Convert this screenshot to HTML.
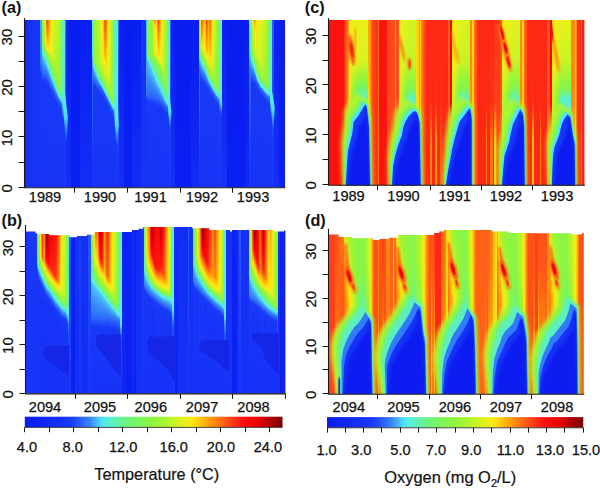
<!DOCTYPE html><html><head><meta charset="utf-8"><style>html,body{margin:0;padding:0;background:#fff;width:600px;height:489px;overflow:hidden}svg{display:block}</style></head><body>
<svg width="600" height="489" viewBox="0 0 600 489" font-family="&apos;Liberation Sans&apos;, sans-serif">
<defs><linearGradient id="cm" x1="0" y1="0" x2="1" y2="0"><stop offset="0.000" stop-color="#081cf0"/><stop offset="0.025" stop-color="#0b20f1"/><stop offset="0.050" stop-color="#0d23f3"/><stop offset="0.075" stop-color="#1027f4"/><stop offset="0.100" stop-color="#122bf5"/><stop offset="0.125" stop-color="#142ff6"/><stop offset="0.150" stop-color="#1634f7"/><stop offset="0.175" stop-color="#1839f8"/><stop offset="0.200" stop-color="#204dfa"/><stop offset="0.225" stop-color="#2b68fc"/><stop offset="0.250" stop-color="#3683fb"/><stop offset="0.275" stop-color="#47affa"/><stop offset="0.300" stop-color="#4ee5f5"/><stop offset="0.325" stop-color="#58f0d7"/><stop offset="0.350" stop-color="#5ef0b5"/><stop offset="0.375" stop-color="#66f298"/><stop offset="0.400" stop-color="#6ef37e"/><stop offset="0.425" stop-color="#76f468"/><stop offset="0.450" stop-color="#7ff558"/><stop offset="0.475" stop-color="#87f54a"/><stop offset="0.500" stop-color="#91f53e"/><stop offset="0.525" stop-color="#9df535"/><stop offset="0.550" stop-color="#aef52d"/><stop offset="0.575" stop-color="#c2f527"/><stop offset="0.600" stop-color="#d8f320"/><stop offset="0.625" stop-color="#ecef1a"/><stop offset="0.650" stop-color="#fde914"/><stop offset="0.675" stop-color="#ffcd0d"/><stop offset="0.700" stop-color="#ffb009"/><stop offset="0.725" stop-color="#ff950c"/><stop offset="0.750" stop-color="#ff7912"/><stop offset="0.775" stop-color="#ff5d17"/><stop offset="0.800" stop-color="#ff4019"/><stop offset="0.825" stop-color="#fd2514"/><stop offset="0.850" stop-color="#fa100e"/><stop offset="0.875" stop-color="#f50809"/><stop offset="0.900" stop-color="#ed0205"/><stop offset="0.925" stop-color="#d00101"/><stop offset="0.950" stop-color="#b30001"/><stop offset="0.975" stop-color="#950003"/><stop offset="1.000" stop-color="#780005"/></linearGradient></defs>
<rect width="600" height="489" fill="#fff"/>
<defs>
<filter id="b05" x="-50%" y="-50%" width="200%" height="200%"><feGaussianBlur stdDeviation="0.5"/></filter>
<filter id="b1" x="-50%" y="-50%" width="200%" height="200%"><feGaussianBlur stdDeviation="1"/></filter>
<filter id="b2" x="-50%" y="-50%" width="200%" height="200%"><feGaussianBlur stdDeviation="2"/></filter>
<filter id="b3" x="-50%" y="-50%" width="200%" height="200%"><feGaussianBlur stdDeviation="3"/></filter>
<filter id="bh" x="-50%" y="-50%" width="200%" height="200%"><feGaussianBlur stdDeviation="1 0.2"/></filter>
</defs>
<defs><clipPath id="cpa"><polygon points="25.00,20.00 285.00,20.00 285.00,187.50 25.00,187.50"/></clipPath><linearGradient id="ga1" x2="0" y2="1"><stop offset=".003" stop-color="#0d23f2"/><stop offset=".994" stop-color="#122af5"/></linearGradient><linearGradient id="ga2" x2="0" y2="1"><stop offset=".003" stop-color="#1531f6"/><stop offset=".994" stop-color="#1633f7"/></linearGradient><linearGradient id="ga3" x2="0" y2="1"><stop offset=".003" stop-color="#1736f7"/><stop offset=".994" stop-color="#1734f7"/></linearGradient><linearGradient id="ga4" x2="0" y2="1"><stop offset=".003" stop-color="#47b0fa"/><stop offset=".255" stop-color="#347dfc"/><stop offset=".331" stop-color="#1939f8"/><stop offset=".994" stop-color="#1734f7"/></linearGradient><linearGradient id="ga5" x2="0" y2="1"><stop offset=".003" stop-color="#8df542"/><stop offset=".138" stop-color="#84f54f"/><stop offset=".167" stop-color="#6ff379"/><stop offset=".202" stop-color="#59f0d1"/><stop offset=".214" stop-color="#4ce3f8"/><stop offset=".22" stop-color="#4bc5fa"/><stop offset=".279" stop-color="#3786fb"/><stop offset=".331" stop-color="#2962fc"/><stop offset=".367" stop-color="#1838f8"/><stop offset=".994" stop-color="#1734f7"/></linearGradient><linearGradient id="ga6" x2="0" y2="1"><stop offset=".003" stop-color="#a2f531"/><stop offset=".144" stop-color="#91f53f"/><stop offset=".185" stop-color="#6ff37c"/><stop offset=".214" stop-color="#5af0ca"/><stop offset=".226" stop-color="#4fe6f3"/><stop offset=".232" stop-color="#4bcafa"/><stop offset=".279" stop-color="#398bfa"/><stop offset=".337" stop-color="#265dfc"/><stop offset=".367" stop-color="#1939f8"/><stop offset=".994" stop-color="#1734f7"/></linearGradient><linearGradient id="ga7" x2="0" y2="1"><stop offset=".003" stop-color="#c1f527"/><stop offset=".144" stop-color="#adf52e"/><stop offset=".185" stop-color="#7cf55d"/><stop offset=".214" stop-color="#63f1a0"/><stop offset=".238" stop-color="#51eaee"/><stop offset=".249" stop-color="#4bc0fa"/><stop offset=".29" stop-color="#3888fb"/><stop offset=".343" stop-color="#2458fc"/><stop offset=".372" stop-color="#1838f8"/><stop offset=".994" stop-color="#1734f7"/></linearGradient><linearGradient id="ga8" x2="0" y2="1"><stop offset=".003" stop-color="#ffe212"/><stop offset=".132" stop-color="#dff21e"/><stop offset=".161" stop-color="#d3f321"/><stop offset=".173" stop-color="#a0f532"/><stop offset=".196" stop-color="#80f555"/><stop offset=".22" stop-color="#6bf387"/><stop offset=".243" stop-color="#59f0d0"/><stop offset=".255" stop-color="#4ce3f7"/><stop offset=".261" stop-color="#4bc5fa"/><stop offset=".296" stop-color="#3889fb"/><stop offset=".343" stop-color="#265bfc"/><stop offset=".372" stop-color="#1838f8"/><stop offset=".994" stop-color="#1734f7"/></linearGradient><linearGradient id="ga9" x2="0" y2="1"><stop offset=".003" stop-color="#ff6715"/><stop offset=".073" stop-color="#ff970c"/><stop offset=".167" stop-color="#fee814"/><stop offset=".179" stop-color="#f8eb16"/><stop offset=".185" stop-color="#daf31f"/><stop offset=".191" stop-color="#aaf52f"/><stop offset=".196" stop-color="#8ff540"/><stop offset=".232" stop-color="#6ef37c"/><stop offset=".267" stop-color="#51eaee"/><stop offset=".279" stop-color="#4bbefa"/><stop offset=".308" stop-color="#3787fb"/><stop offset=".372" stop-color="#1939f8"/><stop offset=".994" stop-color="#1734f7"/></linearGradient><linearGradient id="ga10" x2="0" y2="1"><stop offset=".003" stop-color="#ff4319"/><stop offset=".038" stop-color="#ff5d17"/><stop offset=".138" stop-color="#ffbe0b"/><stop offset=".185" stop-color="#fce915"/><stop offset=".191" stop-color="#f8eb16"/><stop offset=".208" stop-color="#99f538"/><stop offset=".243" stop-color="#72f473"/><stop offset=".273" stop-color="#5af0cc"/><stop offset=".284" stop-color="#4ee5f4"/><stop offset=".29" stop-color="#4bc7fa"/><stop offset=".32" stop-color="#3887fb"/><stop offset=".384" stop-color="#1839f8"/><stop offset=".994" stop-color="#1734f7"/></linearGradient><linearGradient id="ga11" x2="0" y2="1"><stop offset=".003" stop-color="#ff6a15"/><stop offset=".132" stop-color="#ffc20b"/><stop offset=".191" stop-color="#faea15"/><stop offset=".196" stop-color="#f7eb16"/><stop offset=".22" stop-color="#9ef534"/><stop offset=".249" stop-color="#7af561"/><stop offset=".279" stop-color="#61f1ac"/><stop offset=".296" stop-color="#53edea"/><stop offset=".302" stop-color="#4bdffa"/><stop offset=".308" stop-color="#4bc0fa"/><stop offset=".331" stop-color="#398afa"/><stop offset=".396" stop-color="#1939f8"/><stop offset=".994" stop-color="#1734f7"/></linearGradient><linearGradient id="ga12" x2="0" y2="1"><stop offset=".003" stop-color="#ffa808"/><stop offset=".179" stop-color="#fbea15"/><stop offset=".202" stop-color="#eeee19"/><stop offset=".238" stop-color="#97f53a"/><stop offset=".273" stop-color="#73f46f"/><stop offset=".302" stop-color="#5bf0c6"/><stop offset=".314" stop-color="#50e8f0"/><stop offset=".326" stop-color="#4bbafa"/><stop offset=".349" stop-color="#3887fb"/><stop offset=".408" stop-color="#193af8"/><stop offset=".994" stop-color="#1734f7"/></linearGradient><linearGradient id="ga13" x2="0" y2="1"><stop offset=".003" stop-color="#ffcc0d"/><stop offset=".155" stop-color="#f8eb16"/><stop offset=".202" stop-color="#f0ed18"/><stop offset=".249" stop-color="#9af537"/><stop offset=".284" stop-color="#77f467"/><stop offset=".314" stop-color="#5ef0b7"/><stop offset=".326" stop-color="#55f0e4"/><stop offset=".331" stop-color="#4ee5f5"/><stop offset=".337" stop-color="#4bc6fa"/><stop offset=".361" stop-color="#398afa"/><stop offset=".425" stop-color="#1839f8"/><stop offset=".994" stop-color="#1734f7"/></linearGradient><linearGradient id="ga14" x2="0" y2="1"><stop offset=".003" stop-color="#fbea15"/><stop offset=".208" stop-color="#eaf01a"/><stop offset=".261" stop-color="#9cf536"/><stop offset=".296" stop-color="#7bf55f"/><stop offset=".326" stop-color="#61f1aa"/><stop offset=".343" stop-color="#54eee9"/><stop offset=".349" stop-color="#4ce2f9"/><stop offset=".355" stop-color="#4bc1fa"/><stop offset=".378" stop-color="#3785fb"/><stop offset=".437" stop-color="#1839f8"/><stop offset=".994" stop-color="#1734f7"/></linearGradient><linearGradient id="ga15" x2="0" y2="1"><stop offset=".003" stop-color="#edef19"/><stop offset=".22" stop-color="#d6f321"/><stop offset=".279" stop-color="#99f538"/><stop offset=".308" stop-color="#7ff556"/><stop offset=".331" stop-color="#6af38a"/><stop offset=".361" stop-color="#52ecec"/><stop offset=".367" stop-color="#4bdbfa"/><stop offset=".378" stop-color="#44a8fa"/><stop offset=".396" stop-color="#347efc"/><stop offset=".443" stop-color="#193af8"/><stop offset=".994" stop-color="#1734f7"/></linearGradient><linearGradient id="ga16" x2="0" y2="1"><stop offset=".003" stop-color="#dff21e"/><stop offset=".226" stop-color="#c8f425"/><stop offset=".302" stop-color="#94f53c"/><stop offset=".337" stop-color="#74f46c"/><stop offset=".367" stop-color="#5bf0c4"/><stop offset=".378" stop-color="#50e9ef"/><stop offset=".39" stop-color="#49b5fa"/><stop offset=".408" stop-color="#357ffc"/><stop offset=".455" stop-color="#193af8"/><stop offset=".994" stop-color="#1734f7"/></linearGradient><linearGradient id="ga17" x2="0" y2="1"><stop offset=".003" stop-color="#d3f321"/><stop offset=".238" stop-color="#b9f52a"/><stop offset=".331" stop-color="#8af546"/><stop offset=".361" stop-color="#6ef37e"/><stop offset=".39" stop-color="#56f0e2"/><stop offset=".396" stop-color="#4ee6f3"/><stop offset=".413" stop-color="#3b91fa"/><stop offset=".437" stop-color="#2861fc"/><stop offset=".472" stop-color="#1838f8"/><stop offset=".994" stop-color="#1734f7"/></linearGradient><linearGradient id="ga18" x2="0" y2="1"><stop offset=".003" stop-color="#cdf423"/><stop offset=".249" stop-color="#b2f52c"/><stop offset=".343" stop-color="#91f53f"/><stop offset=".372" stop-color="#72f470"/><stop offset=".408" stop-color="#54efe8"/><stop offset=".413" stop-color="#4ce2f8"/><stop offset=".425" stop-color="#419ffa"/><stop offset=".437" stop-color="#3278fc"/><stop offset=".478" stop-color="#193af8"/><stop offset=".994" stop-color="#1734f7"/></linearGradient><linearGradient id="ga19" x2="0" y2="1"><stop offset=".003" stop-color="#c7f425"/><stop offset=".255" stop-color="#adf52e"/><stop offset=".361" stop-color="#91f53f"/><stop offset=".39" stop-color="#71f473"/><stop offset=".425" stop-color="#52ebed"/><stop offset=".431" stop-color="#4bd9fa"/><stop offset=".443" stop-color="#3a8efa"/><stop offset=".455" stop-color="#2c6bfc"/><stop offset=".496" stop-color="#1838f8"/><stop offset=".994" stop-color="#1734f7"/></linearGradient><linearGradient id="ga20" x2="0" y2="1"><stop offset=".003" stop-color="#c0f527"/><stop offset=".267" stop-color="#a7f530"/><stop offset=".378" stop-color="#91f53f"/><stop offset=".408" stop-color="#70f476"/><stop offset=".437" stop-color="#56f0df"/><stop offset=".443" stop-color="#4fe7f2"/><stop offset=".449" stop-color="#4bcdfa"/><stop offset=".455" stop-color="#41a0fa"/><stop offset=".466" stop-color="#2d6cfc"/><stop offset=".501" stop-color="#193af8"/><stop offset=".994" stop-color="#1734f7"/></linearGradient><linearGradient id="ga21" x2="0" y2="1"><stop offset=".003" stop-color="#b8f52a"/><stop offset=".279" stop-color="#a0f532"/><stop offset=".396" stop-color="#8cf544"/><stop offset=".419" stop-color="#72f471"/><stop offset=".455" stop-color="#51eaee"/><stop offset=".46" stop-color="#4bd6fa"/><stop offset=".466" stop-color="#42a3fa"/><stop offset=".472" stop-color="#347efc"/><stop offset=".478" stop-color="#2c69fc"/><stop offset=".519" stop-color="#1838f8"/><stop offset=".994" stop-color="#1734f7"/></linearGradient><linearGradient id="ga22" x2="0" y2="1"><stop offset=".003" stop-color="#aef52d"/><stop offset=".384" stop-color="#92f53d"/><stop offset=".408" stop-color="#8af547"/><stop offset=".431" stop-color="#70f476"/><stop offset=".46" stop-color="#56f0e1"/><stop offset=".466" stop-color="#4fe6f3"/><stop offset=".472" stop-color="#4bcafa"/><stop offset=".478" stop-color="#398bfa"/><stop offset=".484" stop-color="#2c6bfc"/><stop offset=".519" stop-color="#193af8"/><stop offset=".994" stop-color="#1734f7"/></linearGradient><linearGradient id="ga23" x2="0" y2="1"><stop offset=".003" stop-color="#a3f531"/><stop offset=".413" stop-color="#8ff540"/><stop offset=".443" stop-color="#6ff37b"/><stop offset=".472" stop-color="#54efe7"/><stop offset=".478" stop-color="#4ce3f8"/><stop offset=".484" stop-color="#48b2fa"/><stop offset=".49" stop-color="#3175fc"/><stop offset=".513" stop-color="#204dfa"/><stop offset=".537" stop-color="#1837f8"/><stop offset=".994" stop-color="#1734f7"/></linearGradient><linearGradient id="ga24" x2="0" y2="1"><stop offset=".003" stop-color="#9cf536"/><stop offset=".425" stop-color="#8df543"/><stop offset=".449" stop-color="#73f46e"/><stop offset=".484" stop-color="#52ecec"/><stop offset=".49" stop-color="#4bdbfa"/><stop offset=".496" stop-color="#398afa"/><stop offset=".501" stop-color="#2b67fc"/><stop offset=".537" stop-color="#1939f8"/><stop offset=".994" stop-color="#1734f7"/></linearGradient><linearGradient id="ga25" x2="0" y2="1"><stop offset=".003" stop-color="#5cf0be"/><stop offset=".455" stop-color="#59f0d0"/><stop offset=".49" stop-color="#4ce2f8"/><stop offset=".519" stop-color="#42a3fa"/><stop offset=".572" stop-color="#2252fb"/><stop offset=".595" stop-color="#1839f8"/><stop offset=".994" stop-color="#1736f7"/></linearGradient><linearGradient id="ga26" x2="0" y2="1"><stop offset=".003" stop-color="#3580fc"/><stop offset=".63" stop-color="#214ffb"/><stop offset=".771" stop-color="#1838f8"/><stop offset=".994" stop-color="#1736f7"/></linearGradient><linearGradient id="ga27" x2="0" y2="1"><stop offset=".003" stop-color="#0a1ff1"/><stop offset=".994" stop-color="#142ff6"/></linearGradient><linearGradient id="ga28" x2="0" y2="1"><stop offset=".003" stop-color="#081df0"/><stop offset=".994" stop-color="#0a1ff1"/></linearGradient><linearGradient id="ga29" x2="0" y2="1"><stop offset=".003" stop-color="#091ef1"/><stop offset=".994" stop-color="#132df6"/></linearGradient><linearGradient id="ga30" x2="0" y2="1"><stop offset=".003" stop-color="#5af0cc"/><stop offset=".191" stop-color="#51eaed"/><stop offset=".226" stop-color="#4bd7fa"/><stop offset=".302" stop-color="#388afb"/><stop offset=".384" stop-color="#2c69fc"/><stop offset=".859" stop-color="#1839f8"/><stop offset=".994" stop-color="#1736f7"/></linearGradient><linearGradient id="ga31" x2="0" y2="1"><stop offset=".003" stop-color="#81f554"/><stop offset=".249" stop-color="#7bf55f"/><stop offset=".255" stop-color="#75f46a"/><stop offset=".273" stop-color="#59f0cf"/><stop offset=".284" stop-color="#4de4f6"/><stop offset=".29" stop-color="#4bc5fa"/><stop offset=".326" stop-color="#388afb"/><stop offset=".378" stop-color="#2253fb"/><stop offset=".402" stop-color="#1839f8"/><stop offset=".994" stop-color="#1734f7"/></linearGradient><linearGradient id="ga32" x2="0" y2="1"><stop offset=".003" stop-color="#97f539"/><stop offset=".249" stop-color="#8ff540"/><stop offset=".267" stop-color="#77f466"/><stop offset=".296" stop-color="#53edeb"/><stop offset=".302" stop-color="#4bdffa"/><stop offset=".308" stop-color="#4bc1fa"/><stop offset=".337" stop-color="#3889fb"/><stop offset=".408" stop-color="#1839f8"/><stop offset=".994" stop-color="#1734f7"/></linearGradient><linearGradient id="ga33" x2="0" y2="1"><stop offset=".003" stop-color="#9df535"/><stop offset=".267" stop-color="#8ff540"/><stop offset=".284" stop-color="#74f46c"/><stop offset=".308" stop-color="#57f0db"/><stop offset=".314" stop-color="#51e9ef"/><stop offset=".326" stop-color="#4bbcfa"/><stop offset=".349" stop-color="#3888fb"/><stop offset=".408" stop-color="#193af8"/><stop offset=".994" stop-color="#1734f7"/></linearGradient><linearGradient id="ga34" x2="0" y2="1"><stop offset=".003" stop-color="#a5f530"/><stop offset=".267" stop-color="#94f53c"/><stop offset=".284" stop-color="#8bf546"/><stop offset=".302" stop-color="#71f474"/><stop offset=".326" stop-color="#56f0e1"/><stop offset=".331" stop-color="#4fe6f3"/><stop offset=".349" stop-color="#42a2fa"/><stop offset=".367" stop-color="#347dfc"/><stop offset=".413" stop-color="#193af8"/><stop offset=".994" stop-color="#1734f7"/></linearGradient><linearGradient id="ga35" x2="0" y2="1"><stop offset=".003" stop-color="#aef52d"/><stop offset=".267" stop-color="#9af537"/><stop offset=".296" stop-color="#90f53f"/><stop offset=".32" stop-color="#6ef37d"/><stop offset=".343" stop-color="#55f0e7"/><stop offset=".349" stop-color="#4de3f7"/><stop offset=".367" stop-color="#3b90fa"/><stop offset=".396" stop-color="#265bfc"/><stop offset=".425" stop-color="#1839f8"/><stop offset=".994" stop-color="#1734f7"/></linearGradient><linearGradient id="ga36" x2="0" y2="1"><stop offset=".003" stop-color="#b9f52a"/><stop offset=".255" stop-color="#a5f530"/><stop offset=".314" stop-color="#8bf546"/><stop offset=".331" stop-color="#72f471"/><stop offset=".361" stop-color="#51eaee"/><stop offset=".367" stop-color="#4bd6fa"/><stop offset=".378" stop-color="#3a8dfa"/><stop offset=".396" stop-color="#2963fc"/><stop offset=".431" stop-color="#1839f8"/><stop offset=".994" stop-color="#1734f7"/></linearGradient><linearGradient id="ga37" x2="0" y2="1"><stop offset=".003" stop-color="#cbf424"/><stop offset=".255" stop-color="#b3f52c"/><stop offset=".32" stop-color="#91f53f"/><stop offset=".343" stop-color="#70f477"/><stop offset=".367" stop-color="#56f0e0"/><stop offset=".372" stop-color="#4fe7f2"/><stop offset=".378" stop-color="#4bccfa"/><stop offset=".384" stop-color="#41a1fa"/><stop offset=".396" stop-color="#2e6ffc"/><stop offset=".437" stop-color="#1839f8"/><stop offset=".994" stop-color="#1734f7"/></linearGradient><linearGradient id="ga38" x2="0" y2="1"><stop offset=".003" stop-color="#def21e"/><stop offset=".249" stop-color="#c7f425"/><stop offset=".331" stop-color="#8ff540"/><stop offset=".355" stop-color="#6ef37d"/><stop offset=".378" stop-color="#55f0e6"/><stop offset=".384" stop-color="#4de4f6"/><stop offset=".39" stop-color="#4bbffa"/><stop offset=".396" stop-color="#398dfa"/><stop offset=".402" stop-color="#3073fc"/><stop offset=".443" stop-color="#1939f8"/><stop offset=".994" stop-color="#1734f7"/></linearGradient><linearGradient id="ga39" x2="0" y2="1"><stop offset=".003" stop-color="#f1ed18"/><stop offset=".249" stop-color="#daf31f"/><stop offset=".326" stop-color="#99f538"/><stop offset=".343" stop-color="#8ef541"/><stop offset=".361" stop-color="#75f46a"/><stop offset=".39" stop-color="#54eee9"/><stop offset=".396" stop-color="#4be2f9"/><stop offset=".402" stop-color="#48b1fa"/><stop offset=".408" stop-color="#357ffc"/><stop offset=".413" stop-color="#2b68fc"/><stop offset=".449" stop-color="#1939f8"/><stop offset=".994" stop-color="#1734f7"/></linearGradient><linearGradient id="ga40" x2="0" y2="1"><stop offset=".003" stop-color="#ffdd11"/><stop offset=".232" stop-color="#edef19"/><stop offset=".261" stop-color="#e1f21d"/><stop offset=".337" stop-color="#9af537"/><stop offset=".355" stop-color="#8ef541"/><stop offset=".372" stop-color="#75f46b"/><stop offset=".402" stop-color="#53edea"/><stop offset=".408" stop-color="#4bdffa"/><stop offset=".419" stop-color="#2d6cfc"/><stop offset=".455" stop-color="#193af8"/><stop offset=".994" stop-color="#1734f7"/></linearGradient><linearGradient id="ga41" x2="0" y2="1"><stop offset=".003" stop-color="#ffb409"/><stop offset=".249" stop-color="#f8ea16"/><stop offset=".355" stop-color="#97f539"/><stop offset=".367" stop-color="#8ff540"/><stop offset=".384" stop-color="#75f46b"/><stop offset=".413" stop-color="#52ecec"/><stop offset=".419" stop-color="#4bdbfa"/><stop offset=".425" stop-color="#398afa"/><stop offset=".431" stop-color="#2b67fc"/><stop offset=".466" stop-color="#1939f8"/><stop offset=".994" stop-color="#1734f7"/></linearGradient><linearGradient id="ga42" x2="0" y2="1"><stop offset=".003" stop-color="#ff5c17"/><stop offset=".191" stop-color="#ffb209"/><stop offset=".261" stop-color="#fce915"/><stop offset=".32" stop-color="#c3f526"/><stop offset=".378" stop-color="#91f53e"/><stop offset=".396" stop-color="#76f469"/><stop offset=".425" stop-color="#52ecec"/><stop offset=".431" stop-color="#4bdbfa"/><stop offset=".437" stop-color="#398afa"/><stop offset=".443" stop-color="#2b67fc"/><stop offset=".478" stop-color="#1939f8"/><stop offset=".994" stop-color="#1734f7"/></linearGradient><linearGradient id="ga43" x2="0" y2="1"><stop offset=".003" stop-color="#ff3517"/><stop offset=".202" stop-color="#ff9f0a"/><stop offset=".279" stop-color="#fbe915"/><stop offset=".384" stop-color="#96f53b"/><stop offset=".402" stop-color="#80f555"/><stop offset=".419" stop-color="#65f29a"/><stop offset=".431" stop-color="#58f0d7"/><stop offset=".437" stop-color="#52ecec"/><stop offset=".443" stop-color="#4bdbfa"/><stop offset=".449" stop-color="#398afa"/><stop offset=".455" stop-color="#2b67fc"/><stop offset=".49" stop-color="#1939f8"/><stop offset=".994" stop-color="#1734f7"/></linearGradient><linearGradient id="ga44" x2="0" y2="1"><stop offset=".003" stop-color="#ff860f"/><stop offset=".226" stop-color="#ffcc0d"/><stop offset=".296" stop-color="#f8eb16"/><stop offset=".396" stop-color="#96f53a"/><stop offset=".413" stop-color="#82f552"/><stop offset=".431" stop-color="#66f298"/><stop offset=".443" stop-color="#58f0d7"/><stop offset=".449" stop-color="#52ecec"/><stop offset=".455" stop-color="#4bdbfa"/><stop offset=".46" stop-color="#398afa"/><stop offset=".466" stop-color="#2b67fc"/><stop offset=".501" stop-color="#1939f8"/><stop offset=".994" stop-color="#1734f7"/></linearGradient><linearGradient id="ga45" x2="0" y2="1"><stop offset=".003" stop-color="#ffc00b"/><stop offset=".273" stop-color="#f8eb16"/><stop offset=".32" stop-color="#e9f01b"/><stop offset=".408" stop-color="#97f53a"/><stop offset=".419" stop-color="#8ff540"/><stop offset=".437" stop-color="#70f477"/><stop offset=".455" stop-color="#58f0d7"/><stop offset=".46" stop-color="#52ecec"/><stop offset=".466" stop-color="#4bdbfa"/><stop offset=".472" stop-color="#398afa"/><stop offset=".478" stop-color="#2b67fc"/><stop offset=".513" stop-color="#1939f8"/><stop offset=".994" stop-color="#1734f7"/></linearGradient><linearGradient id="ga46" x2="0" y2="1"><stop offset=".003" stop-color="#ffe814"/><stop offset=".32" stop-color="#e6f11b"/><stop offset=".413" stop-color="#99f537"/><stop offset=".431" stop-color="#91f53f"/><stop offset=".449" stop-color="#71f474"/><stop offset=".466" stop-color="#58f0d7"/><stop offset=".472" stop-color="#52ecec"/><stop offset=".478" stop-color="#4bdbfa"/><stop offset=".484" stop-color="#398afa"/><stop offset=".49" stop-color="#2b67fc"/><stop offset=".525" stop-color="#1939f8"/><stop offset=".994" stop-color="#1734f7"/></linearGradient><linearGradient id="ga47" x2="0" y2="1"><stop offset=".003" stop-color="#e7f11b"/><stop offset=".331" stop-color="#d6f320"/><stop offset=".431" stop-color="#96f53a"/><stop offset=".449" stop-color="#89f549"/><stop offset=".46" stop-color="#72f470"/><stop offset=".478" stop-color="#58f0d7"/><stop offset=".484" stop-color="#52ecec"/><stop offset=".49" stop-color="#4bdbfa"/><stop offset=".496" stop-color="#398afa"/><stop offset=".501" stop-color="#2b67fc"/><stop offset=".537" stop-color="#1939f8"/><stop offset=".994" stop-color="#1734f7"/></linearGradient><linearGradient id="ga48" x2="0" y2="1"><stop offset=".003" stop-color="#cbf424"/><stop offset=".343" stop-color="#b6f52b"/><stop offset=".455" stop-color="#91f53e"/><stop offset=".466" stop-color="#7ef55a"/><stop offset=".472" stop-color="#73f46f"/><stop offset=".49" stop-color="#58f0d7"/><stop offset=".496" stop-color="#52ecec"/><stop offset=".501" stop-color="#4bdbfa"/><stop offset=".507" stop-color="#398afa"/><stop offset=".513" stop-color="#2b67fc"/><stop offset=".548" stop-color="#1939f8"/><stop offset=".994" stop-color="#1734f7"/></linearGradient><linearGradient id="ga49" x2="0" y2="1"><stop offset=".003" stop-color="#b0f52d"/><stop offset=".408" stop-color="#98f539"/><stop offset=".466" stop-color="#91f53f"/><stop offset=".478" stop-color="#7ef559"/><stop offset=".484" stop-color="#73f46e"/><stop offset=".501" stop-color="#58f0d7"/><stop offset=".507" stop-color="#52ecec"/><stop offset=".513" stop-color="#4bdbfa"/><stop offset=".519" stop-color="#398afa"/><stop offset=".525" stop-color="#2b67fc"/><stop offset=".56" stop-color="#1939f8"/><stop offset=".994" stop-color="#1734f7"/></linearGradient><linearGradient id="ga50" x2="0" y2="1"><stop offset=".003" stop-color="#9ef534"/><stop offset=".478" stop-color="#8ff541"/><stop offset=".49" stop-color="#7df55b"/><stop offset=".496" stop-color="#72f470"/><stop offset=".513" stop-color="#58f0d7"/><stop offset=".519" stop-color="#52ecec"/><stop offset=".525" stop-color="#4bdbfa"/><stop offset=".531" stop-color="#398afa"/><stop offset=".537" stop-color="#2b67fc"/><stop offset=".572" stop-color="#1939f8"/><stop offset=".994" stop-color="#1734f7"/></linearGradient><linearGradient id="ga51" x2="0" y2="1"><stop offset=".003" stop-color="#95f53b"/><stop offset=".49" stop-color="#8bf545"/><stop offset=".501" stop-color="#7bf55f"/><stop offset=".513" stop-color="#66f295"/><stop offset=".525" stop-color="#58f0d7"/><stop offset=".531" stop-color="#52ecec"/><stop offset=".537" stop-color="#4bdbfa"/><stop offset=".543" stop-color="#398afa"/><stop offset=".548" stop-color="#2b67fc"/><stop offset=".584" stop-color="#1939f8"/><stop offset=".994" stop-color="#1734f7"/></linearGradient><linearGradient id="ga52" x2="0" y2="1"><stop offset=".003" stop-color="#5cf0be"/><stop offset=".484" stop-color="#59f0d0"/><stop offset=".513" stop-color="#4de5f5"/><stop offset=".548" stop-color="#3e97fa"/><stop offset=".619" stop-color="#193af8"/><stop offset=".994" stop-color="#1736f7"/></linearGradient><linearGradient id="ga53" x2="0" y2="1"><stop offset=".003" stop-color="#2d6bfc"/><stop offset=".718" stop-color="#1b40f9"/><stop offset=".994" stop-color="#1736f7"/></linearGradient><linearGradient id="ga54" x2="0" y2="1"><stop offset=".003" stop-color="#0a1ff1"/><stop offset=".994" stop-color="#142ff6"/></linearGradient><linearGradient id="ga55" x2="0" y2="1"><stop offset=".003" stop-color="#081df0"/><stop offset=".994" stop-color="#0a1ff1"/></linearGradient><linearGradient id="ga56" x2="0" y2="1"><stop offset=".003" stop-color="#091ef1"/><stop offset=".994" stop-color="#132df6"/></linearGradient><linearGradient id="ga57" x2="0" y2="1"><stop offset=".003" stop-color="#1531f6"/><stop offset=".994" stop-color="#1634f7"/></linearGradient><linearGradient id="ga58" x2="0" y2="1"><stop offset=".003" stop-color="#4bc7fa"/><stop offset=".273" stop-color="#44a8fa"/><stop offset=".419" stop-color="#3784fb"/><stop offset=".449" stop-color="#3580fc"/><stop offset=".466" stop-color="#2252fb"/><stop offset=".478" stop-color="#1838f8"/><stop offset=".994" stop-color="#1734f7"/></linearGradient><linearGradient id="ga59" x2="0" y2="1"><stop offset=".003" stop-color="#79f462"/><stop offset=".22" stop-color="#73f46d"/><stop offset=".226" stop-color="#6cf384"/><stop offset=".238" stop-color="#58f0d7"/><stop offset=".243" stop-color="#52ecec"/><stop offset=".249" stop-color="#4bdbfa"/><stop offset=".255" stop-color="#4bc5fa"/><stop offset=".361" stop-color="#3887fb"/><stop offset=".455" stop-color="#2b68fc"/><stop offset=".49" stop-color="#1939f8"/><stop offset=".994" stop-color="#1734f7"/></linearGradient><linearGradient id="ga60" x2="0" y2="1"><stop offset=".003" stop-color="#89f549"/><stop offset=".22" stop-color="#82f551"/><stop offset=".226" stop-color="#7af561"/><stop offset=".238" stop-color="#5df0ba"/><stop offset=".243" stop-color="#57f0dc"/><stop offset=".249" stop-color="#50e9f0"/><stop offset=".261" stop-color="#4bc4fa"/><stop offset=".361" stop-color="#3888fb"/><stop offset=".455" stop-color="#2c6afc"/><stop offset=".496" stop-color="#1838f8"/><stop offset=".994" stop-color="#1734f7"/></linearGradient><linearGradient id="ga61" x2="0" y2="1"><stop offset=".003" stop-color="#8cf544"/><stop offset=".22" stop-color="#86f54d"/><stop offset=".232" stop-color="#78f465"/><stop offset=".249" stop-color="#60f1b0"/><stop offset=".261" stop-color="#55f0e6"/><stop offset=".267" stop-color="#4de4f6"/><stop offset=".273" stop-color="#4bc6fa"/><stop offset=".372" stop-color="#3887fb"/><stop offset=".46" stop-color="#2a64fc"/><stop offset=".496" stop-color="#1839f8"/><stop offset=".994" stop-color="#1734f7"/></linearGradient><linearGradient id="ga62" x2="0" y2="1"><stop offset=".003" stop-color="#90f53f"/><stop offset=".22" stop-color="#89f548"/><stop offset=".243" stop-color="#72f471"/><stop offset=".279" stop-color="#52ebed"/><stop offset=".284" stop-color="#4bd9fa"/><stop offset=".29" stop-color="#4bc4fa"/><stop offset=".378" stop-color="#3888fb"/><stop offset=".46" stop-color="#2a66fc"/><stop offset=".496" stop-color="#1939f8"/><stop offset=".994" stop-color="#1734f7"/></linearGradient><linearGradient id="ga63" x2="0" y2="1"><stop offset=".003" stop-color="#95f53b"/><stop offset=".22" stop-color="#8df543"/><stop offset=".255" stop-color="#70f378"/><stop offset=".284" stop-color="#5af0cb"/><stop offset=".296" stop-color="#4ee6f4"/><stop offset=".302" stop-color="#4bc8fa"/><stop offset=".384" stop-color="#3888fb"/><stop offset=".46" stop-color="#2b68fc"/><stop offset=".496" stop-color="#1939f8"/><stop offset=".994" stop-color="#1734f7"/></linearGradient><linearGradient id="ga64" x2="0" y2="1"><stop offset=".003" stop-color="#99f538"/><stop offset=".22" stop-color="#91f53f"/><stop offset=".261" stop-color="#73f46f"/><stop offset=".296" stop-color="#5cf0c0"/><stop offset=".308" stop-color="#53edea"/><stop offset=".314" stop-color="#4be0fa"/><stop offset=".32" stop-color="#4bc5fa"/><stop offset=".39" stop-color="#3889fb"/><stop offset=".466" stop-color="#2962fc"/><stop offset=".501" stop-color="#1838f8"/><stop offset=".994" stop-color="#1734f7"/></linearGradient><linearGradient id="ga65" x2="0" y2="1"><stop offset=".003" stop-color="#f7eb16"/><stop offset=".056" stop-color="#d4f321"/><stop offset=".097" stop-color="#b3f52c"/><stop offset=".214" stop-color="#aff52d"/><stop offset=".226" stop-color="#8ef541"/><stop offset=".273" stop-color="#71f474"/><stop offset=".314" stop-color="#5af0c7"/><stop offset=".326" stop-color="#50e9ef"/><stop offset=".337" stop-color="#4bc2fa"/><stop offset=".402" stop-color="#3888fb"/><stop offset=".466" stop-color="#2a64fc"/><stop offset=".501" stop-color="#1839f8"/><stop offset=".994" stop-color="#1734f7"/></linearGradient><linearGradient id="ga66" x2="0" y2="1"><stop offset=".003" stop-color="#ff5517"/><stop offset=".015" stop-color="#ff6116"/><stop offset=".038" stop-color="#ffc30b"/><stop offset=".05" stop-color="#f6eb17"/><stop offset=".056" stop-color="#e7f11b"/><stop offset=".214" stop-color="#e3f21c"/><stop offset=".22" stop-color="#c6f425"/><stop offset=".226" stop-color="#98f539"/><stop offset=".249" stop-color="#83f550"/><stop offset=".29" stop-color="#6df380"/><stop offset=".331" stop-color="#59f0cc"/><stop offset=".343" stop-color="#4ee5f5"/><stop offset=".349" stop-color="#4bc7fa"/><stop offset=".408" stop-color="#3889fb"/><stop offset=".466" stop-color="#2b67fc"/><stop offset=".501" stop-color="#1939f8"/><stop offset=".994" stop-color="#1734f7"/></linearGradient><linearGradient id="ga67" x2="0" y2="1"><stop offset=".003" stop-color="#ffb309"/><stop offset=".038" stop-color="#ffcd0d"/><stop offset=".073" stop-color="#faea16"/><stop offset=".12" stop-color="#e6f11b"/><stop offset=".214" stop-color="#e3f21c"/><stop offset=".22" stop-color="#d5f321"/><stop offset=".232" stop-color="#a2f531"/><stop offset=".243" stop-color="#8df542"/><stop offset=".302" stop-color="#6ef37e"/><stop offset=".343" stop-color="#5af0c7"/><stop offset=".355" stop-color="#51e9ef"/><stop offset=".367" stop-color="#4bc1fa"/><stop offset=".419" stop-color="#3787fb"/><stop offset=".472" stop-color="#2962fc"/><stop offset=".507" stop-color="#1838f8"/><stop offset=".994" stop-color="#1734f7"/></linearGradient><linearGradient id="ga68" x2="0" y2="1"><stop offset=".003" stop-color="#ffc00b"/><stop offset=".109" stop-color="#f9ea16"/><stop offset=".22" stop-color="#e8f11b"/><stop offset=".243" stop-color="#9cf536"/><stop offset=".261" stop-color="#89f548"/><stop offset=".314" stop-color="#6ef37e"/><stop offset=".355" stop-color="#5bf0c5"/><stop offset=".367" stop-color="#52ecec"/><stop offset=".372" stop-color="#4bdbfa"/><stop offset=".378" stop-color="#4bc2fa"/><stop offset=".425" stop-color="#3888fb"/><stop offset=".478" stop-color="#275efc"/><stop offset=".507" stop-color="#1939f8"/><stop offset=".994" stop-color="#1734f7"/></linearGradient><linearGradient id="ga69" x2="0" y2="1"><stop offset=".003" stop-color="#ff7d11"/><stop offset=".12" stop-color="#ffc90c"/><stop offset=".179" stop-color="#fde915"/><stop offset=".232" stop-color="#f0ee19"/><stop offset=".255" stop-color="#98f539"/><stop offset=".32" stop-color="#70f477"/><stop offset=".367" stop-color="#5bf0c5"/><stop offset=".378" stop-color="#52ecec"/><stop offset=".384" stop-color="#4bdbfa"/><stop offset=".39" stop-color="#4bc2fa"/><stop offset=".431" stop-color="#3889fb"/><stop offset=".484" stop-color="#265bfc"/><stop offset=".513" stop-color="#1839f8"/><stop offset=".994" stop-color="#1734f7"/></linearGradient><linearGradient id="ga70" x2="0" y2="1"><stop offset=".003" stop-color="#ff3818"/><stop offset=".044" stop-color="#ff5417"/><stop offset=".173" stop-color="#ffc30b"/><stop offset=".238" stop-color="#f9ea16"/><stop offset=".243" stop-color="#f4ec17"/><stop offset=".261" stop-color="#a3f531"/><stop offset=".273" stop-color="#8df542"/><stop offset=".331" stop-color="#70f378"/><stop offset=".378" stop-color="#5bf0c5"/><stop offset=".39" stop-color="#52ecec"/><stop offset=".396" stop-color="#4bdbfa"/><stop offset=".402" stop-color="#4bc1fa"/><stop offset=".437" stop-color="#398afa"/><stop offset=".49" stop-color="#2458fc"/><stop offset=".519" stop-color="#1838f8"/><stop offset=".994" stop-color="#1734f7"/></linearGradient><linearGradient id="ga71" x2="0" y2="1"><stop offset=".003" stop-color="#ff7213"/><stop offset=".144" stop-color="#ffc30b"/><stop offset=".226" stop-color="#faea15"/><stop offset=".249" stop-color="#f4ec17"/><stop offset=".261" stop-color="#d0f422"/><stop offset=".279" stop-color="#94f53c"/><stop offset=".343" stop-color="#70f477"/><stop offset=".39" stop-color="#5bf0c3"/><stop offset=".402" stop-color="#54eee9"/><stop offset=".408" stop-color="#4ce2f9"/><stop offset=".413" stop-color="#4bc3fa"/><stop offset=".449" stop-color="#3888fb"/><stop offset=".507" stop-color="#1d46f9"/><stop offset=".531" stop-color="#1736f7"/><stop offset=".994" stop-color="#1734f7"/></linearGradient><linearGradient id="ga72" x2="0" y2="1"><stop offset=".003" stop-color="#ffa908"/><stop offset=".185" stop-color="#fbea15"/><stop offset=".261" stop-color="#eeee19"/><stop offset=".284" stop-color="#a1f532"/><stop offset=".308" stop-color="#88f549"/><stop offset=".361" stop-color="#6ef37e"/><stop offset=".408" stop-color="#59f0ce"/><stop offset=".419" stop-color="#4de4f6"/><stop offset=".425" stop-color="#4bc6fa"/><stop offset=".455" stop-color="#398afa"/><stop offset=".513" stop-color="#1d44f9"/><stop offset=".548" stop-color="#1734f7"/><stop offset=".994" stop-color="#1734f7"/></linearGradient><linearGradient id="ga73" x2="0" y2="1"><stop offset=".003" stop-color="#ffe413"/><stop offset=".267" stop-color="#eaf01a"/><stop offset=".279" stop-color="#d1f322"/><stop offset=".302" stop-color="#97f539"/><stop offset=".372" stop-color="#6ef37c"/><stop offset=".419" stop-color="#5af0ca"/><stop offset=".431" stop-color="#4fe7f2"/><stop offset=".443" stop-color="#4bb8fa"/><stop offset=".466" stop-color="#3787fb"/><stop offset=".525" stop-color="#193af8"/><stop offset=".994" stop-color="#1734f7"/></linearGradient><linearGradient id="ga74" x2="0" y2="1"><stop offset=".003" stop-color="#eeee19"/><stop offset=".273" stop-color="#d7f320"/><stop offset=".32" stop-color="#93f53d"/><stop offset=".384" stop-color="#70f477"/><stop offset=".431" stop-color="#5bf0c5"/><stop offset=".443" stop-color="#52ecec"/><stop offset=".449" stop-color="#4bdbfa"/><stop offset=".455" stop-color="#4bbdfa"/><stop offset=".472" stop-color="#398cfa"/><stop offset=".531" stop-color="#193af8"/><stop offset=".994" stop-color="#1734f7"/></linearGradient><linearGradient id="ga75" x2="0" y2="1"><stop offset=".003" stop-color="#d9f31f"/><stop offset=".279" stop-color="#c0f527"/><stop offset=".343" stop-color="#8ef541"/><stop offset=".402" stop-color="#6ff37b"/><stop offset=".449" stop-color="#59f0ce"/><stop offset=".46" stop-color="#4de4f6"/><stop offset=".472" stop-color="#47aefa"/><stop offset=".49" stop-color="#357ffc"/><stop offset=".537" stop-color="#193af8"/><stop offset=".994" stop-color="#1734f7"/></linearGradient><linearGradient id="ga76" x2="0" y2="1"><stop offset=".003" stop-color="#c1f527"/><stop offset=".29" stop-color="#aaf52f"/><stop offset=".367" stop-color="#8af547"/><stop offset=".419" stop-color="#6ef37f"/><stop offset=".46" stop-color="#5af0c8"/><stop offset=".472" stop-color="#50e9ef"/><stop offset=".484" stop-color="#48b2fa"/><stop offset=".496" stop-color="#3785fb"/><stop offset=".525" stop-color="#2253fb"/><stop offset=".548" stop-color="#1839f8"/><stop offset=".994" stop-color="#1734f7"/></linearGradient><linearGradient id="ga77" x2="0" y2="1"><stop offset=".003" stop-color="#acf52e"/><stop offset=".331" stop-color="#97f53a"/><stop offset=".384" stop-color="#8bf546"/><stop offset=".431" stop-color="#6ff379"/><stop offset=".472" stop-color="#5af0c7"/><stop offset=".484" stop-color="#50e9ef"/><stop offset=".49" stop-color="#4bd3fa"/><stop offset=".501" stop-color="#3a8dfa"/><stop offset=".519" stop-color="#2964fc"/><stop offset=".554" stop-color="#1839f8"/><stop offset=".994" stop-color="#1734f7"/></linearGradient><linearGradient id="ga78" x2="0" y2="1"><stop offset=".003" stop-color="#9cf535"/><stop offset=".408" stop-color="#8bf546"/><stop offset=".449" stop-color="#6ef37c"/><stop offset=".484" stop-color="#59f0ce"/><stop offset=".496" stop-color="#4de4f6"/><stop offset=".507" stop-color="#409cfa"/><stop offset=".519" stop-color="#2f71fc"/><stop offset=".56" stop-color="#1939f8"/><stop offset=".994" stop-color="#1734f7"/></linearGradient><linearGradient id="ga79" x2="0" y2="1"><stop offset=".003" stop-color="#91f53f"/><stop offset=".437" stop-color="#87f54c"/><stop offset=".466" stop-color="#6df37f"/><stop offset=".496" stop-color="#58f0d7"/><stop offset=".501" stop-color="#52ecec"/><stop offset=".507" stop-color="#4bdbfa"/><stop offset=".519" stop-color="#398afa"/><stop offset=".531" stop-color="#2b67fc"/><stop offset=".566" stop-color="#1939f8"/><stop offset=".994" stop-color="#1734f7"/></linearGradient><linearGradient id="ga80" x2="0" y2="1"><stop offset=".003" stop-color="#5cf0be"/><stop offset=".472" stop-color="#59f0d1"/><stop offset=".496" stop-color="#4ee5f5"/><stop offset=".513" stop-color="#4bb8fa"/><stop offset=".537" stop-color="#3580fc"/><stop offset=".584" stop-color="#1839f8"/><stop offset=".994" stop-color="#1736f7"/></linearGradient><linearGradient id="ga81" x2="0" y2="1"><stop offset=".003" stop-color="#2861fc"/><stop offset=".695" stop-color="#1c43f9"/><stop offset=".994" stop-color="#1736f7"/></linearGradient><linearGradient id="ga82" x2="0" y2="1"><stop offset=".003" stop-color="#0b20f1"/><stop offset=".994" stop-color="#142ff6"/></linearGradient><linearGradient id="ga83" x2="0" y2="1"><stop offset=".003" stop-color="#091df0"/><stop offset=".994" stop-color="#0a1ff1"/></linearGradient><linearGradient id="ga84" x2="0" y2="1"><stop offset=".003" stop-color="#091ef1"/><stop offset=".994" stop-color="#132bf5"/></linearGradient><linearGradient id="ga85" x2="0" y2="1"><stop offset=".003" stop-color="#6ff37a"/><stop offset=".185" stop-color="#5af0ca"/><stop offset=".226" stop-color="#4ee6f3"/><stop offset=".249" stop-color="#4bc1fa"/><stop offset=".284" stop-color="#3887fb"/><stop offset=".32" stop-color="#3074fc"/><stop offset=".865" stop-color="#1839f8"/><stop offset=".994" stop-color="#1736f7"/></linearGradient><linearGradient id="ga86" x2="0" y2="1"><stop offset=".003" stop-color="#f0ee19"/><stop offset=".167" stop-color="#a7f530"/><stop offset=".196" stop-color="#8ef541"/><stop offset=".22" stop-color="#70f476"/><stop offset=".249" stop-color="#52ecec"/><stop offset=".255" stop-color="#4bdbfa"/><stop offset=".261" stop-color="#4bc0fa"/><stop offset=".29" stop-color="#3787fb"/><stop offset=".355" stop-color="#1939f8"/><stop offset=".994" stop-color="#1734f7"/></linearGradient><linearGradient id="ga87" x2="0" y2="1"><stop offset=".003" stop-color="#ff5317"/><stop offset=".044" stop-color="#ff6f14"/><stop offset=".114" stop-color="#ffaf09"/><stop offset=".155" stop-color="#faea15"/><stop offset=".202" stop-color="#9af537"/><stop offset=".232" stop-color="#75f46b"/><stop offset=".261" stop-color="#56f0df"/><stop offset=".267" stop-color="#4fe7f1"/><stop offset=".284" stop-color="#45aafa"/><stop offset=".302" stop-color="#3786fb"/><stop offset=".367" stop-color="#1838f8"/><stop offset=".994" stop-color="#1734f7"/></linearGradient><linearGradient id="ga88" x2="0" y2="1"><stop offset=".003" stop-color="#ff6e14"/><stop offset=".073" stop-color="#ff9e0a"/><stop offset=".161" stop-color="#fce915"/><stop offset=".179" stop-color="#e6f11b"/><stop offset=".214" stop-color="#9df535"/><stop offset=".238" stop-color="#7ef559"/><stop offset=".255" stop-color="#67f293"/><stop offset=".273" stop-color="#56f0e1"/><stop offset=".279" stop-color="#4fe6f3"/><stop offset=".29" stop-color="#4ab7fa"/><stop offset=".314" stop-color="#3683fb"/><stop offset=".372" stop-color="#1839f8"/><stop offset=".994" stop-color="#1734f7"/></linearGradient><linearGradient id="ga89" x2="0" y2="1"><stop offset=".003" stop-color="#ff890f"/><stop offset=".103" stop-color="#ffcd0d"/><stop offset=".167" stop-color="#fbea15"/><stop offset=".185" stop-color="#f0ee18"/><stop offset=".232" stop-color="#99f538"/><stop offset=".255" stop-color="#78f464"/><stop offset=".273" stop-color="#60f1ac"/><stop offset=".284" stop-color="#56f0e3"/><stop offset=".29" stop-color="#4ee5f4"/><stop offset=".302" stop-color="#49b4fa"/><stop offset=".32" stop-color="#3888fb"/><stop offset=".378" stop-color="#1939f8"/><stop offset=".994" stop-color="#1734f7"/></linearGradient><linearGradient id="ga90" x2="0" y2="1"><stop offset=".003" stop-color="#ffcb0d"/><stop offset=".144" stop-color="#fbe915"/><stop offset=".196" stop-color="#f5ec17"/><stop offset=".249" stop-color="#97f539"/><stop offset=".261" stop-color="#86f54d"/><stop offset=".273" stop-color="#72f472"/><stop offset=".29" stop-color="#58f0d3"/><stop offset=".302" stop-color="#4be1fa"/><stop offset=".308" stop-color="#4bc0fa"/><stop offset=".326" stop-color="#398cfa"/><stop offset=".384" stop-color="#193af8"/><stop offset=".994" stop-color="#1734f7"/></linearGradient><linearGradient id="ga91" x2="0" y2="1"><stop offset=".003" stop-color="#ff940c"/><stop offset=".167" stop-color="#ffdc11"/><stop offset=".208" stop-color="#f6eb17"/><stop offset=".267" stop-color="#97f53a"/><stop offset=".279" stop-color="#85f54e"/><stop offset=".29" stop-color="#6ff37a"/><stop offset=".308" stop-color="#57f0dd"/><stop offset=".314" stop-color="#50e8f0"/><stop offset=".326" stop-color="#4ab6fa"/><stop offset=".337" stop-color="#3a8dfa"/><stop offset=".396" stop-color="#1939f8"/><stop offset=".994" stop-color="#1734f7"/></linearGradient><linearGradient id="ga92" x2="0" y2="1"><stop offset=".003" stop-color="#ff3e19"/><stop offset=".173" stop-color="#ffac08"/><stop offset=".214" stop-color="#fde915"/><stop offset=".284" stop-color="#96f53a"/><stop offset=".296" stop-color="#84f54f"/><stop offset=".308" stop-color="#6ef37e"/><stop offset=".32" stop-color="#5af0ca"/><stop offset=".331" stop-color="#4ee6f3"/><stop offset=".349" stop-color="#3c94fa"/><stop offset=".372" stop-color="#2964fc"/><stop offset=".408" stop-color="#1839f8"/><stop offset=".994" stop-color="#1734f7"/></linearGradient><linearGradient id="ga93" x2="0" y2="1"><stop offset=".003" stop-color="#ff6216"/><stop offset=".185" stop-color="#ffba0a"/><stop offset=".226" stop-color="#f9ea16"/><stop offset=".296" stop-color="#99f538"/><stop offset=".308" stop-color="#8df543"/><stop offset=".32" stop-color="#76f469"/><stop offset=".337" stop-color="#59f0d1"/><stop offset=".349" stop-color="#4ce3f8"/><stop offset=".361" stop-color="#419ffa"/><stop offset=".372" stop-color="#3277fc"/><stop offset=".413" stop-color="#193af8"/><stop offset=".994" stop-color="#1734f7"/></linearGradient><linearGradient id="ga94" x2="0" y2="1"><stop offset=".003" stop-color="#ffa209"/><stop offset=".196" stop-color="#ffd50f"/><stop offset=".238" stop-color="#f5ec17"/><stop offset=".314" stop-color="#97f53a"/><stop offset=".326" stop-color="#89f549"/><stop offset=".337" stop-color="#72f470"/><stop offset=".355" stop-color="#58f0d7"/><stop offset=".361" stop-color="#52ecec"/><stop offset=".367" stop-color="#4bdbfa"/><stop offset=".378" stop-color="#398afa"/><stop offset=".39" stop-color="#2b67fc"/><stop offset=".425" stop-color="#1939f8"/><stop offset=".994" stop-color="#1734f7"/></linearGradient><linearGradient id="ga95" x2="0" y2="1"><stop offset=".003" stop-color="#ff6a15"/><stop offset=".202" stop-color="#ffc30b"/><stop offset=".238" stop-color="#fbe915"/><stop offset=".326" stop-color="#95f53b"/><stop offset=".337" stop-color="#86f54c"/><stop offset=".349" stop-color="#71f474"/><stop offset=".367" stop-color="#58f0d7"/><stop offset=".372" stop-color="#52ecec"/><stop offset=".378" stop-color="#4bdbfa"/><stop offset=".39" stop-color="#3787fb"/><stop offset=".402" stop-color="#2a65fc"/><stop offset=".437" stop-color="#1939f8"/><stop offset=".994" stop-color="#1734f7"/></linearGradient><linearGradient id="ga96" x2="0" y2="1"><stop offset=".003" stop-color="#ff6e14"/><stop offset=".202" stop-color="#ffc30b"/><stop offset=".243" stop-color="#faea16"/><stop offset=".331" stop-color="#98f538"/><stop offset=".343" stop-color="#8ff540"/><stop offset=".361" stop-color="#70f378"/><stop offset=".378" stop-color="#57f0d8"/><stop offset=".39" stop-color="#4bdafa"/><stop offset=".402" stop-color="#3682fb"/><stop offset=".408" stop-color="#2c6bfc"/><stop offset=".449" stop-color="#1838f8"/><stop offset=".994" stop-color="#1734f7"/></linearGradient><linearGradient id="ga97" x2="0" y2="1"><stop offset=".003" stop-color="#ffac09"/><stop offset=".238" stop-color="#f9ea16"/><stop offset=".273" stop-color="#e0f21d"/><stop offset=".337" stop-color="#9af537"/><stop offset=".355" stop-color="#8cf544"/><stop offset=".372" stop-color="#6ef37d"/><stop offset=".39" stop-color="#57f0da"/><stop offset=".396" stop-color="#51eaee"/><stop offset=".402" stop-color="#4bd7fa"/><stop offset=".408" stop-color="#42a3fa"/><stop offset=".413" stop-color="#347cfc"/><stop offset=".425" stop-color="#2860fc"/><stop offset=".455" stop-color="#1939f8"/><stop offset=".994" stop-color="#1734f7"/></linearGradient><linearGradient id="ga98" x2="0" y2="1"><stop offset=".003" stop-color="#fbea15"/><stop offset=".267" stop-color="#e9f01a"/><stop offset=".349" stop-color="#99f538"/><stop offset=".367" stop-color="#89f548"/><stop offset=".384" stop-color="#6df381"/><stop offset=".402" stop-color="#57f0db"/><stop offset=".408" stop-color="#51eaef"/><stop offset=".413" stop-color="#4bd5fa"/><stop offset=".419" stop-color="#3f9bfa"/><stop offset=".425" stop-color="#3175fc"/><stop offset=".46" stop-color="#1a3df8"/><stop offset=".548" stop-color="#1734f7"/><stop offset=".994" stop-color="#1734f7"/></linearGradient><linearGradient id="ga99" x2="0" y2="1"><stop offset=".003" stop-color="#e7f11b"/><stop offset=".267" stop-color="#d4f321"/><stop offset=".355" stop-color="#98f539"/><stop offset=".372" stop-color="#91f53f"/><stop offset=".39" stop-color="#73f46e"/><stop offset=".408" stop-color="#5af0cc"/><stop offset=".419" stop-color="#4ee5f4"/><stop offset=".425" stop-color="#4bc7fa"/><stop offset=".431" stop-color="#398afa"/><stop offset=".437" stop-color="#2d6bfc"/><stop offset=".472" stop-color="#193af8"/><stop offset=".994" stop-color="#1734f7"/></linearGradient><linearGradient id="ga100" x2="0" y2="1"><stop offset=".003" stop-color="#cef423"/><stop offset=".273" stop-color="#baf529"/><stop offset=".384" stop-color="#8df543"/><stop offset=".402" stop-color="#70f477"/><stop offset=".419" stop-color="#58f0d3"/><stop offset=".431" stop-color="#4be1fa"/><stop offset=".437" stop-color="#47b0fa"/><stop offset=".443" stop-color="#3580fc"/><stop offset=".449" stop-color="#2b69fc"/><stop offset=".484" stop-color="#193af8"/><stop offset=".994" stop-color="#1734f7"/></linearGradient><linearGradient id="ga101" x2="0" y2="1"><stop offset=".003" stop-color="#b6f52b"/><stop offset=".284" stop-color="#a3f531"/><stop offset=".39" stop-color="#91f53f"/><stop offset=".408" stop-color="#76f468"/><stop offset=".431" stop-color="#57f0db"/><stop offset=".437" stop-color="#51eaef"/><stop offset=".443" stop-color="#4bd5fa"/><stop offset=".449" stop-color="#3f9bfa"/><stop offset=".455" stop-color="#3175fc"/><stop offset=".49" stop-color="#1a3df8"/><stop offset=".578" stop-color="#1734f7"/><stop offset=".994" stop-color="#1734f7"/></linearGradient><linearGradient id="ga102" x2="0" y2="1"><stop offset=".003" stop-color="#a0f532"/><stop offset=".361" stop-color="#90f53f"/><stop offset=".402" stop-color="#8bf545"/><stop offset=".419" stop-color="#70f476"/><stop offset=".443" stop-color="#55f0e6"/><stop offset=".449" stop-color="#4de4f6"/><stop offset=".455" stop-color="#4bbdfa"/><stop offset=".46" stop-color="#3786fb"/><stop offset=".466" stop-color="#2c6afc"/><stop offset=".507" stop-color="#1838f8"/><stop offset=".994" stop-color="#1734f7"/></linearGradient><linearGradient id="ga103" x2="0" y2="1"><stop offset=".003" stop-color="#92f53e"/><stop offset=".408" stop-color="#86f54c"/><stop offset=".425" stop-color="#71f476"/><stop offset=".455" stop-color="#50e8f0"/><stop offset=".46" stop-color="#4bd1fa"/><stop offset=".466" stop-color="#3d96fa"/><stop offset=".472" stop-color="#3073fc"/><stop offset=".513" stop-color="#1939f8"/><stop offset=".994" stop-color="#1734f7"/></linearGradient><linearGradient id="ga104" x2="0" y2="1"><stop offset=".003" stop-color="#87f54a"/><stop offset=".413" stop-color="#81f554"/><stop offset=".431" stop-color="#6ff379"/><stop offset=".46" stop-color="#52ecec"/><stop offset=".466" stop-color="#4bdbfa"/><stop offset=".478" stop-color="#337afc"/><stop offset=".49" stop-color="#275ffc"/><stop offset=".519" stop-color="#1939f8"/><stop offset=".994" stop-color="#1734f7"/></linearGradient><linearGradient id="ga105" x2="0" y2="1"><stop offset=".003" stop-color="#5cf0be"/><stop offset=".437" stop-color="#59f0d0"/><stop offset=".466" stop-color="#4ce2f8"/><stop offset=".496" stop-color="#3e98fa"/><stop offset=".548" stop-color="#1839f8"/><stop offset=".994" stop-color="#1736f7"/></linearGradient><linearGradient id="ga106" x2="0" y2="1"><stop offset=".003" stop-color="#0a1ff1"/><stop offset=".994" stop-color="#1531f6"/></linearGradient><linearGradient id="ga107" x2="0" y2="1"><stop offset=".003" stop-color="#091df0"/><stop offset=".994" stop-color="#0a1ff1"/></linearGradient><linearGradient id="ga108" x2="0" y2="1"><stop offset=".003" stop-color="#091ef1"/><stop offset=".994" stop-color="#1027f4"/></linearGradient><linearGradient id="ga109" x2="0" y2="1"><stop offset=".003" stop-color="#5af0cc"/><stop offset=".191" stop-color="#51eaee"/><stop offset=".22" stop-color="#4bd6fa"/><stop offset=".273" stop-color="#3c92fa"/><stop offset=".343" stop-color="#2c6afc"/><stop offset=".859" stop-color="#1839f8"/><stop offset=".994" stop-color="#1736f7"/></linearGradient><linearGradient id="ga110" x2="0" y2="1"><stop offset=".003" stop-color="#b8f52a"/><stop offset=".067" stop-color="#93f53d"/><stop offset=".179" stop-color="#8bf545"/><stop offset=".202" stop-color="#7bf55f"/><stop offset=".226" stop-color="#64f29d"/><stop offset=".249" stop-color="#50e8f0"/><stop offset=".261" stop-color="#4bbefa"/><stop offset=".296" stop-color="#3887fb"/><stop offset=".349" stop-color="#2251fb"/><stop offset=".372" stop-color="#1838f8"/><stop offset=".994" stop-color="#1734f7"/></linearGradient><linearGradient id="ga111" x2="0" y2="1"><stop offset=".003" stop-color="#ffe413"/><stop offset=".015" stop-color="#fbea15"/><stop offset=".044" stop-color="#b2f52c"/><stop offset=".097" stop-color="#a9f52f"/><stop offset=".167" stop-color="#a1f532"/><stop offset=".208" stop-color="#8df542"/><stop offset=".232" stop-color="#71f475"/><stop offset=".261" stop-color="#54efe8"/><stop offset=".267" stop-color="#4ce2f8"/><stop offset=".273" stop-color="#4bc4fa"/><stop offset=".302" stop-color="#398bfa"/><stop offset=".361" stop-color="#1e47fa"/><stop offset=".384" stop-color="#1737f7"/><stop offset=".994" stop-color="#1734f7"/></linearGradient><linearGradient id="ga112" x2="0" y2="1"><stop offset=".003" stop-color="#ffc30b"/><stop offset=".015" stop-color="#ffc90c"/><stop offset=".032" stop-color="#fbea15"/><stop offset=".073" stop-color="#c6f425"/><stop offset=".161" stop-color="#bff528"/><stop offset=".226" stop-color="#91f53f"/><stop offset=".249" stop-color="#72f471"/><stop offset=".279" stop-color="#54efe8"/><stop offset=".284" stop-color="#4ce2f8"/><stop offset=".29" stop-color="#4bc3fa"/><stop offset=".314" stop-color="#398bfa"/><stop offset=".378" stop-color="#1939f8"/><stop offset=".994" stop-color="#1734f7"/></linearGradient><linearGradient id="ga113" x2="0" y2="1"><stop offset=".003" stop-color="#ffa209"/><stop offset=".021" stop-color="#ffae09"/><stop offset=".062" stop-color="#fde915"/><stop offset=".097" stop-color="#e4f21c"/><stop offset=".161" stop-color="#ddf31e"/><stop offset=".232" stop-color="#99f538"/><stop offset=".249" stop-color="#8bf545"/><stop offset=".267" stop-color="#74f46d"/><stop offset=".296" stop-color="#54efe8"/><stop offset=".302" stop-color="#4ce2f8"/><stop offset=".308" stop-color="#4bc1fa"/><stop offset=".326" stop-color="#398afa"/><stop offset=".384" stop-color="#1939f8"/><stop offset=".994" stop-color="#1734f7"/></linearGradient><linearGradient id="ga114" x2="0" y2="1"><stop offset=".003" stop-color="#ffaa08"/><stop offset=".05" stop-color="#ffce0e"/><stop offset=".085" stop-color="#faea15"/><stop offset=".132" stop-color="#eaf01a"/><stop offset=".173" stop-color="#e4f21c"/><stop offset=".249" stop-color="#9af537"/><stop offset=".273" stop-color="#86f54c"/><stop offset=".29" stop-color="#6ff37b"/><stop offset=".314" stop-color="#56f0e0"/><stop offset=".32" stop-color="#4fe7f2"/><stop offset=".337" stop-color="#3b91fa"/><stop offset=".361" stop-color="#2861fc"/><stop offset=".39" stop-color="#1939f8"/><stop offset=".994" stop-color="#1734f7"/></linearGradient><linearGradient id="ga115" x2="0" y2="1"><stop offset=".003" stop-color="#ffde11"/><stop offset=".097" stop-color="#ecef1a"/><stop offset=".191" stop-color="#d9f320"/><stop offset=".273" stop-color="#97f53a"/><stop offset=".29" stop-color="#89f548"/><stop offset=".308" stop-color="#73f46e"/><stop offset=".337" stop-color="#55f0e6"/><stop offset=".343" stop-color="#4de4f6"/><stop offset=".349" stop-color="#4bc0fa"/><stop offset=".355" stop-color="#3b92fa"/><stop offset=".367" stop-color="#2b68fc"/><stop offset=".402" stop-color="#1939f8"/><stop offset=".994" stop-color="#1734f7"/></linearGradient><linearGradient id="ga116" x2="0" y2="1"><stop offset=".003" stop-color="#e7f11b"/><stop offset=".214" stop-color="#c9f425"/><stop offset=".296" stop-color="#94f53c"/><stop offset=".314" stop-color="#85f54e"/><stop offset=".331" stop-color="#70f477"/><stop offset=".361" stop-color="#53edea"/><stop offset=".367" stop-color="#4be0fa"/><stop offset=".372" stop-color="#3d96fa"/><stop offset=".378" stop-color="#2b68fc"/><stop offset=".413" stop-color="#1939f8"/><stop offset=".994" stop-color="#1734f7"/></linearGradient><linearGradient id="ga117" x2="0" y2="1"><stop offset=".003" stop-color="#e9f01b"/><stop offset=".226" stop-color="#cdf423"/><stop offset=".308" stop-color="#96f53b"/><stop offset=".326" stop-color="#88f54a"/><stop offset=".343" stop-color="#71f474"/><stop offset=".372" stop-color="#52ecec"/><stop offset=".378" stop-color="#4bdbfa"/><stop offset=".384" stop-color="#398afa"/><stop offset=".39" stop-color="#2b67fc"/><stop offset=".425" stop-color="#1939f8"/><stop offset=".994" stop-color="#1734f7"/></linearGradient><linearGradient id="ga118" x2="0" y2="1"><stop offset=".003" stop-color="#ebef1a"/><stop offset=".238" stop-color="#d1f422"/><stop offset=".326" stop-color="#95f53c"/><stop offset=".343" stop-color="#83f551"/><stop offset=".355" stop-color="#73f46f"/><stop offset=".384" stop-color="#51eaee"/><stop offset=".39" stop-color="#4bd6fa"/><stop offset=".396" stop-color="#3682fb"/><stop offset=".402" stop-color="#2a66fc"/><stop offset=".437" stop-color="#1939f8"/><stop offset=".994" stop-color="#1734f7"/></linearGradient><linearGradient id="ga119" x2="0" y2="1"><stop offset=".003" stop-color="#edef19"/><stop offset=".249" stop-color="#d5f321"/><stop offset=".337" stop-color="#96f53a"/><stop offset=".349" stop-color="#91f53f"/><stop offset=".367" stop-color="#74f46c"/><stop offset=".39" stop-color="#57f0dd"/><stop offset=".396" stop-color="#50e8f0"/><stop offset=".402" stop-color="#4bd1fa"/><stop offset=".408" stop-color="#337afc"/><stop offset=".413" stop-color="#2a65fc"/><stop offset=".449" stop-color="#1939f8"/><stop offset=".994" stop-color="#1734f7"/></linearGradient><linearGradient id="ga120" x2="0" y2="1"><stop offset=".003" stop-color="#e5f21c"/><stop offset=".255" stop-color="#c9f425"/><stop offset=".343" stop-color="#95f53b"/><stop offset=".361" stop-color="#88f54a"/><stop offset=".372" stop-color="#75f469"/><stop offset=".396" stop-color="#57f0d9"/><stop offset=".402" stop-color="#51ebed"/><stop offset=".408" stop-color="#4bd8fa"/><stop offset=".413" stop-color="#3785fb"/><stop offset=".419" stop-color="#2b67fc"/><stop offset=".455" stop-color="#1939f8"/><stop offset=".994" stop-color="#1734f7"/></linearGradient><linearGradient id="ga121" x2="0" y2="1"><stop offset=".003" stop-color="#d9f31f"/><stop offset=".255" stop-color="#c1f527"/><stop offset=".361" stop-color="#91f53e"/><stop offset=".378" stop-color="#77f467"/><stop offset=".408" stop-color="#53edeb"/><stop offset=".413" stop-color="#4bdffa"/><stop offset=".419" stop-color="#3b90fa"/><stop offset=".425" stop-color="#2b68fc"/><stop offset=".46" stop-color="#1939f8"/><stop offset=".994" stop-color="#1734f7"/></linearGradient><linearGradient id="ga122" x2="0" y2="1"><stop offset=".003" stop-color="#cef423"/><stop offset=".267" stop-color="#b4f52b"/><stop offset=".367" stop-color="#91f53e"/><stop offset=".384" stop-color="#78f465"/><stop offset=".413" stop-color="#54efe8"/><stop offset=".419" stop-color="#4ce2f8"/><stop offset=".425" stop-color="#43a5fa"/><stop offset=".431" stop-color="#2c69fc"/><stop offset=".472" stop-color="#1838f8"/><stop offset=".994" stop-color="#1734f7"/></linearGradient><linearGradient id="ga123" x2="0" y2="1"><stop offset=".003" stop-color="#c3f526"/><stop offset=".267" stop-color="#acf52e"/><stop offset=".378" stop-color="#8bf545"/><stop offset=".396" stop-color="#70f476"/><stop offset=".419" stop-color="#55f0e5"/><stop offset=".425" stop-color="#4de4f5"/><stop offset=".431" stop-color="#4bbbfa"/><stop offset=".437" stop-color="#2c6bfc"/><stop offset=".478" stop-color="#1838f8"/><stop offset=".994" stop-color="#1734f7"/></linearGradient><linearGradient id="ga124" x2="0" y2="1"><stop offset=".003" stop-color="#b7f52a"/><stop offset=".273" stop-color="#a2f531"/><stop offset=".384" stop-color="#8bf546"/><stop offset=".402" stop-color="#71f475"/><stop offset=".425" stop-color="#56f0e3"/><stop offset=".431" stop-color="#4ee5f4"/><stop offset=".437" stop-color="#4bc7fa"/><stop offset=".443" stop-color="#337afc"/><stop offset=".455" stop-color="#275efc"/><stop offset=".484" stop-color="#1939f8"/><stop offset=".994" stop-color="#1734f7"/></linearGradient><linearGradient id="ga125" x2="0" y2="1"><stop offset=".003" stop-color="#a9f52f"/><stop offset=".355" stop-color="#94f53c"/><stop offset=".384" stop-color="#91f53f"/><stop offset=".402" stop-color="#78f464"/><stop offset=".419" stop-color="#60f1ac"/><stop offset=".431" stop-color="#56f0e3"/><stop offset=".437" stop-color="#4ee5f4"/><stop offset=".443" stop-color="#4bc7fa"/><stop offset=".449" stop-color="#398afa"/><stop offset=".455" stop-color="#2d6bfc"/><stop offset=".49" stop-color="#193af8"/><stop offset=".994" stop-color="#1734f7"/></linearGradient><linearGradient id="ga126" x2="0" y2="1"><stop offset=".003" stop-color="#9df534"/><stop offset=".39" stop-color="#91f53f"/><stop offset=".413" stop-color="#6ff379"/><stop offset=".437" stop-color="#56f0e3"/><stop offset=".443" stop-color="#4ee5f4"/><stop offset=".449" stop-color="#4bc7fa"/><stop offset=".455" stop-color="#3d96fa"/><stop offset=".466" stop-color="#2b69fc"/><stop offset=".501" stop-color="#193af8"/><stop offset=".994" stop-color="#1734f7"/></linearGradient><linearGradient id="ga127" x2="0" y2="1"><stop offset=".003" stop-color="#8df542"/><stop offset=".39" stop-color="#85f54d"/><stop offset=".408" stop-color="#74f46d"/><stop offset=".443" stop-color="#51eaef"/><stop offset=".449" stop-color="#4bd5fa"/><stop offset=".46" stop-color="#3785fb"/><stop offset=".472" stop-color="#2a65fc"/><stop offset=".507" stop-color="#1939f8"/><stop offset=".994" stop-color="#1734f7"/></linearGradient><linearGradient id="ga128" x2="0" y2="1"><stop offset=".003" stop-color="#7ff557"/><stop offset=".396" stop-color="#76f468"/><stop offset=".431" stop-color="#5bf0c1"/><stop offset=".443" stop-color="#52ecec"/><stop offset=".449" stop-color="#4bdbfa"/><stop offset=".46" stop-color="#398afa"/><stop offset=".472" stop-color="#2b67fc"/><stop offset=".507" stop-color="#1939f8"/><stop offset=".994" stop-color="#1734f7"/></linearGradient><linearGradient id="ga129" x2="0" y2="1"><stop offset=".003" stop-color="#5cf0be"/><stop offset=".455" stop-color="#59f0d1"/><stop offset=".478" stop-color="#4ee5f5"/><stop offset=".496" stop-color="#4bb8fa"/><stop offset=".519" stop-color="#3580fc"/><stop offset=".566" stop-color="#1839f8"/><stop offset=".994" stop-color="#1736f7"/></linearGradient><linearGradient id="ga130" x2="0" y2="1"><stop offset=".003" stop-color="#2861fc"/><stop offset=".865" stop-color="#1838f8"/><stop offset=".994" stop-color="#1736f7"/></linearGradient><linearGradient id="ga131" x2="0" y2="1"><stop offset=".003" stop-color="#0b20f1"/><stop offset=".994" stop-color="#142ff6"/></linearGradient><linearGradient id="ga132" x2="0" y2="1"><stop offset=".003" stop-color="#091df0"/><stop offset=".994" stop-color="#0a1ff1"/></linearGradient><linearGradient id="ga133" gradientUnits="userSpaceOnUse" x1="0" y1="92.0" x2="0" y2="142.0"><stop offset="0.000" stop-color="#5af0cc"/><stop offset="0.460" stop-color="#4bdffa"/><stop offset="1.000" stop-color="#193af8"/></linearGradient><linearGradient id="ga134" gradientUnits="userSpaceOnUse" x1="0" y1="100.0" x2="0" y2="146.0"><stop offset="0.000" stop-color="#5af0cc"/><stop offset="0.543" stop-color="#4bdffa"/><stop offset="1.000" stop-color="#193af8"/></linearGradient><linearGradient id="ga135" gradientUnits="userSpaceOnUse" x1="0" y1="98.0" x2="0" y2="130.0"><stop offset="0.000" stop-color="#5af0cc"/><stop offset="0.438" stop-color="#4bdffa"/><stop offset="1.000" stop-color="#193af8"/></linearGradient><linearGradient id="ga136" gradientUnits="userSpaceOnUse" x1="0" y1="92.0" x2="0" y2="116.0"><stop offset="0.000" stop-color="#5af0cc"/><stop offset="0.542" stop-color="#4bc7fa"/><stop offset="1.000" stop-color="#193af8"/></linearGradient><linearGradient id="ga137" gradientUnits="userSpaceOnUse" x1="0" y1="92.0" x2="0" y2="132.0"><stop offset="0.000" stop-color="#5af0cc"/><stop offset="0.450" stop-color="#4bdffa"/><stop offset="1.000" stop-color="#193af8"/></linearGradient></defs><g clip-path="url(#cpa)"><rect x="25" y="18" width="2.3" height="170.5" fill="url(#ga1)"/><rect x="27" y="18" width="6.3" height="170.5" fill="url(#ga2)"/><rect x="33" y="18" width="7.3" height="170.5" fill="url(#ga3)"/><rect x="40" y="18" width="2.3" height="170.5" fill="url(#ga4)"/><rect x="42" y="18" width="1.3" height="170.5" fill="url(#ga5)"/><rect x="43" y="18" width="1.3" height="170.5" fill="url(#ga6)"/><rect x="44" y="18" width="1.3" height="170.5" fill="url(#ga7)"/><rect x="45" y="18" width="1.3" height="170.5" fill="url(#ga8)"/><rect x="46" y="18" width="1.3" height="170.5" fill="url(#ga9)"/><rect x="47" y="18" width="1.3" height="170.5" fill="url(#ga10)"/><rect x="48" y="18" width="1.3" height="170.5" fill="url(#ga11)"/><rect x="49" y="18" width="1.3" height="170.5" fill="url(#ga12)"/><rect x="50" y="18" width="1.3" height="170.5" fill="url(#ga13)"/><rect x="51" y="18" width="1.3" height="170.5" fill="url(#ga14)"/><rect x="52" y="18" width="1.3" height="170.5" fill="url(#ga15)"/><rect x="53" y="18" width="1.3" height="170.5" fill="url(#ga16)"/><rect x="54" y="18" width="1.3" height="170.5" fill="url(#ga17)"/><rect x="55" y="18" width="1.3" height="170.5" fill="url(#ga18)"/><rect x="56" y="18" width="1.3" height="170.5" fill="url(#ga19)"/><rect x="57" y="18" width="1.3" height="170.5" fill="url(#ga20)"/><rect x="58" y="18" width="1.3" height="170.5" fill="url(#ga21)"/><rect x="59" y="18" width="1.3" height="170.5" fill="url(#ga22)"/><rect x="60" y="18" width="1.3" height="170.5" fill="url(#ga23)"/><rect x="61" y="18" width="1.3" height="170.5" fill="url(#ga24)"/><rect x="62" y="18" width="3.3" height="170.5" fill="url(#ga25)"/><rect x="65" y="18" width="1.3" height="170.5" fill="url(#ga26)"/><rect x="66" y="18" width="5.3" height="170.5" fill="url(#ga27)"/><rect x="71" y="18" width="9.3" height="170.5" fill="url(#ga28)"/><rect x="80" y="18" width="12.3" height="170.5" fill="url(#ga29)"/><rect x="92" y="18" width="1.3" height="170.5" fill="url(#ga30)"/><rect x="93" y="18" width="1.3" height="170.5" fill="url(#ga31)"/><rect x="94" y="18" width="1.3" height="170.5" fill="url(#ga32)"/><rect x="95" y="18" width="1.3" height="170.5" fill="url(#ga33)"/><rect x="96" y="18" width="1.3" height="170.5" fill="url(#ga34)"/><rect x="97" y="18" width="1.3" height="170.5" fill="url(#ga35)"/><rect x="98" y="18" width="1.3" height="170.5" fill="url(#ga36)"/><rect x="99" y="18" width="1.3" height="170.5" fill="url(#ga37)"/><rect x="100" y="18" width="1.3" height="170.5" fill="url(#ga38)"/><rect x="101" y="18" width="1.3" height="170.5" fill="url(#ga39)"/><rect x="102" y="18" width="1.3" height="170.5" fill="url(#ga40)"/><rect x="103" y="18" width="1.3" height="170.5" fill="url(#ga41)"/><rect x="104" y="18" width="1.3" height="170.5" fill="url(#ga42)"/><rect x="105" y="18" width="1.3" height="170.5" fill="url(#ga43)"/><rect x="106" y="18" width="1.3" height="170.5" fill="url(#ga44)"/><rect x="107" y="18" width="1.3" height="170.5" fill="url(#ga45)"/><rect x="108" y="18" width="1.3" height="170.5" fill="url(#ga46)"/><rect x="109" y="18" width="1.3" height="170.5" fill="url(#ga47)"/><rect x="110" y="18" width="1.3" height="170.5" fill="url(#ga48)"/><rect x="111" y="18" width="1.3" height="170.5" fill="url(#ga49)"/><rect x="112" y="18" width="1.3" height="170.5" fill="url(#ga50)"/><rect x="113" y="18" width="1.3" height="170.5" fill="url(#ga51)"/><rect x="114" y="18" width="4.3" height="170.5" fill="url(#ga52)"/><rect x="118" y="18" width="1.3" height="170.5" fill="url(#ga53)"/><rect x="119" y="18" width="5.3" height="170.5" fill="url(#ga54)"/><rect x="124" y="18" width="8.3" height="170.5" fill="url(#ga55)"/><rect x="132" y="18" width="9.3" height="170.5" fill="url(#ga56)"/><rect x="141" y="18" width="5.3" height="170.5" fill="url(#ga57)"/><rect x="146" y="18" width="1.3" height="170.5" fill="url(#ga58)"/><rect x="147" y="18" width="1.3" height="170.5" fill="url(#ga59)"/><rect x="148" y="18" width="1.3" height="170.5" fill="url(#ga60)"/><rect x="149" y="18" width="1.3" height="170.5" fill="url(#ga61)"/><rect x="150" y="18" width="1.3" height="170.5" fill="url(#ga62)"/><rect x="151" y="18" width="1.3" height="170.5" fill="url(#ga63)"/><rect x="152" y="18" width="1.3" height="170.5" fill="url(#ga64)"/><rect x="153" y="18" width="1.3" height="170.5" fill="url(#ga65)"/><rect x="154" y="18" width="1.3" height="170.5" fill="url(#ga66)"/><rect x="155" y="18" width="1.3" height="170.5" fill="url(#ga67)"/><rect x="156" y="18" width="1.3" height="170.5" fill="url(#ga68)"/><rect x="157" y="18" width="1.3" height="170.5" fill="url(#ga69)"/><rect x="158" y="18" width="1.3" height="170.5" fill="url(#ga70)"/><rect x="159" y="18" width="1.3" height="170.5" fill="url(#ga71)"/><rect x="160" y="18" width="1.3" height="170.5" fill="url(#ga72)"/><rect x="161" y="18" width="1.3" height="170.5" fill="url(#ga73)"/><rect x="162" y="18" width="1.3" height="170.5" fill="url(#ga74)"/><rect x="163" y="18" width="1.3" height="170.5" fill="url(#ga75)"/><rect x="164" y="18" width="1.3" height="170.5" fill="url(#ga76)"/><rect x="165" y="18" width="1.3" height="170.5" fill="url(#ga77)"/><rect x="166" y="18" width="1.3" height="170.5" fill="url(#ga78)"/><rect x="167" y="18" width="1.3" height="170.5" fill="url(#ga79)"/><rect x="168" y="18" width="2.3" height="170.5" fill="url(#ga80)"/><rect x="170" y="18" width="1.3" height="170.5" fill="url(#ga81)"/><rect x="171" y="18" width="4.3" height="170.5" fill="url(#ga82)"/><rect x="175" y="18" width="16.3" height="170.5" fill="url(#ga83)"/><rect x="191" y="18" width="8.3" height="170.5" fill="url(#ga84)"/><rect x="199" y="18" width="1.3" height="170.5" fill="url(#ga85)"/><rect x="200" y="18" width="1.3" height="170.5" fill="url(#ga86)"/><rect x="201" y="18" width="1.3" height="170.5" fill="url(#ga87)"/><rect x="202" y="18" width="1.3" height="170.5" fill="url(#ga88)"/><rect x="203" y="18" width="1.3" height="170.5" fill="url(#ga89)"/><rect x="204" y="18" width="1.3" height="170.5" fill="url(#ga90)"/><rect x="205" y="18" width="1.3" height="170.5" fill="url(#ga91)"/><rect x="206" y="18" width="1.3" height="170.5" fill="url(#ga92)"/><rect x="207" y="18" width="1.3" height="170.5" fill="url(#ga93)"/><rect x="208" y="18" width="1.3" height="170.5" fill="url(#ga94)"/><rect x="209" y="18" width="1.3" height="170.5" fill="url(#ga95)"/><rect x="210" y="18" width="1.3" height="170.5" fill="url(#ga96)"/><rect x="211" y="18" width="1.3" height="170.5" fill="url(#ga97)"/><rect x="212" y="18" width="1.3" height="170.5" fill="url(#ga98)"/><rect x="213" y="18" width="1.3" height="170.5" fill="url(#ga99)"/><rect x="214" y="18" width="1.3" height="170.5" fill="url(#ga100)"/><rect x="215" y="18" width="1.3" height="170.5" fill="url(#ga101)"/><rect x="216" y="18" width="1.3" height="170.5" fill="url(#ga102)"/><rect x="217" y="18" width="1.3" height="170.5" fill="url(#ga103)"/><rect x="218" y="18" width="1.3" height="170.5" fill="url(#ga104)"/><rect x="219" y="18" width="3.3" height="170.5" fill="url(#ga105)"/><rect x="222" y="18" width="5.3" height="170.5" fill="url(#ga106)"/><rect x="227" y="18" width="18.3" height="170.5" fill="url(#ga107)"/><rect x="245" y="18" width="4.3" height="170.5" fill="url(#ga108)"/><rect x="249" y="18" width="2.3" height="170.5" fill="url(#ga109)"/><rect x="251" y="18" width="1.3" height="170.5" fill="url(#ga110)"/><rect x="252" y="18" width="1.3" height="170.5" fill="url(#ga111)"/><rect x="253" y="18" width="1.3" height="170.5" fill="url(#ga112)"/><rect x="254" y="18" width="1.3" height="170.5" fill="url(#ga113)"/><rect x="255" y="18" width="1.3" height="170.5" fill="url(#ga114)"/><rect x="256" y="18" width="1.3" height="170.5" fill="url(#ga115)"/><rect x="257" y="18" width="1.3" height="170.5" fill="url(#ga116)"/><rect x="258" y="18" width="1.3" height="170.5" fill="url(#ga117)"/><rect x="259" y="18" width="1.3" height="170.5" fill="url(#ga118)"/><rect x="260" y="18" width="1.3" height="170.5" fill="url(#ga119)"/><rect x="261" y="18" width="1.3" height="170.5" fill="url(#ga120)"/><rect x="262" y="18" width="1.3" height="170.5" fill="url(#ga121)"/><rect x="263" y="18" width="1.3" height="170.5" fill="url(#ga122)"/><rect x="264" y="18" width="1.3" height="170.5" fill="url(#ga123)"/><rect x="265" y="18" width="1.3" height="170.5" fill="url(#ga124)"/><rect x="266" y="18" width="1.3" height="170.5" fill="url(#ga125)"/><rect x="267" y="18" width="1.3" height="170.5" fill="url(#ga126)"/><rect x="268" y="18" width="1.3" height="170.5" fill="url(#ga127)"/><rect x="269" y="18" width="1.3" height="170.5" fill="url(#ga128)"/><rect x="270" y="18" width="2.3" height="170.5" fill="url(#ga129)"/><rect x="272" y="18" width="2.3" height="170.5" fill="url(#ga130)"/><rect x="274" y="18" width="5.3" height="170.5" fill="url(#ga131)"/><rect x="279" y="18" width="6.3" height="170.5" fill="url(#ga132)"/><polygon points="61.8,92.0 64.9,92.0 67.9,118.0 67.2,135.0 66.2,142.0 64.2,122.0" fill="url(#ga133)" filter="url(#b05)"/><polygon points="114.3,100.0 117.7,100.0 118.8,125.0 117.8,146.0 116.8,146.0 114.8,125.0" fill="url(#ga134)" filter="url(#b05)"/><polygon points="167.7,98.0 169.8,98.0 171.5,112.0 170.5,130.0 169.8,130.0 168.2,112.0" fill="url(#ga135)" filter="url(#b05)"/><polygon points="219.5,92.0 221.7,92.0 222.3,105.0 221.5,116.0 221.0,116.0 220.2,105.0" fill="url(#ga136)" filter="url(#b05)"/><polygon points="269.8,92.0 272.3,92.0 274.7,108.0 273.5,132.0 272.8,132.0 271.2,110.0" fill="url(#ga137)" filter="url(#b05)"/></g>
<defs><clipPath id="cpb"><polygon points="25.00,231.60 35.50,231.60 35.50,233.30 37.30,233.30 37.30,234.00 49.30,234.00 49.30,235.30 69.30,235.30 69.30,237.30 77.00,237.30 77.00,236.00 87.00,236.00 87.00,234.70 94.70,234.70 94.70,232.00 122.00,232.00 122.00,232.00 132.00,232.00 132.00,230.00 138.70,230.00 138.70,228.70 143.30,228.70 143.30,227.00 192.00,227.00 192.00,228.30 209.30,228.30 209.30,230.00 230.00,230.00 230.00,231.50 232.00,231.50 232.00,230.00 274.30,230.00 274.30,231.50 284.00,231.50 284.00,230.50 285.50,230.50 285.50,393.60 25.00,393.60"/></clipPath><linearGradient id="gb1" x2="0" y2="1"><stop offset=".003" stop-color="#1735f7"/><stop offset=".994" stop-color="#1734f7"/></linearGradient><linearGradient id="gb2" x2="0" y2="1"><stop offset=".003" stop-color="#1838f8"/><stop offset=".994" stop-color="#1735f7"/></linearGradient><linearGradient id="gb3" x2="0" y2="1"><stop offset=".003" stop-color="#64f29d"/><stop offset=".091" stop-color="#61f1ab"/><stop offset=".215" stop-color="#5af0cb"/><stop offset=".227" stop-color="#52ecec"/><stop offset=".233" stop-color="#4bdbfa"/><stop offset=".245" stop-color="#3f9bfa"/><stop offset=".28" stop-color="#1b40f9"/><stop offset=".315" stop-color="#1633f7"/><stop offset=".994" stop-color="#1633f7"/></linearGradient><linearGradient id="gb4" x2="0" y2="1"><stop offset=".003" stop-color="#84f54f"/><stop offset=".162" stop-color="#7cf55c"/><stop offset=".209" stop-color="#67f294"/><stop offset=".239" stop-color="#5bf0c5"/><stop offset=".251" stop-color="#52ecec"/><stop offset=".256" stop-color="#4bdbfa"/><stop offset=".268" stop-color="#3f9bfa"/><stop offset=".304" stop-color="#1b40f9"/><stop offset=".339" stop-color="#1633f7"/><stop offset=".994" stop-color="#1633f7"/></linearGradient><linearGradient id="gb5" x2="0" y2="1"><stop offset=".003" stop-color="#b2f52c"/><stop offset=".162" stop-color="#a4f531"/><stop offset=".209" stop-color="#89f548"/><stop offset=".233" stop-color="#72f472"/><stop offset=".262" stop-color="#58f0d3"/><stop offset=".274" stop-color="#4be1f9"/><stop offset=".286" stop-color="#41a0fa"/><stop offset=".304" stop-color="#2d6dfc"/><stop offset=".327" stop-color="#1939f8"/><stop offset=".994" stop-color="#1633f7"/></linearGradient><linearGradient id="gb6" x2="0" y2="1"><stop offset=".003" stop-color="#f6ec17"/><stop offset=".18" stop-color="#eaf01a"/><stop offset=".221" stop-color="#96f53a"/><stop offset=".251" stop-color="#72f470"/><stop offset=".28" stop-color="#56f0e2"/><stop offset=".286" stop-color="#4ee6f4"/><stop offset=".304" stop-color="#3a8efa"/><stop offset=".339" stop-color="#193af8"/><stop offset=".463" stop-color="#1633f7"/><stop offset=".994" stop-color="#1633f7"/></linearGradient><linearGradient id="gb7" x2="0" y2="1"><stop offset=".003" stop-color="#ff8110"/><stop offset=".18" stop-color="#ff9f0a"/><stop offset=".186" stop-color="#ffad09"/><stop offset=".198" stop-color="#ffe714"/><stop offset=".227" stop-color="#b6f52b"/><stop offset=".251" stop-color="#8cf544"/><stop offset=".268" stop-color="#73f46e"/><stop offset=".298" stop-color="#52ecec"/><stop offset=".304" stop-color="#4bdbfa"/><stop offset=".315" stop-color="#3f9bfa"/><stop offset=".351" stop-color="#1b40f9"/><stop offset=".386" stop-color="#1633f7"/><stop offset=".994" stop-color="#1633f7"/></linearGradient><linearGradient id="gb8" x2="0" y2="1"><stop offset=".003" stop-color="#fe2c15"/><stop offset=".097" stop-color="#ff3e19"/><stop offset=".198" stop-color="#ff6116"/><stop offset=".209" stop-color="#ffaa08"/><stop offset=".215" stop-color="#ffd10e"/><stop offset=".221" stop-color="#f6eb17"/><stop offset=".262" stop-color="#98f538"/><stop offset=".286" stop-color="#72f470"/><stop offset=".31" stop-color="#55f0e5"/><stop offset=".315" stop-color="#4de4f5"/><stop offset=".333" stop-color="#398cfa"/><stop offset=".369" stop-color="#193af8"/><stop offset=".492" stop-color="#1633f7"/><stop offset=".994" stop-color="#1633f7"/></linearGradient><linearGradient id="gb9" x2="0" y2="1"><stop offset=".003" stop-color="#ff7213"/><stop offset=".209" stop-color="#ff930d"/><stop offset=".221" stop-color="#ffc20b"/><stop offset=".233" stop-color="#f8eb16"/><stop offset=".274" stop-color="#99f538"/><stop offset=".292" stop-color="#7df55c"/><stop offset=".304" stop-color="#6af38a"/><stop offset=".321" stop-color="#56f0e2"/><stop offset=".327" stop-color="#4ee6f4"/><stop offset=".345" stop-color="#3a8efa"/><stop offset=".38" stop-color="#193af8"/><stop offset=".504" stop-color="#1633f7"/><stop offset=".994" stop-color="#1633f7"/></linearGradient><linearGradient id="gb10" x2="0" y2="1"><stop offset=".003" stop-color="#ff7d11"/><stop offset=".215" stop-color="#ff990b"/><stop offset=".245" stop-color="#faea15"/><stop offset=".286" stop-color="#9bf536"/><stop offset=".304" stop-color="#7ff558"/><stop offset=".315" stop-color="#6cf385"/><stop offset=".333" stop-color="#56f0df"/><stop offset=".339" stop-color="#4fe7f2"/><stop offset=".357" stop-color="#3b91fa"/><stop offset=".392" stop-color="#193bf8"/><stop offset=".463" stop-color="#1633f7"/><stop offset=".994" stop-color="#1633f7"/></linearGradient><linearGradient id="gb11" x2="0" y2="1"><stop offset=".003" stop-color="#f80d0c"/><stop offset=".127" stop-color="#fd1b11"/><stop offset=".203" stop-color="#fe3317"/><stop offset=".245" stop-color="#ffb90a"/><stop offset=".256" stop-color="#ffe313"/><stop offset=".286" stop-color="#bcf529"/><stop offset=".31" stop-color="#8ff540"/><stop offset=".327" stop-color="#6ff37a"/><stop offset=".345" stop-color="#57f0db"/><stop offset=".351" stop-color="#51e9ef"/><stop offset=".357" stop-color="#4bd4fa"/><stop offset=".369" stop-color="#3d96fa"/><stop offset=".404" stop-color="#1a3ef8"/><stop offset=".439" stop-color="#1633f7"/><stop offset=".994" stop-color="#1633f7"/></linearGradient><linearGradient id="gb12" x2="0" y2="1"><stop offset=".003" stop-color="#970003"/><stop offset=".056" stop-color="#a10002"/><stop offset=".198" stop-color="#f10306"/><stop offset=".215" stop-color="#fc1810"/><stop offset=".233" stop-color="#ff5617"/><stop offset=".262" stop-color="#ffbe0b"/><stop offset=".274" stop-color="#fee814"/><stop offset=".31" stop-color="#a9f52f"/><stop offset=".327" stop-color="#8af547"/><stop offset=".339" stop-color="#73f46e"/><stop offset=".357" stop-color="#58f0d7"/><stop offset=".363" stop-color="#52ecec"/><stop offset=".369" stop-color="#4bdbfa"/><stop offset=".38" stop-color="#3f9bfa"/><stop offset=".416" stop-color="#1b40f9"/><stop offset=".451" stop-color="#1633f7"/><stop offset=".994" stop-color="#1633f7"/></linearGradient><linearGradient id="gb13" x2="0" y2="1"><stop offset=".003" stop-color="#af0001"/><stop offset=".056" stop-color="#b80001"/><stop offset=".192" stop-color="#f10406"/><stop offset=".221" stop-color="#fb100e"/><stop offset=".245" stop-color="#ff5f16"/><stop offset=".274" stop-color="#ffc80c"/><stop offset=".286" stop-color="#f8eb16"/><stop offset=".327" stop-color="#9bf536"/><stop offset=".339" stop-color="#87f54c"/><stop offset=".351" stop-color="#6df37f"/><stop offset=".363" stop-color="#59f0d1"/><stop offset=".374" stop-color="#4ce3f8"/><stop offset=".392" stop-color="#398afa"/><stop offset=".427" stop-color="#1939f8"/><stop offset=".994" stop-color="#1633f7"/></linearGradient><linearGradient id="gb14" x2="0" y2="1"><stop offset=".003" stop-color="#c70000"/><stop offset=".062" stop-color="#d20102"/><stop offset=".156" stop-color="#f20406"/><stop offset=".227" stop-color="#f80d0c"/><stop offset=".239" stop-color="#fe2914"/><stop offset=".262" stop-color="#ff7e11"/><stop offset=".28" stop-color="#ffbc0b"/><stop offset=".292" stop-color="#ffe814"/><stop offset=".333" stop-color="#a1f532"/><stop offset=".345" stop-color="#91f53e"/><stop offset=".357" stop-color="#74f46c"/><stop offset=".369" stop-color="#5af0c8"/><stop offset=".38" stop-color="#4ee6f3"/><stop offset=".398" stop-color="#3a8ffa"/><stop offset=".433" stop-color="#193af8"/><stop offset=".557" stop-color="#1633f7"/><stop offset=".994" stop-color="#1633f7"/></linearGradient><linearGradient id="gb15" x2="0" y2="1"><stop offset=".003" stop-color="#df0103"/><stop offset=".074" stop-color="#ed0205"/><stop offset=".239" stop-color="#fb100e"/><stop offset=".262" stop-color="#ff5c17"/><stop offset=".292" stop-color="#ffc60c"/><stop offset=".304" stop-color="#f9ea16"/><stop offset=".351" stop-color="#97f539"/><stop offset=".357" stop-color="#8ef541"/><stop offset=".369" stop-color="#6df381"/><stop offset=".374" stop-color="#5ef0b6"/><stop offset=".38" stop-color="#57f0db"/><stop offset=".386" stop-color="#51eaee"/><stop offset=".392" stop-color="#4bd5fa"/><stop offset=".404" stop-color="#3d97fa"/><stop offset=".439" stop-color="#1b3ef8"/><stop offset=".475" stop-color="#1633f7"/><stop offset=".994" stop-color="#1633f7"/></linearGradient><linearGradient id="gb16" x2="0" y2="1"><stop offset=".003" stop-color="#f10306"/><stop offset=".239" stop-color="#fd1a11"/><stop offset=".256" stop-color="#fd2514"/><stop offset=".28" stop-color="#ff7b11"/><stop offset=".298" stop-color="#ffba0a"/><stop offset=".31" stop-color="#ffe714"/><stop offset=".351" stop-color="#a6f530"/><stop offset=".369" stop-color="#88f549"/><stop offset=".374" stop-color="#75f469"/><stop offset=".386" stop-color="#58f0d3"/><stop offset=".398" stop-color="#4be1fa"/><stop offset=".41" stop-color="#419ffa"/><stop offset=".433" stop-color="#275ffc"/><stop offset=".451" stop-color="#1939f8"/><stop offset=".994" stop-color="#1633f7"/></linearGradient><linearGradient id="gb17" x2="0" y2="1"><stop offset=".003" stop-color="#f30507"/><stop offset=".233" stop-color="#fd1a11"/><stop offset=".262" stop-color="#fd2313"/><stop offset=".274" stop-color="#ff4518"/><stop offset=".31" stop-color="#ffca0c"/><stop offset=".315" stop-color="#ffe112"/><stop offset=".339" stop-color="#d0f422"/><stop offset=".374" stop-color="#8bf546"/><stop offset=".38" stop-color="#7af560"/><stop offset=".392" stop-color="#5df0ba"/><stop offset=".398" stop-color="#57f0dd"/><stop offset=".404" stop-color="#50e9f0"/><stop offset=".416" stop-color="#48b0fa"/><stop offset=".427" stop-color="#3683fb"/><stop offset=".457" stop-color="#1a3df8"/><stop offset=".498" stop-color="#1633f7"/><stop offset=".994" stop-color="#1633f7"/></linearGradient><linearGradient id="gb18" x2="0" y2="1"><stop offset=".003" stop-color="#f40708"/><stop offset=".221" stop-color="#fd1a11"/><stop offset=".274" stop-color="#fe2814"/><stop offset=".298" stop-color="#ff7e11"/><stop offset=".315" stop-color="#ffc20b"/><stop offset=".327" stop-color="#f9ea16"/><stop offset=".374" stop-color="#96f53a"/><stop offset=".38" stop-color="#8cf543"/><stop offset=".392" stop-color="#71f476"/><stop offset=".404" stop-color="#59f0ce"/><stop offset=".416" stop-color="#4de4f6"/><stop offset=".433" stop-color="#398cfa"/><stop offset=".469" stop-color="#193af8"/><stop offset=".593" stop-color="#1633f7"/><stop offset=".994" stop-color="#1633f7"/></linearGradient><linearGradient id="gb19" x2="0" y2="1"><stop offset=".003" stop-color="#f6090a"/><stop offset=".209" stop-color="#fd1b11"/><stop offset=".286" stop-color="#fe2c15"/><stop offset=".31" stop-color="#ff8b0e"/><stop offset=".327" stop-color="#ffd30f"/><stop offset=".333" stop-color="#fde915"/><stop offset=".38" stop-color="#97f539"/><stop offset=".392" stop-color="#81f554"/><stop offset=".398" stop-color="#75f46a"/><stop offset=".416" stop-color="#58f0d8"/><stop offset=".427" stop-color="#4bdbfa"/><stop offset=".439" stop-color="#3f9afa"/><stop offset=".475" stop-color="#1b40f9"/><stop offset=".51" stop-color="#1633f7"/><stop offset=".994" stop-color="#1633f7"/></linearGradient><linearGradient id="gb20" x2="0" y2="1"><stop offset=".003" stop-color="#f70b0b"/><stop offset=".198" stop-color="#fd1c11"/><stop offset=".298" stop-color="#ff3517"/><stop offset=".333" stop-color="#ffcb0d"/><stop offset=".339" stop-color="#ffe513"/><stop offset=".369" stop-color="#baf529"/><stop offset=".392" stop-color="#8ff540"/><stop offset=".41" stop-color="#6ef37f"/><stop offset=".422" stop-color="#5af0c7"/><stop offset=".433" stop-color="#4fe7f3"/><stop offset=".451" stop-color="#3b8ffa"/><stop offset=".486" stop-color="#193af8"/><stop offset=".61" stop-color="#1633f7"/><stop offset=".994" stop-color="#1633f7"/></linearGradient><linearGradient id="gb21" x2="0" y2="1"><stop offset=".003" stop-color="#f90d0c"/><stop offset=".186" stop-color="#fd1e12"/><stop offset=".304" stop-color="#fe3517"/><stop offset=".31" stop-color="#ff4019"/><stop offset=".339" stop-color="#ffc20b"/><stop offset=".345" stop-color="#ffdd11"/><stop offset=".357" stop-color="#eaf01a"/><stop offset=".392" stop-color="#98f538"/><stop offset=".41" stop-color="#7bf55e"/><stop offset=".422" stop-color="#68f291"/><stop offset=".433" stop-color="#58f0d3"/><stop offset=".445" stop-color="#4be2f9"/><stop offset=".457" stop-color="#41a0fa"/><stop offset=".475" stop-color="#2d6dfc"/><stop offset=".498" stop-color="#1939f8"/><stop offset=".994" stop-color="#1633f7"/></linearGradient><linearGradient id="gb22" x2="0" y2="1"><stop offset=".003" stop-color="#fc130f"/><stop offset=".315" stop-color="#ff4718"/><stop offset=".345" stop-color="#ffc30b"/><stop offset=".357" stop-color="#f6eb17"/><stop offset=".398" stop-color="#99f538"/><stop offset=".416" stop-color="#7df55b"/><stop offset=".427" stop-color="#6af389"/><stop offset=".445" stop-color="#56f0e2"/><stop offset=".451" stop-color="#4ee6f3"/><stop offset=".469" stop-color="#3a8efa"/><stop offset=".504" stop-color="#193af8"/><stop offset=".628" stop-color="#1633f7"/><stop offset=".994" stop-color="#1633f7"/></linearGradient><linearGradient id="gb23" x2="0" y2="1"><stop offset=".003" stop-color="#fe2f16"/><stop offset=".321" stop-color="#ff6516"/><stop offset=".345" stop-color="#ffb70a"/><stop offset=".357" stop-color="#ffe413"/><stop offset=".386" stop-color="#bdf528"/><stop offset=".416" stop-color="#88f54a"/><stop offset=".427" stop-color="#75f46b"/><stop offset=".451" stop-color="#56f0df"/><stop offset=".457" stop-color="#4fe7f1"/><stop offset=".475" stop-color="#3b92fa"/><stop offset=".51" stop-color="#1a3bf8"/><stop offset=".581" stop-color="#1633f7"/><stop offset=".994" stop-color="#1633f7"/></linearGradient><linearGradient id="gb24" x2="0" y2="1"><stop offset=".003" stop-color="#ff4d18"/><stop offset=".327" stop-color="#ff8210"/><stop offset=".351" stop-color="#ffc50c"/><stop offset=".363" stop-color="#fee814"/><stop offset=".404" stop-color="#a3f531"/><stop offset=".422" stop-color="#89f548"/><stop offset=".439" stop-color="#6cf382"/><stop offset=".457" stop-color="#57f0dc"/><stop offset=".463" stop-color="#50e9f0"/><stop offset=".475" stop-color="#48b1fa"/><stop offset=".486" stop-color="#3683fb"/><stop offset=".516" stop-color="#1a3df8"/><stop offset=".557" stop-color="#1633f7"/><stop offset=".994" stop-color="#1633f7"/></linearGradient><linearGradient id="gb25" x2="0" y2="1"><stop offset=".003" stop-color="#ff6b15"/><stop offset=".333" stop-color="#ff9f0a"/><stop offset=".369" stop-color="#fbea15"/><stop offset=".416" stop-color="#9bf536"/><stop offset=".433" stop-color="#80f555"/><stop offset=".451" stop-color="#64f29c"/><stop offset=".463" stop-color="#57f0da"/><stop offset=".469" stop-color="#51eaee"/><stop offset=".475" stop-color="#4bd7fa"/><stop offset=".486" stop-color="#3e98fa"/><stop offset=".522" stop-color="#1b3ff9"/><stop offset=".557" stop-color="#1633f7"/><stop offset=".994" stop-color="#1633f7"/></linearGradient><linearGradient id="gb26" x2="0" y2="1"><stop offset=".003" stop-color="#ffb80a"/><stop offset=".351" stop-color="#ffde11"/><stop offset=".38" stop-color="#e9f01b"/><stop offset=".427" stop-color="#97f53a"/><stop offset=".439" stop-color="#86f54c"/><stop offset=".451" stop-color="#73f46e"/><stop offset=".469" stop-color="#5af0cc"/><stop offset=".481" stop-color="#4ee5f4"/><stop offset=".498" stop-color="#3a8dfa"/><stop offset=".534" stop-color="#193af8"/><stop offset=".657" stop-color="#1633f7"/><stop offset=".994" stop-color="#1633f7"/></linearGradient><linearGradient id="gb27" x2="0" y2="1"><stop offset=".003" stop-color="#ecef19"/><stop offset=".38" stop-color="#e3f21c"/><stop offset=".433" stop-color="#99f538"/><stop offset=".451" stop-color="#82f553"/><stop offset=".463" stop-color="#6ff37a"/><stop offset=".481" stop-color="#58f0d6"/><stop offset=".492" stop-color="#4bdefa"/><stop offset=".504" stop-color="#409dfa"/><stop offset=".522" stop-color="#2d6cfc"/><stop offset=".545" stop-color="#1839f8"/><stop offset=".994" stop-color="#1633f7"/></linearGradient><linearGradient id="gb28" x2="0" y2="1"><stop offset=".003" stop-color="#e3f21c"/><stop offset=".386" stop-color="#d6f320"/><stop offset=".439" stop-color="#96f53a"/><stop offset=".457" stop-color="#7ff557"/><stop offset=".469" stop-color="#6cf383"/><stop offset=".486" stop-color="#57f0dd"/><stop offset=".492" stop-color="#50e9f0"/><stop offset=".504" stop-color="#48b0fa"/><stop offset=".516" stop-color="#3683fb"/><stop offset=".545" stop-color="#1a3df8"/><stop offset=".587" stop-color="#1633f7"/><stop offset=".994" stop-color="#1633f7"/></linearGradient><linearGradient id="gb29" x2="0" y2="1"><stop offset=".003" stop-color="#d7f320"/><stop offset=".386" stop-color="#cbf424"/><stop offset=".451" stop-color="#90f53f"/><stop offset=".469" stop-color="#73f46f"/><stop offset=".492" stop-color="#55f0e4"/><stop offset=".498" stop-color="#4ee5f5"/><stop offset=".516" stop-color="#3a8dfa"/><stop offset=".551" stop-color="#193af8"/><stop offset=".675" stop-color="#1633f7"/><stop offset=".994" stop-color="#1633f7"/></linearGradient><linearGradient id="gb30" x2="0" y2="1"><stop offset=".003" stop-color="#cbf424"/><stop offset=".392" stop-color="#bef528"/><stop offset=".457" stop-color="#8df543"/><stop offset=".475" stop-color="#70f477"/><stop offset=".492" stop-color="#58f0d3"/><stop offset=".504" stop-color="#4be1fa"/><stop offset=".516" stop-color="#419ffa"/><stop offset=".54" stop-color="#275ffc"/><stop offset=".557" stop-color="#1939f8"/><stop offset=".994" stop-color="#1633f7"/></linearGradient><linearGradient id="gb31" x2="0" y2="1"><stop offset=".003" stop-color="#c0f527"/><stop offset=".398" stop-color="#b2f52c"/><stop offset=".457" stop-color="#92f53e"/><stop offset=".475" stop-color="#76f467"/><stop offset=".498" stop-color="#57f0da"/><stop offset=".504" stop-color="#51eaee"/><stop offset=".51" stop-color="#4bd6fa"/><stop offset=".522" stop-color="#3e97fa"/><stop offset=".557" stop-color="#1b3ef9"/><stop offset=".593" stop-color="#1633f7"/><stop offset=".994" stop-color="#1633f7"/></linearGradient><linearGradient id="gb32" x2="0" y2="1"><stop offset=".003" stop-color="#9af537"/><stop offset=".416" stop-color="#91f53f"/><stop offset=".451" stop-color="#83f551"/><stop offset=".475" stop-color="#6ff37b"/><stop offset=".504" stop-color="#59f0d1"/><stop offset=".516" stop-color="#4ce3f8"/><stop offset=".528" stop-color="#45aafa"/><stop offset=".545" stop-color="#337afc"/><stop offset=".575" stop-color="#1939f8"/><stop offset=".994" stop-color="#1633f7"/></linearGradient><linearGradient id="gb33" x2="0" y2="1"><stop offset=".003" stop-color="#81f553"/><stop offset=".427" stop-color="#7bf55f"/><stop offset=".469" stop-color="#6af38a"/><stop offset=".51" stop-color="#5af0c8"/><stop offset=".522" stop-color="#51eaef"/><stop offset=".534" stop-color="#4bbafa"/><stop offset=".551" stop-color="#398afa"/><stop offset=".587" stop-color="#1a3cf8"/><stop offset=".64" stop-color="#1633f7"/><stop offset=".994" stop-color="#1633f7"/></linearGradient><linearGradient id="gb34" x2="0" y2="1"><stop offset=".003" stop-color="#60f1ad"/><stop offset=".457" stop-color="#59f0d1"/><stop offset=".534" stop-color="#50e9ef"/><stop offset=".545" stop-color="#4bddfa"/><stop offset=".581" stop-color="#398afa"/><stop offset=".634" stop-color="#2251fb"/><stop offset=".846" stop-color="#1838f8"/><stop offset=".994" stop-color="#1734f7"/></linearGradient><linearGradient id="gb35" x2="0" y2="1"><stop offset=".003" stop-color="#2861fc"/><stop offset=".905" stop-color="#1839f8"/><stop offset=".994" stop-color="#1838f8"/></linearGradient><linearGradient id="gb36" x2="0" y2="1"><stop offset=".003" stop-color="#0b20f1"/><stop offset=".994" stop-color="#0d23f2"/></linearGradient><linearGradient id="gb37" x2="0" y2="1"><stop offset=".003" stop-color="#1531f6"/><stop offset=".994" stop-color="#142ff6"/></linearGradient><linearGradient id="gb38" x2="0" y2="1"><stop offset=".003" stop-color="#1c42f9"/><stop offset=".994" stop-color="#1736f7"/></linearGradient><linearGradient id="gb39" x2="0" y2="1"><stop offset=".003" stop-color="#1531f6"/><stop offset=".994" stop-color="#142ff6"/></linearGradient><linearGradient id="gb40" x2="0" y2="1"><stop offset=".003" stop-color="#265cfc"/><stop offset=".811" stop-color="#1839f8"/><stop offset=".994" stop-color="#1837f7"/></linearGradient><linearGradient id="gb41" x2="0" y2="1"><stop offset=".003" stop-color="#69f28c"/><stop offset=".156" stop-color="#64f29f"/><stop offset=".18" stop-color="#5ff1b2"/><stop offset=".321" stop-color="#59f0ce"/><stop offset=".333" stop-color="#4de4f6"/><stop offset=".339" stop-color="#4bc7fa"/><stop offset=".463" stop-color="#3889fb"/><stop offset=".545" stop-color="#2d6cfc"/><stop offset=".598" stop-color="#1839f8"/><stop offset=".994" stop-color="#1633f7"/></linearGradient><linearGradient id="gb42" x2="0" y2="1"><stop offset=".003" stop-color="#8bf545"/><stop offset=".168" stop-color="#80f555"/><stop offset=".28" stop-color="#62f1a7"/><stop offset=".327" stop-color="#5af0ca"/><stop offset=".339" stop-color="#50e8f0"/><stop offset=".351" stop-color="#4bc4fa"/><stop offset=".469" stop-color="#3888fb"/><stop offset=".545" stop-color="#2d6cfc"/><stop offset=".598" stop-color="#1839f8"/><stop offset=".994" stop-color="#1633f7"/></linearGradient><linearGradient id="gb43" x2="0" y2="1"><stop offset=".003" stop-color="#cbf424"/><stop offset=".097" stop-color="#b9f52a"/><stop offset=".174" stop-color="#abf52e"/><stop offset=".262" stop-color="#78f463"/><stop offset=".327" stop-color="#5df0ba"/><stop offset=".345" stop-color="#53eceb"/><stop offset=".351" stop-color="#4bdefa"/><stop offset=".357" stop-color="#4bc5fa"/><stop offset=".475" stop-color="#3787fb"/><stop offset=".545" stop-color="#2d6cfc"/><stop offset=".598" stop-color="#1839f8"/><stop offset=".994" stop-color="#1633f7"/></linearGradient><linearGradient id="gb44" x2="0" y2="1"><stop offset=".003" stop-color="#ffc80c"/><stop offset=".05" stop-color="#ffd10e"/><stop offset=".097" stop-color="#fbea15"/><stop offset=".186" stop-color="#e4f21c"/><stop offset=".256" stop-color="#99f538"/><stop offset=".292" stop-color="#7ef558"/><stop offset=".321" stop-color="#68f28f"/><stop offset=".345" stop-color="#59f0ce"/><stop offset=".357" stop-color="#4de4f6"/><stop offset=".363" stop-color="#4bc6fa"/><stop offset=".469" stop-color="#3889fb"/><stop offset=".545" stop-color="#2d6cfc"/><stop offset=".598" stop-color="#1839f8"/><stop offset=".994" stop-color="#1633f7"/></linearGradient><linearGradient id="gb45" x2="0" y2="1"><stop offset=".003" stop-color="#ff6e14"/><stop offset=".044" stop-color="#ff7612"/><stop offset=".133" stop-color="#ffc20b"/><stop offset=".186" stop-color="#fbe915"/><stop offset=".215" stop-color="#e3f21c"/><stop offset=".274" stop-color="#98f538"/><stop offset=".31" stop-color="#7af560"/><stop offset=".339" stop-color="#62f1a5"/><stop offset=".357" stop-color="#56f0e0"/><stop offset=".363" stop-color="#4fe7f2"/><stop offset=".369" stop-color="#4bccfa"/><stop offset=".469" stop-color="#398afa"/><stop offset=".545" stop-color="#2d6cfc"/><stop offset=".598" stop-color="#1839f8"/><stop offset=".994" stop-color="#1633f7"/></linearGradient><linearGradient id="gb46" x2="0" y2="1"><stop offset=".003" stop-color="#ff6915"/><stop offset=".044" stop-color="#ff7014"/><stop offset=".156" stop-color="#ffc30b"/><stop offset=".215" stop-color="#f8eb16"/><stop offset=".286" stop-color="#99f538"/><stop offset=".315" stop-color="#7ef559"/><stop offset=".339" stop-color="#69f28e"/><stop offset=".369" stop-color="#51e9ef"/><stop offset=".38" stop-color="#4bc4fa"/><stop offset=".481" stop-color="#3887fb"/><stop offset=".545" stop-color="#2d6cfc"/><stop offset=".598" stop-color="#1839f8"/><stop offset=".994" stop-color="#1633f7"/></linearGradient><linearGradient id="gb47" x2="0" y2="1"><stop offset=".003" stop-color="#ff890f"/><stop offset=".056" stop-color="#ff920d"/><stop offset=".18" stop-color="#ffd30f"/><stop offset=".227" stop-color="#f8ea16"/><stop offset=".298" stop-color="#98f538"/><stop offset=".327" stop-color="#7bf55e"/><stop offset=".351" stop-color="#65f299"/><stop offset=".374" stop-color="#52ecec"/><stop offset=".38" stop-color="#4bdbfa"/><stop offset=".386" stop-color="#4bc5fa"/><stop offset=".481" stop-color="#3888fb"/><stop offset=".545" stop-color="#2d6cfc"/><stop offset=".598" stop-color="#1839f8"/><stop offset=".994" stop-color="#1633f7"/></linearGradient><linearGradient id="gb48" x2="0" y2="1"><stop offset=".003" stop-color="#fd2213"/><stop offset=".05" stop-color="#fe2b15"/><stop offset=".174" stop-color="#ff7f11"/><stop offset=".221" stop-color="#ffc80c"/><stop offset=".245" stop-color="#fbe915"/><stop offset=".315" stop-color="#95f53b"/><stop offset=".345" stop-color="#75f46a"/><stop offset=".38" stop-color="#54eee9"/><stop offset=".386" stop-color="#4ce2f9"/><stop offset=".392" stop-color="#4bc6fa"/><stop offset=".486" stop-color="#3888fb"/><stop offset=".545" stop-color="#2e6efc"/><stop offset=".598" stop-color="#1939f8"/><stop offset=".994" stop-color="#1633f7"/></linearGradient><linearGradient id="gb49" x2="0" y2="1"><stop offset=".003" stop-color="#d70102"/><stop offset=".044" stop-color="#de0103"/><stop offset=".085" stop-color="#f20507"/><stop offset=".162" stop-color="#fc1811"/><stop offset=".186" stop-color="#fe2a15"/><stop offset=".227" stop-color="#ff8f0d"/><stop offset=".251" stop-color="#ffc90c"/><stop offset=".262" stop-color="#ffe714"/><stop offset=".31" stop-color="#b0f52d"/><stop offset=".339" stop-color="#8bf546"/><stop offset=".357" stop-color="#74f46c"/><stop offset=".386" stop-color="#55f0e5"/><stop offset=".392" stop-color="#4de4f6"/><stop offset=".398" stop-color="#4bc6fa"/><stop offset=".492" stop-color="#3787fb"/><stop offset=".551" stop-color="#2c6bfc"/><stop offset=".604" stop-color="#1838f8"/><stop offset=".994" stop-color="#1633f7"/></linearGradient><linearGradient id="gb50" x2="0" y2="1"><stop offset=".003" stop-color="#b70001"/><stop offset=".044" stop-color="#bd0000"/><stop offset=".127" stop-color="#f10406"/><stop offset=".203" stop-color="#fc130f"/><stop offset=".233" stop-color="#ff6715"/><stop offset=".262" stop-color="#ffbc0b"/><stop offset=".28" stop-color="#f9ea16"/><stop offset=".339" stop-color="#97f53a"/><stop offset=".363" stop-color="#78f465"/><stop offset=".392" stop-color="#56f0df"/><stop offset=".398" stop-color="#4fe7f1"/><stop offset=".404" stop-color="#4bcefa"/><stop offset=".451" stop-color="#42a2fa"/><stop offset=".528" stop-color="#337bfc"/><stop offset=".569" stop-color="#2559fc"/><stop offset=".604" stop-color="#1839f8"/><stop offset=".994" stop-color="#1633f7"/></linearGradient><linearGradient id="gb51" x2="0" y2="1"><stop offset=".003" stop-color="#e10103"/><stop offset=".05" stop-color="#e90204"/><stop offset=".203" stop-color="#fc1911"/><stop offset=".215" stop-color="#fd1e12"/><stop offset=".239" stop-color="#ff6216"/><stop offset=".268" stop-color="#ffb60a"/><stop offset=".286" stop-color="#fde915"/><stop offset=".345" stop-color="#97f53a"/><stop offset=".369" stop-color="#79f463"/><stop offset=".392" stop-color="#5df0bc"/><stop offset=".404" stop-color="#52ecec"/><stop offset=".41" stop-color="#4bdbfa"/><stop offset=".416" stop-color="#4bc4fa"/><stop offset=".492" stop-color="#3889fb"/><stop offset=".551" stop-color="#2d6cfc"/><stop offset=".604" stop-color="#1839f8"/><stop offset=".994" stop-color="#1633f7"/></linearGradient><linearGradient id="gb52" x2="0" y2="1"><stop offset=".003" stop-color="#f50909"/><stop offset=".162" stop-color="#fd1a11"/><stop offset=".227" stop-color="#fe2f16"/><stop offset=".262" stop-color="#ff900d"/><stop offset=".286" stop-color="#ffd40f"/><stop offset=".292" stop-color="#ffe614"/><stop offset=".333" stop-color="#b2f52c"/><stop offset=".363" stop-color="#88f549"/><stop offset=".38" stop-color="#72f470"/><stop offset=".41" stop-color="#55f0e7"/><stop offset=".416" stop-color="#4de3f7"/><stop offset=".422" stop-color="#4bc6fa"/><stop offset=".498" stop-color="#3888fb"/><stop offset=".551" stop-color="#2d6cfc"/><stop offset=".604" stop-color="#1839f8"/><stop offset=".994" stop-color="#1633f7"/></linearGradient><linearGradient id="gb53" x2="0" y2="1"><stop offset=".003" stop-color="#ff4119"/><stop offset=".239" stop-color="#ff6915"/><stop offset=".256" stop-color="#ff860f"/><stop offset=".286" stop-color="#ffc40b"/><stop offset=".304" stop-color="#fde915"/><stop offset=".357" stop-color="#9af537"/><stop offset=".386" stop-color="#75f469"/><stop offset=".422" stop-color="#51eaef"/><stop offset=".433" stop-color="#4bc3fa"/><stop offset=".504" stop-color="#3787fb"/><stop offset=".557" stop-color="#2a66fc"/><stop offset=".604" stop-color="#1839f8"/><stop offset=".994" stop-color="#1633f7"/></linearGradient><linearGradient id="gb54" x2="0" y2="1"><stop offset=".003" stop-color="#ff8d0e"/><stop offset=".262" stop-color="#ffaa08"/><stop offset=".315" stop-color="#fce915"/><stop offset=".339" stop-color="#d2f322"/><stop offset=".369" stop-color="#97f539"/><stop offset=".398" stop-color="#72f471"/><stop offset=".427" stop-color="#55f0e6"/><stop offset=".433" stop-color="#4de4f6"/><stop offset=".439" stop-color="#4bc6fa"/><stop offset=".504" stop-color="#3888fb"/><stop offset=".557" stop-color="#2a66fc"/><stop offset=".604" stop-color="#1839f8"/><stop offset=".994" stop-color="#1633f7"/></linearGradient><linearGradient id="gb55" x2="0" y2="1"><stop offset=".003" stop-color="#ff6815"/><stop offset=".274" stop-color="#ff8e0e"/><stop offset=".31" stop-color="#ffcb0d"/><stop offset=".333" stop-color="#f6eb17"/><stop offset=".374" stop-color="#99f538"/><stop offset=".404" stop-color="#74f46d"/><stop offset=".433" stop-color="#56f0e1"/><stop offset=".439" stop-color="#4fe6f3"/><stop offset=".445" stop-color="#4bcafa"/><stop offset=".504" stop-color="#398afa"/><stop offset=".557" stop-color="#2a66fc"/><stop offset=".604" stop-color="#1839f8"/><stop offset=".994" stop-color="#1633f7"/></linearGradient><linearGradient id="gb56" x2="0" y2="1"><stop offset=".003" stop-color="#ff4219"/><stop offset=".286" stop-color="#ff6f14"/><stop offset=".321" stop-color="#ffc00b"/><stop offset=".339" stop-color="#fde915"/><stop offset=".38" stop-color="#9cf536"/><stop offset=".41" stop-color="#75f46a"/><stop offset=".445" stop-color="#50e9ef"/><stop offset=".457" stop-color="#4bc1fa"/><stop offset=".51" stop-color="#3888fb"/><stop offset=".563" stop-color="#275ffc"/><stop offset=".604" stop-color="#1839f8"/><stop offset=".994" stop-color="#1633f7"/></linearGradient><linearGradient id="gb57" x2="0" y2="1"><stop offset=".003" stop-color="#fd1e12"/><stop offset=".298" stop-color="#ff5217"/><stop offset=".327" stop-color="#ffa209"/><stop offset=".351" stop-color="#fde915"/><stop offset=".392" stop-color="#95f53b"/><stop offset=".416" stop-color="#77f467"/><stop offset=".451" stop-color="#52ecec"/><stop offset=".457" stop-color="#4bdbfa"/><stop offset=".463" stop-color="#4bc3fa"/><stop offset=".51" stop-color="#388afb"/><stop offset=".569" stop-color="#2559fc"/><stop offset=".604" stop-color="#1839f8"/><stop offset=".994" stop-color="#1633f7"/></linearGradient><linearGradient id="gb58" x2="0" y2="1"><stop offset=".003" stop-color="#ff4a18"/><stop offset=".31" stop-color="#ff7912"/><stop offset=".339" stop-color="#ffc00b"/><stop offset=".357" stop-color="#fce915"/><stop offset=".398" stop-color="#98f539"/><stop offset=".427" stop-color="#72f471"/><stop offset=".457" stop-color="#55f0e7"/><stop offset=".463" stop-color="#4de3f7"/><stop offset=".469" stop-color="#4bc5fa"/><stop offset=".516" stop-color="#3889fb"/><stop offset=".581" stop-color="#214efa"/><stop offset=".61" stop-color="#1838f8"/><stop offset=".994" stop-color="#1633f7"/></linearGradient><linearGradient id="gb59" x2="0" y2="1"><stop offset=".003" stop-color="#ff7712"/><stop offset=".315" stop-color="#ff990b"/><stop offset=".363" stop-color="#fbea15"/><stop offset=".404" stop-color="#9bf536"/><stop offset=".433" stop-color="#74f46c"/><stop offset=".463" stop-color="#56f0df"/><stop offset=".469" stop-color="#4fe7f1"/><stop offset=".481" stop-color="#4bbefa"/><stop offset=".522" stop-color="#3887fb"/><stop offset=".61" stop-color="#1838f8"/><stop offset=".994" stop-color="#1633f7"/></linearGradient><linearGradient id="gb60" x2="0" y2="1"><stop offset=".003" stop-color="#ffa209"/><stop offset=".327" stop-color="#ffc10b"/><stop offset=".369" stop-color="#f9ea16"/><stop offset=".392" stop-color="#c5f426"/><stop offset=".422" stop-color="#8cf543"/><stop offset=".445" stop-color="#70f379"/><stop offset=".475" stop-color="#52ecec"/><stop offset=".481" stop-color="#4bdbfa"/><stop offset=".486" stop-color="#4bc1fa"/><stop offset=".522" stop-color="#398afa"/><stop offset=".61" stop-color="#1839f8"/><stop offset=".994" stop-color="#1633f7"/></linearGradient><linearGradient id="gb61" x2="0" y2="1"><stop offset=".003" stop-color="#ffc30b"/><stop offset=".339" stop-color="#ffdb11"/><stop offset=".374" stop-color="#eeee19"/><stop offset=".422" stop-color="#98f539"/><stop offset=".445" stop-color="#7af561"/><stop offset=".463" stop-color="#64f29e"/><stop offset=".481" stop-color="#54eee9"/><stop offset=".486" stop-color="#4ce2f9"/><stop offset=".492" stop-color="#4bc3fa"/><stop offset=".528" stop-color="#3888fb"/><stop offset=".61" stop-color="#1839f8"/><stop offset=".994" stop-color="#1633f7"/></linearGradient><linearGradient id="gb62" x2="0" y2="1"><stop offset=".003" stop-color="#ffe413"/><stop offset=".363" stop-color="#f3ed18"/><stop offset=".386" stop-color="#d8f320"/><stop offset=".433" stop-color="#94f53c"/><stop offset=".457" stop-color="#75f469"/><stop offset=".486" stop-color="#55f0e5"/><stop offset=".492" stop-color="#4de4f6"/><stop offset=".498" stop-color="#4bc6fa"/><stop offset=".528" stop-color="#398afa"/><stop offset=".61" stop-color="#1839f8"/><stop offset=".994" stop-color="#1633f7"/></linearGradient><linearGradient id="gb63" x2="0" y2="1"><stop offset=".003" stop-color="#eeee19"/><stop offset=".374" stop-color="#e3f21c"/><stop offset=".433" stop-color="#9af537"/><stop offset=".451" stop-color="#88f549"/><stop offset=".469" stop-color="#70f378"/><stop offset=".492" stop-color="#56f0e1"/><stop offset=".498" stop-color="#4fe6f3"/><stop offset=".51" stop-color="#4bb8fa"/><stop offset=".534" stop-color="#3887fb"/><stop offset=".61" stop-color="#1839f8"/><stop offset=".994" stop-color="#1633f7"/></linearGradient><linearGradient id="gb64" x2="0" y2="1"><stop offset=".003" stop-color="#d8f320"/><stop offset=".38" stop-color="#caf424"/><stop offset=".451" stop-color="#91f53e"/><stop offset=".475" stop-color="#71f475"/><stop offset=".504" stop-color="#50e8f1"/><stop offset=".522" stop-color="#45a9fa"/><stop offset=".54" stop-color="#3784fb"/><stop offset=".61" stop-color="#1939f8"/><stop offset=".994" stop-color="#1633f7"/></linearGradient><linearGradient id="gb65" x2="0" y2="1"><stop offset=".003" stop-color="#c0f527"/><stop offset=".386" stop-color="#b4f52b"/><stop offset=".463" stop-color="#8bf546"/><stop offset=".481" stop-color="#72f471"/><stop offset=".51" stop-color="#51eaee"/><stop offset=".522" stop-color="#4bbafa"/><stop offset=".54" stop-color="#3889fb"/><stop offset=".61" stop-color="#1939f8"/><stop offset=".994" stop-color="#1633f7"/></linearGradient><linearGradient id="gb66" x2="0" y2="1"><stop offset=".003" stop-color="#abf52e"/><stop offset=".398" stop-color="#9ef533"/><stop offset=".469" stop-color="#8cf544"/><stop offset=".486" stop-color="#73f46e"/><stop offset=".516" stop-color="#52ecec"/><stop offset=".522" stop-color="#4bdbfa"/><stop offset=".534" stop-color="#43a5fa"/><stop offset=".545" stop-color="#3785fb"/><stop offset=".61" stop-color="#193af8"/><stop offset=".858" stop-color="#1633f7"/><stop offset=".994" stop-color="#1633f7"/></linearGradient><linearGradient id="gb67" x2="0" y2="1"><stop offset=".003" stop-color="#92f53d"/><stop offset=".416" stop-color="#8af547"/><stop offset=".457" stop-color="#81f554"/><stop offset=".486" stop-color="#6bf386"/><stop offset=".516" stop-color="#58f0d5"/><stop offset=".528" stop-color="#4be0fa"/><stop offset=".54" stop-color="#43a5fa"/><stop offset=".551" stop-color="#3683fb"/><stop offset=".616" stop-color="#1939f8"/><stop offset=".994" stop-color="#1633f7"/></linearGradient><linearGradient id="gb68" x2="0" y2="1"><stop offset=".003" stop-color="#81f553"/><stop offset=".422" stop-color="#7cf55e"/><stop offset=".457" stop-color="#71f473"/><stop offset=".516" stop-color="#5bf0c4"/><stop offset=".528" stop-color="#54eee8"/><stop offset=".534" stop-color="#4ce2f9"/><stop offset=".545" stop-color="#43a5fa"/><stop offset=".557" stop-color="#3581fc"/><stop offset=".622" stop-color="#1939f8"/><stop offset=".994" stop-color="#1633f7"/></linearGradient><linearGradient id="gb69" x2="0" y2="1"><stop offset=".003" stop-color="#77f466"/><stop offset=".422" stop-color="#73f46e"/><stop offset=".522" stop-color="#5af0c8"/><stop offset=".534" stop-color="#52ecec"/><stop offset=".54" stop-color="#4bdbfa"/><stop offset=".551" stop-color="#409efa"/><stop offset=".563" stop-color="#337cfc"/><stop offset=".622" stop-color="#193af8"/><stop offset=".87" stop-color="#1633f7"/><stop offset=".994" stop-color="#1633f7"/></linearGradient><linearGradient id="gb70" x2="0" y2="1"><stop offset=".003" stop-color="#5af0cc"/><stop offset=".51" stop-color="#56f0de"/><stop offset=".587" stop-color="#4be1fa"/><stop offset=".61" stop-color="#46abfa"/><stop offset=".634" stop-color="#3682fb"/><stop offset=".681" stop-color="#2251fb"/><stop offset=".87" stop-color="#1838f8"/><stop offset=".994" stop-color="#1734f7"/></linearGradient><linearGradient id="gb71" x2="0" y2="1"><stop offset=".003" stop-color="#0d23f2"/><stop offset=".994" stop-color="#1027f4"/></linearGradient><linearGradient id="gb72" x2="0" y2="1"><stop offset=".003" stop-color="#142ef6"/><stop offset=".994" stop-color="#122af5"/></linearGradient><linearGradient id="gb73" x2="0" y2="1"><stop offset=".003" stop-color="#132cf5"/><stop offset=".994" stop-color="#1531f6"/></linearGradient><linearGradient id="gb74" x2="0" y2="1"><stop offset=".003" stop-color="#1838f8"/><stop offset=".994" stop-color="#1734f7"/></linearGradient><linearGradient id="gb75" x2="0" y2="1"><stop offset=".003" stop-color="#76f469"/><stop offset=".133" stop-color="#6df381"/><stop offset=".256" stop-color="#59f0cd"/><stop offset=".268" stop-color="#56f0e0"/><stop offset=".28" stop-color="#4bd6fa"/><stop offset=".292" stop-color="#4bbafa"/><stop offset=".339" stop-color="#3888fb"/><stop offset=".357" stop-color="#3175fc"/><stop offset=".38" stop-color="#1a3df8"/><stop offset=".422" stop-color="#1633f7"/><stop offset=".994" stop-color="#1633f7"/></linearGradient><linearGradient id="gb76" x2="0" y2="1"><stop offset=".003" stop-color="#b8f52a"/><stop offset=".221" stop-color="#91f53e"/><stop offset=".256" stop-color="#72f472"/><stop offset=".286" stop-color="#5af0ca"/><stop offset=".298" stop-color="#4fe7f3"/><stop offset=".304" stop-color="#4bcbfa"/><stop offset=".351" stop-color="#3887fb"/><stop offset=".369" stop-color="#2e70fc"/><stop offset=".392" stop-color="#1939f8"/><stop offset=".994" stop-color="#1633f7"/></linearGradient><linearGradient id="gb77" x2="0" y2="1"><stop offset=".003" stop-color="#fbe915"/><stop offset=".186" stop-color="#def21e"/><stop offset=".251" stop-color="#91f53e"/><stop offset=".28" stop-color="#70f476"/><stop offset=".31" stop-color="#56f0e2"/><stop offset=".315" stop-color="#4ee6f4"/><stop offset=".321" stop-color="#4bc8fa"/><stop offset=".363" stop-color="#3887fb"/><stop offset=".38" stop-color="#2d6cfc"/><stop offset=".404" stop-color="#1939f8"/><stop offset=".994" stop-color="#1633f7"/></linearGradient><linearGradient id="gb78" x2="0" y2="1"><stop offset=".003" stop-color="#ffad09"/><stop offset=".162" stop-color="#ffcf0e"/><stop offset=".215" stop-color="#fbea15"/><stop offset=".233" stop-color="#e7f11b"/><stop offset=".268" stop-color="#99f538"/><stop offset=".292" stop-color="#78f464"/><stop offset=".315" stop-color="#5bf0c2"/><stop offset=".327" stop-color="#50e9f0"/><stop offset=".339" stop-color="#4bbefa"/><stop offset=".374" stop-color="#3785fb"/><stop offset=".392" stop-color="#2a65fc"/><stop offset=".41" stop-color="#193af8"/><stop offset=".534" stop-color="#1633f7"/><stop offset=".994" stop-color="#1633f7"/></linearGradient><linearGradient id="gb79" x2="0" y2="1"><stop offset=".003" stop-color="#ff8f0d"/><stop offset=".168" stop-color="#ffac09"/><stop offset=".233" stop-color="#fbea15"/><stop offset=".256" stop-color="#d3f321"/><stop offset=".286" stop-color="#99f538"/><stop offset=".304" stop-color="#7cf55c"/><stop offset=".315" stop-color="#69f28d"/><stop offset=".327" stop-color="#59f0d0"/><stop offset=".339" stop-color="#4ce3f7"/><stop offset=".345" stop-color="#4bc4fa"/><stop offset=".38" stop-color="#3786fb"/><stop offset=".398" stop-color="#2b67fc"/><stop offset=".416" stop-color="#1a3cf8"/><stop offset=".469" stop-color="#1633f7"/><stop offset=".994" stop-color="#1633f7"/></linearGradient><linearGradient id="gb80" x2="0" y2="1"><stop offset=".003" stop-color="#ff7113"/><stop offset=".18" stop-color="#ff910d"/><stop offset=".233" stop-color="#ffda10"/><stop offset=".251" stop-color="#f9ea16"/><stop offset=".304" stop-color="#99f538"/><stop offset=".315" stop-color="#84f54f"/><stop offset=".321" stop-color="#77f467"/><stop offset=".339" stop-color="#57f0db"/><stop offset=".345" stop-color="#51eaee"/><stop offset=".357" stop-color="#4bbefa"/><stop offset=".386" stop-color="#3888fb"/><stop offset=".41" stop-color="#265bfc"/><stop offset=".427" stop-color="#1838f8"/><stop offset=".994" stop-color="#1633f7"/></linearGradient><linearGradient id="gb81" x2="0" y2="1"><stop offset=".003" stop-color="#f60b0a"/><stop offset=".091" stop-color="#fd1b11"/><stop offset=".168" stop-color="#ff4518"/><stop offset=".239" stop-color="#ffc40c"/><stop offset=".262" stop-color="#faea16"/><stop offset=".315" stop-color="#9af537"/><stop offset=".327" stop-color="#87f54b"/><stop offset=".333" stop-color="#79f463"/><stop offset=".351" stop-color="#57f0da"/><stop offset=".357" stop-color="#51eaee"/><stop offset=".369" stop-color="#4bbdfa"/><stop offset=".392" stop-color="#388afb"/><stop offset=".422" stop-color="#214efa"/><stop offset=".439" stop-color="#1736f7"/><stop offset=".994" stop-color="#1633f7"/></linearGradient><linearGradient id="gb82" x2="0" y2="1"><stop offset=".003" stop-color="#860004"/><stop offset=".05" stop-color="#aa0002"/><stop offset=".133" stop-color="#f10406"/><stop offset=".168" stop-color="#fc140f"/><stop offset=".203" stop-color="#ff5c17"/><stop offset=".251" stop-color="#ffbc0a"/><stop offset=".274" stop-color="#fbe915"/><stop offset=".327" stop-color="#9bf537"/><stop offset=".339" stop-color="#89f549"/><stop offset=".351" stop-color="#6cf383"/><stop offset=".363" stop-color="#58f0d7"/><stop offset=".369" stop-color="#52ecec"/><stop offset=".374" stop-color="#4bdbfa"/><stop offset=".38" stop-color="#4bbdfa"/><stop offset=".398" stop-color="#398cfa"/><stop offset=".427" stop-color="#214ffa"/><stop offset=".439" stop-color="#1839f8"/><stop offset=".994" stop-color="#1633f7"/></linearGradient><linearGradient id="gb83" x2="0" y2="1"><stop offset=".003" stop-color="#aa0002"/><stop offset=".139" stop-color="#f20406"/><stop offset=".186" stop-color="#fb110e"/><stop offset=".221" stop-color="#ff5a17"/><stop offset=".268" stop-color="#ffc20b"/><stop offset=".286" stop-color="#fee914"/><stop offset=".339" stop-color="#97f539"/><stop offset=".345" stop-color="#8ff540"/><stop offset=".357" stop-color="#6df380"/><stop offset=".363" stop-color="#5ef0b5"/><stop offset=".369" stop-color="#57f0db"/><stop offset=".374" stop-color="#51eaee"/><stop offset=".386" stop-color="#4bbafa"/><stop offset=".41" stop-color="#3683fb"/><stop offset=".439" stop-color="#1b3ef8"/><stop offset=".475" stop-color="#1633f7"/><stop offset=".994" stop-color="#1633f7"/></linearGradient><linearGradient id="gb84" x2="0" y2="1"><stop offset=".003" stop-color="#cf0101"/><stop offset=".127" stop-color="#f20507"/><stop offset=".203" stop-color="#fa0f0d"/><stop offset=".221" stop-color="#fe2e16"/><stop offset=".286" stop-color="#ffc80c"/><stop offset=".304" stop-color="#f8eb16"/><stop offset=".345" stop-color="#9bf536"/><stop offset=".351" stop-color="#93f53c"/><stop offset=".357" stop-color="#83f551"/><stop offset=".363" stop-color="#6ff37b"/><stop offset=".369" stop-color="#5df0ba"/><stop offset=".374" stop-color="#56f0de"/><stop offset=".38" stop-color="#50e8f1"/><stop offset=".398" stop-color="#44a7fa"/><stop offset=".445" stop-color="#1a3cf8"/><stop offset=".498" stop-color="#1633f7"/><stop offset=".994" stop-color="#1633f7"/></linearGradient><linearGradient id="gb85" x2="0" y2="1"><stop offset=".003" stop-color="#f10305"/><stop offset=".227" stop-color="#fa100e"/><stop offset=".262" stop-color="#ff6516"/><stop offset=".298" stop-color="#ffbf0b"/><stop offset=".315" stop-color="#fbea15"/><stop offset=".357" stop-color="#98f539"/><stop offset=".363" stop-color="#8af546"/><stop offset=".369" stop-color="#71f473"/><stop offset=".374" stop-color="#5bf0c4"/><stop offset=".386" stop-color="#4fe6f3"/><stop offset=".398" stop-color="#4ab5fa"/><stop offset=".416" stop-color="#3889fb"/><stop offset=".451" stop-color="#193af8"/><stop offset=".575" stop-color="#1633f7"/><stop offset=".994" stop-color="#1633f7"/></linearGradient><linearGradient id="gb86" x2="0" y2="1"><stop offset=".003" stop-color="#f40809"/><stop offset=".245" stop-color="#fc1410"/><stop offset=".274" stop-color="#ff6416"/><stop offset=".31" stop-color="#ffc40b"/><stop offset=".321" stop-color="#ffe513"/><stop offset=".345" stop-color="#c5f426"/><stop offset=".369" stop-color="#8ef541"/><stop offset=".374" stop-color="#71f474"/><stop offset=".38" stop-color="#59f0cd"/><stop offset=".392" stop-color="#4de5f5"/><stop offset=".404" stop-color="#49b3fa"/><stop offset=".422" stop-color="#3887fb"/><stop offset=".457" stop-color="#193af8"/><stop offset=".581" stop-color="#1633f7"/><stop offset=".994" stop-color="#1633f7"/></linearGradient><linearGradient id="gb87" x2="0" y2="1"><stop offset=".003" stop-color="#f50909"/><stop offset=".251" stop-color="#fc1510"/><stop offset=".28" stop-color="#ff6516"/><stop offset=".31" stop-color="#ffb50a"/><stop offset=".327" stop-color="#ffe814"/><stop offset=".369" stop-color="#98f539"/><stop offset=".374" stop-color="#8af547"/><stop offset=".38" stop-color="#6df380"/><stop offset=".386" stop-color="#59f0d1"/><stop offset=".398" stop-color="#4ce3f8"/><stop offset=".404" stop-color="#4bc3fa"/><stop offset=".422" stop-color="#3a8ffa"/><stop offset=".451" stop-color="#2253fb"/><stop offset=".463" stop-color="#1939f8"/><stop offset=".994" stop-color="#1633f7"/></linearGradient><linearGradient id="gb88" x2="0" y2="1"><stop offset=".003" stop-color="#f6090a"/><stop offset=".256" stop-color="#fc1710"/><stop offset=".286" stop-color="#ff6715"/><stop offset=".315" stop-color="#ffb70a"/><stop offset=".333" stop-color="#fee814"/><stop offset=".369" stop-color="#a0f532"/><stop offset=".38" stop-color="#85f54d"/><stop offset=".392" stop-color="#58f0d4"/><stop offset=".404" stop-color="#4be1fa"/><stop offset=".41" stop-color="#4bc0fa"/><stop offset=".427" stop-color="#3a8dfa"/><stop offset=".457" stop-color="#2251fb"/><stop offset=".469" stop-color="#1939f8"/><stop offset=".994" stop-color="#1633f7"/></linearGradient><linearGradient id="gb89" x2="0" y2="1"><stop offset=".003" stop-color="#f60a0a"/><stop offset=".251" stop-color="#fd1c11"/><stop offset=".268" stop-color="#fd2614"/><stop offset=".304" stop-color="#ff890f"/><stop offset=".327" stop-color="#ffca0d"/><stop offset=".339" stop-color="#fce915"/><stop offset=".38" stop-color="#95f53b"/><stop offset=".386" stop-color="#81f554"/><stop offset=".392" stop-color="#65f299"/><stop offset=".398" stop-color="#58f0d7"/><stop offset=".404" stop-color="#52ecec"/><stop offset=".41" stop-color="#4bdbfa"/><stop offset=".416" stop-color="#4bbdfa"/><stop offset=".433" stop-color="#398cfa"/><stop offset=".463" stop-color="#214ffa"/><stop offset=".475" stop-color="#1839f8"/><stop offset=".994" stop-color="#1633f7"/></linearGradient><linearGradient id="gb90" x2="0" y2="1"><stop offset=".003" stop-color="#eb0204"/><stop offset=".245" stop-color="#fd1911"/><stop offset=".262" stop-color="#fd2313"/><stop offset=".292" stop-color="#ff6b15"/><stop offset=".327" stop-color="#ffc30b"/><stop offset=".345" stop-color="#faea15"/><stop offset=".386" stop-color="#93f53c"/><stop offset=".392" stop-color="#7bf55e"/><stop offset=".398" stop-color="#61f1ac"/><stop offset=".404" stop-color="#57f0dc"/><stop offset=".41" stop-color="#50e9ef"/><stop offset=".422" stop-color="#4bb9fa"/><stop offset=".445" stop-color="#3682fb"/><stop offset=".475" stop-color="#1a3df8"/><stop offset=".516" stop-color="#1633f7"/><stop offset=".994" stop-color="#1633f7"/></linearGradient><linearGradient id="gb91" x2="0" y2="1"><stop offset=".003" stop-color="#c50000"/><stop offset=".121" stop-color="#f20507"/><stop offset=".251" stop-color="#fd1c11"/><stop offset=".268" stop-color="#ff3918"/><stop offset=".327" stop-color="#ffbc0b"/><stop offset=".345" stop-color="#ffe613"/><stop offset=".363" stop-color="#daf31f"/><stop offset=".386" stop-color="#9bf536"/><stop offset=".392" stop-color="#92f53e"/><stop offset=".398" stop-color="#76f469"/><stop offset=".404" stop-color="#5cf0bf"/><stop offset=".41" stop-color="#56f0e1"/><stop offset=".416" stop-color="#4fe7f2"/><stop offset=".433" stop-color="#43a5fa"/><stop offset=".481" stop-color="#193bf8"/><stop offset=".551" stop-color="#1633f7"/><stop offset=".994" stop-color="#1633f7"/></linearGradient><linearGradient id="gb92" x2="0" y2="1"><stop offset=".003" stop-color="#c90001"/><stop offset=".109" stop-color="#f20507"/><stop offset=".233" stop-color="#fd1a11"/><stop offset=".262" stop-color="#fe2b15"/><stop offset=".315" stop-color="#ff9c0b"/><stop offset=".351" stop-color="#fee814"/><stop offset=".374" stop-color="#c2f527"/><stop offset=".392" stop-color="#97f539"/><stop offset=".398" stop-color="#87f54b"/><stop offset=".404" stop-color="#6df382"/><stop offset=".41" stop-color="#59f0cf"/><stop offset=".416" stop-color="#55f0e7"/><stop offset=".422" stop-color="#4de3f7"/><stop offset=".433" stop-color="#48b1fa"/><stop offset=".451" stop-color="#3787fb"/><stop offset=".486" stop-color="#1939f8"/><stop offset=".994" stop-color="#1633f7"/></linearGradient><linearGradient id="gb93" x2="0" y2="1"><stop offset=".003" stop-color="#f10406"/><stop offset=".186" stop-color="#fd1a11"/><stop offset=".274" stop-color="#ff3818"/><stop offset=".333" stop-color="#ffb80a"/><stop offset=".357" stop-color="#fbe915"/><stop offset=".392" stop-color="#9bf536"/><stop offset=".398" stop-color="#91f53f"/><stop offset=".404" stop-color="#79f463"/><stop offset=".416" stop-color="#58f0d7"/><stop offset=".422" stop-color="#52ecec"/><stop offset=".427" stop-color="#4bdbfa"/><stop offset=".433" stop-color="#4bbdfa"/><stop offset=".451" stop-color="#398cfa"/><stop offset=".481" stop-color="#214ffa"/><stop offset=".492" stop-color="#1839f8"/><stop offset=".994" stop-color="#1633f7"/></linearGradient><linearGradient id="gb94" x2="0" y2="1"><stop offset=".003" stop-color="#fa100d"/><stop offset=".156" stop-color="#fe2a15"/><stop offset=".286" stop-color="#ff4918"/><stop offset=".345" stop-color="#ffc90c"/><stop offset=".363" stop-color="#f9ea16"/><stop offset=".398" stop-color="#94f53c"/><stop offset=".404" stop-color="#82f552"/><stop offset=".41" stop-color="#6ef37d"/><stop offset=".416" stop-color="#5cf0bd"/><stop offset=".422" stop-color="#56f0df"/><stop offset=".427" stop-color="#4fe7f1"/><stop offset=".445" stop-color="#44a6fa"/><stop offset=".492" stop-color="#1a3bf8"/><stop offset=".563" stop-color="#1633f7"/><stop offset=".994" stop-color="#1633f7"/></linearGradient><linearGradient id="gb95" x2="0" y2="1"><stop offset=".003" stop-color="#fe3317"/><stop offset=".304" stop-color="#ff6a15"/><stop offset=".345" stop-color="#ffc30b"/><stop offset=".363" stop-color="#fde915"/><stop offset=".38" stop-color="#ccf424"/><stop offset=".398" stop-color="#98f538"/><stop offset=".404" stop-color="#8af547"/><stop offset=".41" stop-color="#77f467"/><stop offset=".422" stop-color="#58f0d3"/><stop offset=".433" stop-color="#4ce2f9"/><stop offset=".439" stop-color="#4bc1fa"/><stop offset=".463" stop-color="#3785fb"/><stop offset=".498" stop-color="#1939f8"/><stop offset=".994" stop-color="#1633f7"/></linearGradient><linearGradient id="gb96" x2="0" y2="1"><stop offset=".003" stop-color="#ff5e16"/><stop offset=".315" stop-color="#ff890f"/><stop offset=".345" stop-color="#ffc30b"/><stop offset=".363" stop-color="#ffe814"/><stop offset=".374" stop-color="#e8f01b"/><stop offset=".398" stop-color="#9df535"/><stop offset=".404" stop-color="#92f53e"/><stop offset=".41" stop-color="#7ef559"/><stop offset=".416" stop-color="#6cf385"/><stop offset=".422" stop-color="#5bf0c3"/><stop offset=".427" stop-color="#56f0e1"/><stop offset=".433" stop-color="#4fe7f2"/><stop offset=".451" stop-color="#43a5fa"/><stop offset=".498" stop-color="#193bf8"/><stop offset=".569" stop-color="#1633f7"/><stop offset=".994" stop-color="#1633f7"/></linearGradient><linearGradient id="gb97" x2="0" y2="1"><stop offset=".003" stop-color="#ff890f"/><stop offset=".327" stop-color="#ffa708"/><stop offset=".369" stop-color="#faea15"/><stop offset=".386" stop-color="#c8f425"/><stop offset=".404" stop-color="#96f53a"/><stop offset=".41" stop-color="#86f54c"/><stop offset=".416" stop-color="#73f46e"/><stop offset=".422" stop-color="#61f1a9"/><stop offset=".427" stop-color="#58f0d7"/><stop offset=".433" stop-color="#52ecec"/><stop offset=".439" stop-color="#4bdbfa"/><stop offset=".445" stop-color="#4bbdfa"/><stop offset=".463" stop-color="#398cfa"/><stop offset=".492" stop-color="#214ffa"/><stop offset=".504" stop-color="#1839f8"/><stop offset=".994" stop-color="#1633f7"/></linearGradient><linearGradient id="gb98" x2="0" y2="1"><stop offset=".003" stop-color="#ffb209"/><stop offset=".339" stop-color="#ffcc0d"/><stop offset=".363" stop-color="#fbe915"/><stop offset=".374" stop-color="#ecef1a"/><stop offset=".404" stop-color="#9af537"/><stop offset=".41" stop-color="#8ef541"/><stop offset=".416" stop-color="#7af560"/><stop offset=".422" stop-color="#68f290"/><stop offset=".427" stop-color="#59f0ce"/><stop offset=".439" stop-color="#4de4f6"/><stop offset=".445" stop-color="#4bc5fa"/><stop offset=".469" stop-color="#388afb"/><stop offset=".504" stop-color="#1a3df8"/><stop offset=".545" stop-color="#1633f7"/><stop offset=".994" stop-color="#1633f7"/></linearGradient><linearGradient id="gb99" x2="0" y2="1"><stop offset=".003" stop-color="#ffdf12"/><stop offset=".357" stop-color="#f7eb16"/><stop offset=".374" stop-color="#e9f01b"/><stop offset=".404" stop-color="#9cf535"/><stop offset=".41" stop-color="#93f53d"/><stop offset=".416" stop-color="#82f552"/><stop offset=".422" stop-color="#6ff379"/><stop offset=".427" stop-color="#5ef0b6"/><stop offset=".433" stop-color="#57f0dc"/><stop offset=".439" stop-color="#50e9ef"/><stop offset=".451" stop-color="#4bbbfa"/><stop offset=".475" stop-color="#3887fb"/><stop offset=".51" stop-color="#193bf8"/><stop offset=".581" stop-color="#1633f7"/><stop offset=".994" stop-color="#1633f7"/></linearGradient><linearGradient id="gb100" x2="0" y2="1"><stop offset=".003" stop-color="#e1f21d"/><stop offset=".374" stop-color="#d5f321"/><stop offset=".41" stop-color="#93f53d"/><stop offset=".416" stop-color="#86f54c"/><stop offset=".422" stop-color="#76f469"/><stop offset=".433" stop-color="#59f0cd"/><stop offset=".445" stop-color="#4de5f5"/><stop offset=".451" stop-color="#4bc6fa"/><stop offset=".481" stop-color="#3786fb"/><stop offset=".516" stop-color="#193af8"/><stop offset=".64" stop-color="#1633f7"/><stop offset=".994" stop-color="#1633f7"/></linearGradient><linearGradient id="gb101" x2="0" y2="1"><stop offset=".003" stop-color="#adf52e"/><stop offset=".392" stop-color="#a0f532"/><stop offset=".416" stop-color="#85f54e"/><stop offset=".427" stop-color="#6df381"/><stop offset=".439" stop-color="#59f0d0"/><stop offset=".451" stop-color="#4ce3f7"/><stop offset=".457" stop-color="#4bc4fa"/><stop offset=".481" stop-color="#398cfa"/><stop offset=".498" stop-color="#2e6ffc"/><stop offset=".522" stop-color="#1939f8"/><stop offset=".994" stop-color="#1633f7"/></linearGradient><linearGradient id="gb102" x2="0" y2="1"><stop offset=".003" stop-color="#91f53f"/><stop offset=".41" stop-color="#8af547"/><stop offset=".422" stop-color="#7af561"/><stop offset=".439" stop-color="#5ef0b8"/><stop offset=".451" stop-color="#52ecec"/><stop offset=".457" stop-color="#4bdbfa"/><stop offset=".463" stop-color="#4bbffa"/><stop offset=".486" stop-color="#398afa"/><stop offset=".51" stop-color="#265dfc"/><stop offset=".528" stop-color="#1839f8"/><stop offset=".994" stop-color="#1633f7"/></linearGradient><linearGradient id="gb103" x2="0" y2="1"><stop offset=".003" stop-color="#5af0cc"/><stop offset=".451" stop-color="#56f0df"/><stop offset=".51" stop-color="#4be1f9"/><stop offset=".54" stop-color="#42a2fa"/><stop offset=".563" stop-color="#357ffc"/><stop offset=".61" stop-color="#2251fb"/><stop offset=".84" stop-color="#1838f8"/><stop offset=".994" stop-color="#1734f7"/></linearGradient><linearGradient id="gb104" x2="0" y2="1"><stop offset=".003" stop-color="#132bf5"/><stop offset=".994" stop-color="#0c22f2"/></linearGradient><linearGradient id="gb105" x2="0" y2="1"><stop offset=".003" stop-color="#132df6"/><stop offset=".994" stop-color="#1531f6"/></linearGradient><linearGradient id="gb106" x2="0" y2="1"><stop offset=".003" stop-color="#265cfc"/><stop offset=".811" stop-color="#1839f8"/><stop offset=".994" stop-color="#1837f7"/></linearGradient><linearGradient id="gb107" x2="0" y2="1"><stop offset=".003" stop-color="#5df0b9"/><stop offset=".097" stop-color="#5af0cb"/><stop offset=".221" stop-color="#50e8f0"/><stop offset=".233" stop-color="#4bdefa"/><stop offset=".251" stop-color="#4bbcfa"/><stop offset=".315" stop-color="#3785fb"/><stop offset=".327" stop-color="#357ffc"/><stop offset=".357" stop-color="#193af8"/><stop offset=".481" stop-color="#1633f7"/><stop offset=".994" stop-color="#1633f7"/></linearGradient><linearGradient id="gb108" x2="0" y2="1"><stop offset=".003" stop-color="#75f46a"/><stop offset=".162" stop-color="#6ff37c"/><stop offset=".239" stop-color="#57f0d9"/><stop offset=".251" stop-color="#4ee6f3"/><stop offset=".262" stop-color="#4bc2fa"/><stop offset=".321" stop-color="#3887fb"/><stop offset=".339" stop-color="#3278fc"/><stop offset=".369" stop-color="#1839f8"/><stop offset=".994" stop-color="#1633f7"/></linearGradient><linearGradient id="gb109" x2="0" y2="1"><stop offset=".003" stop-color="#8ef541"/><stop offset=".198" stop-color="#83f551"/><stop offset=".227" stop-color="#6ff37b"/><stop offset=".256" stop-color="#5bf0c6"/><stop offset=".268" stop-color="#50e9ef"/><stop offset=".28" stop-color="#4bc1fa"/><stop offset=".327" stop-color="#398afa"/><stop offset=".345" stop-color="#347dfc"/><stop offset=".374" stop-color="#1939f8"/><stop offset=".994" stop-color="#1633f7"/></linearGradient><linearGradient id="gb110" x2="0" y2="1"><stop offset=".003" stop-color="#b4f52b"/><stop offset=".174" stop-color="#9ef534"/><stop offset=".227" stop-color="#85f54e"/><stop offset=".251" stop-color="#6ef37d"/><stop offset=".28" stop-color="#56f0e3"/><stop offset=".286" stop-color="#4ee5f4"/><stop offset=".292" stop-color="#4bc7fa"/><stop offset=".339" stop-color="#3888fb"/><stop offset=".351" stop-color="#3580fc"/><stop offset=".38" stop-color="#193af8"/><stop offset=".504" stop-color="#1633f7"/><stop offset=".994" stop-color="#1633f7"/></linearGradient><linearGradient id="gb111" x2="0" y2="1"><stop offset=".003" stop-color="#eaf01a"/><stop offset=".198" stop-color="#d2f322"/><stop offset=".239" stop-color="#96f53b"/><stop offset=".262" stop-color="#7af561"/><stop offset=".28" stop-color="#64f29e"/><stop offset=".298" stop-color="#54eee9"/><stop offset=".304" stop-color="#4be2f9"/><stop offset=".31" stop-color="#4bc3fa"/><stop offset=".345" stop-color="#398afa"/><stop offset=".363" stop-color="#3074fc"/><stop offset=".386" stop-color="#1a3bf8"/><stop offset=".457" stop-color="#1633f7"/><stop offset=".994" stop-color="#1633f7"/></linearGradient><linearGradient id="gb112" x2="0" y2="1"><stop offset=".003" stop-color="#ffd10e"/><stop offset=".168" stop-color="#f8ea16"/><stop offset=".215" stop-color="#eaf01a"/><stop offset=".256" stop-color="#98f538"/><stop offset=".28" stop-color="#77f467"/><stop offset=".31" stop-color="#54efe7"/><stop offset=".315" stop-color="#4ce3f8"/><stop offset=".321" stop-color="#4bc4fa"/><stop offset=".357" stop-color="#3887fb"/><stop offset=".374" stop-color="#2c6afc"/><stop offset=".398" stop-color="#1839f8"/><stop offset=".994" stop-color="#1633f7"/></linearGradient><linearGradient id="gb113" x2="0" y2="1"><stop offset=".003" stop-color="#ffa00a"/><stop offset=".174" stop-color="#ffbf0b"/><stop offset=".221" stop-color="#f8eb16"/><stop offset=".239" stop-color="#def21e"/><stop offset=".268" stop-color="#9bf536"/><stop offset=".286" stop-color="#80f555"/><stop offset=".304" stop-color="#66f298"/><stop offset=".315" stop-color="#58f0d5"/><stop offset=".327" stop-color="#4bdffa"/><stop offset=".333" stop-color="#4bc1fa"/><stop offset=".363" stop-color="#398afa"/><stop offset=".38" stop-color="#2e6ffc"/><stop offset=".404" stop-color="#1939f8"/><stop offset=".994" stop-color="#1633f7"/></linearGradient><linearGradient id="gb114" x2="0" y2="1"><stop offset=".003" stop-color="#ff5018"/><stop offset=".174" stop-color="#ff8310"/><stop offset=".215" stop-color="#ffc70c"/><stop offset=".239" stop-color="#faea15"/><stop offset=".262" stop-color="#c5f426"/><stop offset=".292" stop-color="#8bf545"/><stop offset=".31" stop-color="#6df380"/><stop offset=".327" stop-color="#57f0dc"/><stop offset=".333" stop-color="#50e9ef"/><stop offset=".345" stop-color="#4bbdfa"/><stop offset=".374" stop-color="#3786fb"/><stop offset=".398" stop-color="#2457fb"/><stop offset=".41" stop-color="#193bf8"/><stop offset=".481" stop-color="#1633f7"/><stop offset=".994" stop-color="#1633f7"/></linearGradient><linearGradient id="gb115" x2="0" y2="1"><stop offset=".003" stop-color="#f20507"/><stop offset=".115" stop-color="#fd1911"/><stop offset=".162" stop-color="#ff3918"/><stop offset=".233" stop-color="#ffc90c"/><stop offset=".251" stop-color="#fbe915"/><stop offset=".298" stop-color="#95f53b"/><stop offset=".315" stop-color="#75f46a"/><stop offset=".333" stop-color="#59f0ce"/><stop offset=".345" stop-color="#4de4f6"/><stop offset=".351" stop-color="#4bc5fa"/><stop offset=".38" stop-color="#3888fb"/><stop offset=".41" stop-color="#204cfa"/><stop offset=".422" stop-color="#1838f8"/><stop offset=".994" stop-color="#1633f7"/></linearGradient><linearGradient id="gb116" x2="0" y2="1"><stop offset=".003" stop-color="#860004"/><stop offset=".032" stop-color="#940003"/><stop offset=".133" stop-color="#f10406"/><stop offset=".168" stop-color="#fc1810"/><stop offset=".198" stop-color="#ff5a17"/><stop offset=".239" stop-color="#ffb60a"/><stop offset=".262" stop-color="#fbe915"/><stop offset=".31" stop-color="#95f53b"/><stop offset=".327" stop-color="#73f46e"/><stop offset=".345" stop-color="#58f0d7"/><stop offset=".351" stop-color="#52ecec"/><stop offset=".357" stop-color="#4bdbfa"/><stop offset=".363" stop-color="#4bbffa"/><stop offset=".386" stop-color="#398afa"/><stop offset=".41" stop-color="#265dfc"/><stop offset=".427" stop-color="#1839f8"/><stop offset=".994" stop-color="#1633f7"/></linearGradient><linearGradient id="gb117" x2="0" y2="1"><stop offset=".003" stop-color="#a20002"/><stop offset=".038" stop-color="#b10001"/><stop offset=".133" stop-color="#f10306"/><stop offset=".18" stop-color="#fc1510"/><stop offset=".215" stop-color="#ff6616"/><stop offset=".251" stop-color="#ffb50a"/><stop offset=".274" stop-color="#fbe915"/><stop offset=".315" stop-color="#9af537"/><stop offset=".327" stop-color="#85f54e"/><stop offset=".339" stop-color="#6ef37d"/><stop offset=".351" stop-color="#5af0c9"/><stop offset=".363" stop-color="#4ee6f3"/><stop offset=".374" stop-color="#4ab6fa"/><stop offset=".398" stop-color="#3683fb"/><stop offset=".433" stop-color="#1838f8"/><stop offset=".994" stop-color="#1633f7"/></linearGradient><linearGradient id="gb118" x2="0" y2="1"><stop offset=".003" stop-color="#bf0000"/><stop offset=".074" stop-color="#db0103"/><stop offset=".133" stop-color="#f20407"/><stop offset=".192" stop-color="#fc130f"/><stop offset=".221" stop-color="#ff5617"/><stop offset=".268" stop-color="#ffc30b"/><stop offset=".286" stop-color="#fce915"/><stop offset=".327" stop-color="#96f53a"/><stop offset=".345" stop-color="#74f46c"/><stop offset=".363" stop-color="#58f0d5"/><stop offset=".374" stop-color="#4be0fa"/><stop offset=".38" stop-color="#4bbffa"/><stop offset=".398" stop-color="#398bfa"/><stop offset=".433" stop-color="#1a3df8"/><stop offset=".475" stop-color="#1633f7"/><stop offset=".994" stop-color="#1633f7"/></linearGradient><linearGradient id="gb119" x2="0" y2="1"><stop offset=".003" stop-color="#db0103"/><stop offset=".121" stop-color="#f30607"/><stop offset=".203" stop-color="#fc110f"/><stop offset=".239" stop-color="#ff6216"/><stop offset=".28" stop-color="#ffc20b"/><stop offset=".298" stop-color="#fce915"/><stop offset=".333" stop-color="#9cf535"/><stop offset=".345" stop-color="#86f54c"/><stop offset=".357" stop-color="#6ff379"/><stop offset=".374" stop-color="#56f0df"/><stop offset=".38" stop-color="#4fe7f1"/><stop offset=".398" stop-color="#409efa"/><stop offset=".439" stop-color="#1a3bf8"/><stop offset=".51" stop-color="#1633f7"/><stop offset=".994" stop-color="#1633f7"/></linearGradient><linearGradient id="gb120" x2="0" y2="1"><stop offset=".003" stop-color="#f10406"/><stop offset=".215" stop-color="#fb110e"/><stop offset=".251" stop-color="#ff6016"/><stop offset=".292" stop-color="#ffc20b"/><stop offset=".31" stop-color="#fce915"/><stop offset=".345" stop-color="#98f538"/><stop offset=".363" stop-color="#76f469"/><stop offset=".38" stop-color="#58f0d2"/><stop offset=".392" stop-color="#4ce2f9"/><stop offset=".404" stop-color="#43a5fa"/><stop offset=".416" stop-color="#3580fc"/><stop offset=".445" stop-color="#193af8"/><stop offset=".569" stop-color="#1633f7"/><stop offset=".994" stop-color="#1633f7"/></linearGradient><linearGradient id="gb121" x2="0" y2="1"><stop offset=".003" stop-color="#f70b0b"/><stop offset=".227" stop-color="#fc1810"/><stop offset=".256" stop-color="#ff5b17"/><stop offset=".298" stop-color="#ffba0a"/><stop offset=".321" stop-color="#f9ea16"/><stop offset=".351" stop-color="#9df534"/><stop offset=".369" stop-color="#7af561"/><stop offset=".38" stop-color="#63f1a1"/><stop offset=".386" stop-color="#5af0cc"/><stop offset=".398" stop-color="#4ee5f4"/><stop offset=".416" stop-color="#3a8dfa"/><stop offset=".451" stop-color="#193af8"/><stop offset=".575" stop-color="#1633f7"/><stop offset=".994" stop-color="#1633f7"/></linearGradient><linearGradient id="gb122" x2="0" y2="1"><stop offset=".003" stop-color="#fc120f"/><stop offset=".239" stop-color="#fe3116"/><stop offset=".31" stop-color="#ffc70c"/><stop offset=".327" stop-color="#fbe915"/><stop offset=".363" stop-color="#96f53a"/><stop offset=".374" stop-color="#7cf55c"/><stop offset=".386" stop-color="#64f29e"/><stop offset=".392" stop-color="#5af0cc"/><stop offset=".404" stop-color="#4ee5f4"/><stop offset=".422" stop-color="#3a8dfa"/><stop offset=".457" stop-color="#193af8"/><stop offset=".581" stop-color="#1633f7"/><stop offset=".994" stop-color="#1633f7"/></linearGradient><linearGradient id="gb123" x2="0" y2="1"><stop offset=".003" stop-color="#fe2b15"/><stop offset=".251" stop-color="#ff4b18"/><stop offset=".31" stop-color="#ffbc0a"/><stop offset=".333" stop-color="#fde915"/><stop offset=".345" stop-color="#e4f21c"/><stop offset=".369" stop-color="#9af537"/><stop offset=".38" stop-color="#7ff556"/><stop offset=".386" stop-color="#72f471"/><stop offset=".398" stop-color="#5af0cc"/><stop offset=".41" stop-color="#4ee5f4"/><stop offset=".427" stop-color="#3a8dfa"/><stop offset=".463" stop-color="#193af8"/><stop offset=".587" stop-color="#1633f7"/><stop offset=".994" stop-color="#1633f7"/></linearGradient><linearGradient id="gb124" x2="0" y2="1"><stop offset=".003" stop-color="#ff4518"/><stop offset=".262" stop-color="#ff6416"/><stop offset=".315" stop-color="#ffbf0b"/><stop offset=".339" stop-color="#fee914"/><stop offset=".351" stop-color="#e7f11b"/><stop offset=".374" stop-color="#9cf536"/><stop offset=".386" stop-color="#81f554"/><stop offset=".392" stop-color="#73f46e"/><stop offset=".404" stop-color="#5af0cc"/><stop offset=".416" stop-color="#4ee5f4"/><stop offset=".433" stop-color="#3a8dfa"/><stop offset=".469" stop-color="#193af8"/><stop offset=".593" stop-color="#1633f7"/><stop offset=".994" stop-color="#1633f7"/></linearGradient><linearGradient id="gb125" x2="0" y2="1"><stop offset=".003" stop-color="#ff6116"/><stop offset=".274" stop-color="#ff7b11"/><stop offset=".321" stop-color="#ffc50c"/><stop offset=".345" stop-color="#fde915"/><stop offset=".357" stop-color="#e7f11b"/><stop offset=".38" stop-color="#9cf536"/><stop offset=".392" stop-color="#81f554"/><stop offset=".398" stop-color="#73f46e"/><stop offset=".41" stop-color="#5af0cc"/><stop offset=".422" stop-color="#4ee5f4"/><stop offset=".439" stop-color="#3a8dfa"/><stop offset=".475" stop-color="#193af8"/><stop offset=".598" stop-color="#1633f7"/><stop offset=".994" stop-color="#1633f7"/></linearGradient><linearGradient id="gb126" x2="0" y2="1"><stop offset=".003" stop-color="#ff7b11"/><stop offset=".292" stop-color="#ff9a0b"/><stop offset=".351" stop-color="#fce915"/><stop offset=".363" stop-color="#e7f11b"/><stop offset=".386" stop-color="#9cf536"/><stop offset=".398" stop-color="#81f554"/><stop offset=".404" stop-color="#73f46e"/><stop offset=".416" stop-color="#5af0cc"/><stop offset=".427" stop-color="#4ee5f4"/><stop offset=".445" stop-color="#3a8dfa"/><stop offset=".481" stop-color="#193af8"/><stop offset=".604" stop-color="#1633f7"/><stop offset=".994" stop-color="#1633f7"/></linearGradient><linearGradient id="gb127" x2="0" y2="1"><stop offset=".003" stop-color="#ff7513"/><stop offset=".298" stop-color="#ff990b"/><stop offset=".357" stop-color="#fbe915"/><stop offset=".369" stop-color="#e2f21d"/><stop offset=".392" stop-color="#99f538"/><stop offset=".404" stop-color="#7ff558"/><stop offset=".41" stop-color="#71f473"/><stop offset=".422" stop-color="#5af0cc"/><stop offset=".433" stop-color="#4ee5f4"/><stop offset=".451" stop-color="#3a8dfa"/><stop offset=".486" stop-color="#193af8"/><stop offset=".61" stop-color="#1633f7"/><stop offset=".994" stop-color="#1633f7"/></linearGradient><linearGradient id="gb128" x2="0" y2="1"><stop offset=".003" stop-color="#ff4c18"/><stop offset=".298" stop-color="#ff8010"/><stop offset=".339" stop-color="#ffc80c"/><stop offset=".357" stop-color="#ffe814"/><stop offset=".369" stop-color="#ebef1a"/><stop offset=".392" stop-color="#9ef533"/><stop offset=".41" stop-color="#7af560"/><stop offset=".422" stop-color="#63f1a0"/><stop offset=".427" stop-color="#5af0cc"/><stop offset=".439" stop-color="#4ee5f4"/><stop offset=".457" stop-color="#3a8dfa"/><stop offset=".492" stop-color="#193af8"/><stop offset=".616" stop-color="#1633f7"/><stop offset=".994" stop-color="#1633f7"/></linearGradient><linearGradient id="gb129" x2="0" y2="1"><stop offset=".003" stop-color="#ff4d18"/><stop offset=".304" stop-color="#ff8310"/><stop offset=".339" stop-color="#ffc00b"/><stop offset=".363" stop-color="#fde915"/><stop offset=".374" stop-color="#e5f21c"/><stop offset=".398" stop-color="#9bf537"/><stop offset=".41" stop-color="#83f551"/><stop offset=".422" stop-color="#6cf382"/><stop offset=".433" stop-color="#59f0ce"/><stop offset=".445" stop-color="#4de4f6"/><stop offset=".463" stop-color="#398cfa"/><stop offset=".498" stop-color="#193af8"/><stop offset=".622" stop-color="#1633f7"/><stop offset=".994" stop-color="#1633f7"/></linearGradient><linearGradient id="gb130" x2="0" y2="1"><stop offset=".003" stop-color="#ff7912"/><stop offset=".315" stop-color="#ffa10a"/><stop offset=".369" stop-color="#fbea15"/><stop offset=".38" stop-color="#e1f21d"/><stop offset=".404" stop-color="#98f538"/><stop offset=".422" stop-color="#75f46a"/><stop offset=".439" stop-color="#58f0d3"/><stop offset=".451" stop-color="#4ce2f9"/><stop offset=".463" stop-color="#41a1fa"/><stop offset=".475" stop-color="#337bfc"/><stop offset=".504" stop-color="#1939f8"/><stop offset=".994" stop-color="#1633f7"/></linearGradient><linearGradient id="gb131" x2="0" y2="1"><stop offset=".003" stop-color="#ffa209"/><stop offset=".327" stop-color="#ffc00b"/><stop offset=".369" stop-color="#fde915"/><stop offset=".38" stop-color="#efee19"/><stop offset=".41" stop-color="#96f53a"/><stop offset=".427" stop-color="#73f46e"/><stop offset=".445" stop-color="#58f0d7"/><stop offset=".451" stop-color="#52ecec"/><stop offset=".457" stop-color="#4bdbfa"/><stop offset=".469" stop-color="#3f9bfa"/><stop offset=".504" stop-color="#1b40f9"/><stop offset=".54" stop-color="#1633f7"/><stop offset=".994" stop-color="#1633f7"/></linearGradient><linearGradient id="gb132" x2="0" y2="1"><stop offset=".003" stop-color="#ffc10b"/><stop offset=".339" stop-color="#ffda10"/><stop offset=".38" stop-color="#efee19"/><stop offset=".416" stop-color="#95f53b"/><stop offset=".427" stop-color="#7df55b"/><stop offset=".439" stop-color="#65f299"/><stop offset=".445" stop-color="#5bf0c3"/><stop offset=".457" stop-color="#4fe7f1"/><stop offset=".475" stop-color="#3b92fa"/><stop offset=".51" stop-color="#1a3bf8"/><stop offset=".581" stop-color="#1633f7"/><stop offset=".994" stop-color="#1633f7"/></linearGradient><linearGradient id="gb133" x2="0" y2="1"><stop offset=".003" stop-color="#ffe112"/><stop offset=".363" stop-color="#f4ec17"/><stop offset=".38" stop-color="#edef19"/><stop offset=".416" stop-color="#9df535"/><stop offset=".427" stop-color="#89f548"/><stop offset=".439" stop-color="#6ff37b"/><stop offset=".451" stop-color="#59f0cf"/><stop offset=".457" stop-color="#55f0e7"/><stop offset=".463" stop-color="#4de3f7"/><stop offset=".481" stop-color="#398bfa"/><stop offset=".516" stop-color="#1939f8"/><stop offset=".994" stop-color="#1633f7"/></linearGradient><linearGradient id="gb134" x2="0" y2="1"><stop offset=".003" stop-color="#f1ed18"/><stop offset=".38" stop-color="#e7f11b"/><stop offset=".427" stop-color="#94f53c"/><stop offset=".439" stop-color="#7af561"/><stop offset=".457" stop-color="#58f0d7"/><stop offset=".463" stop-color="#52ecec"/><stop offset=".469" stop-color="#4bdbfa"/><stop offset=".481" stop-color="#3f9bfa"/><stop offset=".516" stop-color="#1b40f9"/><stop offset=".551" stop-color="#1633f7"/><stop offset=".994" stop-color="#1633f7"/></linearGradient><linearGradient id="gb135" x2="0" y2="1"><stop offset=".003" stop-color="#d0f422"/><stop offset=".386" stop-color="#c4f526"/><stop offset=".433" stop-color="#8ef541"/><stop offset=".445" stop-color="#77f467"/><stop offset=".463" stop-color="#58f0d2"/><stop offset=".475" stop-color="#4ce2f9"/><stop offset=".486" stop-color="#41a1fa"/><stop offset=".498" stop-color="#337cfc"/><stop offset=".528" stop-color="#1939f8"/><stop offset=".994" stop-color="#1633f7"/></linearGradient><linearGradient id="gb136" x2="0" y2="1"><stop offset=".003" stop-color="#aff52d"/><stop offset=".392" stop-color="#a4f531"/><stop offset=".439" stop-color="#89f548"/><stop offset=".451" stop-color="#74f46c"/><stop offset=".469" stop-color="#59f0cd"/><stop offset=".481" stop-color="#4de4f5"/><stop offset=".498" stop-color="#398cfa"/><stop offset=".534" stop-color="#193af8"/><stop offset=".657" stop-color="#1633f7"/><stop offset=".994" stop-color="#1633f7"/></linearGradient><linearGradient id="gb137" x2="0" y2="1"><stop offset=".003" stop-color="#96f53a"/><stop offset=".427" stop-color="#8cf544"/><stop offset=".445" stop-color="#83f550"/><stop offset=".457" stop-color="#72f471"/><stop offset=".481" stop-color="#56f0e0"/><stop offset=".486" stop-color="#4fe7f2"/><stop offset=".504" stop-color="#3b91fa"/><stop offset=".54" stop-color="#193bf8"/><stop offset=".61" stop-color="#1633f7"/><stop offset=".994" stop-color="#1633f7"/></linearGradient><linearGradient id="gb138" x2="0" y2="1"><stop offset=".003" stop-color="#5af0cc"/><stop offset=".481" stop-color="#56f0de"/><stop offset=".545" stop-color="#4be1f9"/><stop offset=".581" stop-color="#3f99fa"/><stop offset=".652" stop-color="#2251fb"/><stop offset=".858" stop-color="#1838f8"/><stop offset=".994" stop-color="#1734f7"/></linearGradient><linearGradient id="gb139" x2="0" y2="1"><stop offset=".003" stop-color="#0d23f2"/><stop offset=".994" stop-color="#0c21f2"/></linearGradient><linearGradient id="gb140" x2="0" y2="1"><stop offset=".003" stop-color="#265cfc"/><stop offset=".811" stop-color="#1839f8"/><stop offset=".994" stop-color="#1837f7"/></linearGradient><linearGradient id="gb141" x2="0" y2="1"><stop offset=".003" stop-color="#81f553"/><stop offset=".18" stop-color="#73f46e"/><stop offset=".292" stop-color="#59f0cf"/><stop offset=".298" stop-color="#55f0e7"/><stop offset=".304" stop-color="#4de3f7"/><stop offset=".31" stop-color="#4bc6fa"/><stop offset=".392" stop-color="#3888fb"/><stop offset=".416" stop-color="#3278fc"/><stop offset=".445" stop-color="#1838f8"/><stop offset=".994" stop-color="#1633f7"/></linearGradient><linearGradient id="gb142" x2="0" y2="1"><stop offset=".003" stop-color="#bcf529"/><stop offset=".127" stop-color="#a6f530"/><stop offset=".251" stop-color="#8cf544"/><stop offset=".286" stop-color="#6cf383"/><stop offset=".315" stop-color="#56f0e1"/><stop offset=".321" stop-color="#4fe7f3"/><stop offset=".327" stop-color="#4bcbfa"/><stop offset=".398" stop-color="#388afb"/><stop offset=".422" stop-color="#347cfc"/><stop offset=".451" stop-color="#1939f8"/><stop offset=".994" stop-color="#1633f7"/></linearGradient><linearGradient id="gb143" x2="0" y2="1"><stop offset=".003" stop-color="#ffc70c"/><stop offset=".139" stop-color="#ffe313"/><stop offset=".198" stop-color="#d4f321"/><stop offset=".256" stop-color="#97f539"/><stop offset=".28" stop-color="#83f551"/><stop offset=".304" stop-color="#6df380"/><stop offset=".333" stop-color="#56f0e2"/><stop offset=".339" stop-color="#4ee6f4"/><stop offset=".345" stop-color="#4bc8fa"/><stop offset=".41" stop-color="#3888fb"/><stop offset=".427" stop-color="#347efc"/><stop offset=".457" stop-color="#193af8"/><stop offset=".581" stop-color="#1633f7"/><stop offset=".994" stop-color="#1633f7"/></linearGradient><linearGradient id="gb144" x2="0" y2="1"><stop offset=".003" stop-color="#ff5217"/><stop offset=".068" stop-color="#ff6016"/><stop offset=".15" stop-color="#ff8210"/><stop offset=".198" stop-color="#ffc90c"/><stop offset=".221" stop-color="#fbe915"/><stop offset=".28" stop-color="#95f53b"/><stop offset=".315" stop-color="#71f475"/><stop offset=".351" stop-color="#52ecec"/><stop offset=".357" stop-color="#4bdbfa"/><stop offset=".363" stop-color="#4bc3fa"/><stop offset=".416" stop-color="#3889fb"/><stop offset=".433" stop-color="#337bfc"/><stop offset=".463" stop-color="#1939f8"/><stop offset=".994" stop-color="#1633f7"/></linearGradient><linearGradient id="gb145" x2="0" y2="1"><stop offset=".003" stop-color="#f30708"/><stop offset=".109" stop-color="#fd1a11"/><stop offset=".15" stop-color="#ff3918"/><stop offset=".215" stop-color="#ffc00b"/><stop offset=".233" stop-color="#ffe714"/><stop offset=".28" stop-color="#a8f52f"/><stop offset=".315" stop-color="#7ef559"/><stop offset=".333" stop-color="#6cf384"/><stop offset=".363" stop-color="#52ecec"/><stop offset=".369" stop-color="#4bdbfa"/><stop offset=".374" stop-color="#4bc2fa"/><stop offset=".422" stop-color="#3888fb"/><stop offset=".439" stop-color="#3073fc"/><stop offset=".463" stop-color="#193bf8"/><stop offset=".534" stop-color="#1633f7"/><stop offset=".994" stop-color="#1633f7"/></linearGradient><linearGradient id="gb146" x2="0" y2="1"><stop offset=".003" stop-color="#910003"/><stop offset=".038" stop-color="#9a0003"/><stop offset=".133" stop-color="#f10406"/><stop offset=".162" stop-color="#fb110e"/><stop offset=".192" stop-color="#ff5717"/><stop offset=".233" stop-color="#ffbf0b"/><stop offset=".251" stop-color="#fce915"/><stop offset=".304" stop-color="#9bf537"/><stop offset=".333" stop-color="#79f462"/><stop offset=".357" stop-color="#61f1a9"/><stop offset=".374" stop-color="#52ecec"/><stop offset=".38" stop-color="#4bdbfa"/><stop offset=".386" stop-color="#4bc2fa"/><stop offset=".427" stop-color="#3787fb"/><stop offset=".445" stop-color="#2c6bfc"/><stop offset=".469" stop-color="#1839f8"/><stop offset=".994" stop-color="#1633f7"/></linearGradient><linearGradient id="gb147" x2="0" y2="1"><stop offset=".003" stop-color="#b20001"/><stop offset=".044" stop-color="#bc0000"/><stop offset=".139" stop-color="#f10406"/><stop offset=".186" stop-color="#fc140f"/><stop offset=".215" stop-color="#ff6116"/><stop offset=".251" stop-color="#ffbe0b"/><stop offset=".268" stop-color="#fbea15"/><stop offset=".315" stop-color="#9af537"/><stop offset=".351" stop-color="#71f473"/><stop offset=".386" stop-color="#50e8f1"/><stop offset=".398" stop-color="#4bbefa"/><stop offset=".433" stop-color="#3787fb"/><stop offset=".457" stop-color="#265bfc"/><stop offset=".475" stop-color="#1838f8"/><stop offset=".994" stop-color="#1633f7"/></linearGradient><linearGradient id="gb148" x2="0" y2="1"><stop offset=".003" stop-color="#d40102"/><stop offset=".068" stop-color="#e20103"/><stop offset=".139" stop-color="#f30607"/><stop offset=".203" stop-color="#fa0f0d"/><stop offset=".233" stop-color="#ff5a17"/><stop offset=".268" stop-color="#ffbd0b"/><stop offset=".286" stop-color="#f9ea16"/><stop offset=".327" stop-color="#99f538"/><stop offset=".357" stop-color="#76f469"/><stop offset=".386" stop-color="#59f0cd"/><stop offset=".398" stop-color="#4de5f5"/><stop offset=".404" stop-color="#4bc6fa"/><stop offset=".439" stop-color="#3787fb"/><stop offset=".463" stop-color="#2559fc"/><stop offset=".475" stop-color="#1a3cf8"/><stop offset=".528" stop-color="#1633f7"/><stop offset=".994" stop-color="#1633f7"/></linearGradient><linearGradient id="gb149" x2="0" y2="1"><stop offset=".003" stop-color="#f10306"/><stop offset=".227" stop-color="#fb100e"/><stop offset=".251" stop-color="#ff5217"/><stop offset=".286" stop-color="#ffbc0a"/><stop offset=".304" stop-color="#f8eb16"/><stop offset=".339" stop-color="#97f539"/><stop offset=".369" stop-color="#74f46c"/><stop offset=".404" stop-color="#53edea"/><stop offset=".41" stop-color="#4be1fa"/><stop offset=".416" stop-color="#4bc2fa"/><stop offset=".445" stop-color="#3787fb"/><stop offset=".481" stop-color="#193af8"/><stop offset=".604" stop-color="#1633f7"/><stop offset=".994" stop-color="#1633f7"/></linearGradient><linearGradient id="gb150" x2="0" y2="1"><stop offset=".003" stop-color="#fb100e"/><stop offset=".239" stop-color="#fd2413"/><stop offset=".251" stop-color="#ff3818"/><stop offset=".298" stop-color="#ffba0a"/><stop offset=".315" stop-color="#fce915"/><stop offset=".351" stop-color="#96f53a"/><stop offset=".38" stop-color="#72f470"/><stop offset=".416" stop-color="#50e8f0"/><stop offset=".427" stop-color="#4bbafa"/><stop offset=".451" stop-color="#3787fb"/><stop offset=".486" stop-color="#193af8"/><stop offset=".61" stop-color="#1633f7"/><stop offset=".994" stop-color="#1633f7"/></linearGradient><linearGradient id="gb151" x2="0" y2="1"><stop offset=".003" stop-color="#ff4c18"/><stop offset=".256" stop-color="#ff6715"/><stop offset=".304" stop-color="#ffbf0b"/><stop offset=".327" stop-color="#fbea15"/><stop offset=".363" stop-color="#96f53a"/><stop offset=".392" stop-color="#71f476"/><stop offset=".422" stop-color="#54efe8"/><stop offset=".427" stop-color="#4ce2f8"/><stop offset=".433" stop-color="#4bc2fa"/><stop offset=".457" stop-color="#3888fb"/><stop offset=".492" stop-color="#193af8"/><stop offset=".616" stop-color="#1633f7"/><stop offset=".994" stop-color="#1633f7"/></linearGradient><linearGradient id="gb152" x2="0" y2="1"><stop offset=".003" stop-color="#ff4f18"/><stop offset=".268" stop-color="#ff7e11"/><stop offset=".315" stop-color="#ffcc0d"/><stop offset=".339" stop-color="#f8eb16"/><stop offset=".369" stop-color="#9cf535"/><stop offset=".398" stop-color="#74f46d"/><stop offset=".427" stop-color="#56f0e1"/><stop offset=".433" stop-color="#4fe6f3"/><stop offset=".451" stop-color="#43a4fa"/><stop offset=".498" stop-color="#193af8"/><stop offset=".622" stop-color="#1633f7"/><stop offset=".994" stop-color="#1633f7"/></linearGradient><linearGradient id="gb153" x2="0" y2="1"><stop offset=".003" stop-color="#fc130f"/><stop offset=".127" stop-color="#fe3016"/><stop offset=".268" stop-color="#ff6016"/><stop offset=".321" stop-color="#ffc40b"/><stop offset=".339" stop-color="#ffe714"/><stop offset=".351" stop-color="#eaf01a"/><stop offset=".374" stop-color="#9ef534"/><stop offset=".404" stop-color="#75f46b"/><stop offset=".439" stop-color="#50e8f1"/><stop offset=".457" stop-color="#43a4fa"/><stop offset=".504" stop-color="#1939f8"/><stop offset=".994" stop-color="#1633f7"/></linearGradient><linearGradient id="gb154" x2="0" y2="1"><stop offset=".003" stop-color="#f00205"/><stop offset=".186" stop-color="#fd1a11"/><stop offset=".268" stop-color="#ff4219"/><stop offset=".327" stop-color="#ffbd0b"/><stop offset=".351" stop-color="#faea15"/><stop offset=".386" stop-color="#95f53c"/><stop offset=".41" stop-color="#76f469"/><stop offset=".445" stop-color="#51eaee"/><stop offset=".457" stop-color="#4bb8fa"/><stop offset=".475" stop-color="#3786fb"/><stop offset=".51" stop-color="#1939f8"/><stop offset=".994" stop-color="#1633f7"/></linearGradient><linearGradient id="gb155" x2="0" y2="1"><stop offset=".003" stop-color="#b20001"/><stop offset=".044" stop-color="#bb0001"/><stop offset=".144" stop-color="#f10306"/><stop offset=".256" stop-color="#fd1911"/><stop offset=".274" stop-color="#fe3217"/><stop offset=".339" stop-color="#ffc40c"/><stop offset=".357" stop-color="#fbe915"/><stop offset=".392" stop-color="#96f53a"/><stop offset=".422" stop-color="#70f379"/><stop offset=".451" stop-color="#52ecec"/><stop offset=".457" stop-color="#4bdbfa"/><stop offset=".469" stop-color="#43a5fa"/><stop offset=".481" stop-color="#3785fb"/><stop offset=".516" stop-color="#1839f8"/><stop offset=".994" stop-color="#1633f7"/></linearGradient><linearGradient id="gb156" x2="0" y2="1"><stop offset=".003" stop-color="#f20406"/><stop offset=".174" stop-color="#fc1911"/><stop offset=".28" stop-color="#ff4319"/><stop offset=".339" stop-color="#ffbc0a"/><stop offset=".363" stop-color="#faea15"/><stop offset=".398" stop-color="#97f539"/><stop offset=".427" stop-color="#71f475"/><stop offset=".457" stop-color="#53edea"/><stop offset=".463" stop-color="#4be1fa"/><stop offset=".475" stop-color="#44a6fa"/><stop offset=".486" stop-color="#3684fb"/><stop offset=".516" stop-color="#1b3ef8"/><stop offset=".551" stop-color="#1633f7"/><stop offset=".994" stop-color="#1633f7"/></linearGradient><linearGradient id="gb157" x2="0" y2="1"><stop offset=".003" stop-color="#fd2213"/><stop offset=".186" stop-color="#ff4b18"/><stop offset=".298" stop-color="#ff6a15"/><stop offset=".345" stop-color="#ffc30b"/><stop offset=".363" stop-color="#ffe714"/><stop offset=".374" stop-color="#ebef1a"/><stop offset=".404" stop-color="#98f538"/><stop offset=".433" stop-color="#72f472"/><stop offset=".463" stop-color="#54efe7"/><stop offset=".469" stop-color="#4ce3f8"/><stop offset=".486" stop-color="#3a8ffa"/><stop offset=".522" stop-color="#1a3cf8"/><stop offset=".575" stop-color="#1633f7"/><stop offset=".994" stop-color="#1633f7"/></linearGradient><linearGradient id="gb158" x2="0" y2="1"><stop offset=".003" stop-color="#ff6616"/><stop offset=".315" stop-color="#ff900d"/><stop offset=".357" stop-color="#ffd50f"/><stop offset=".374" stop-color="#f8eb16"/><stop offset=".41" stop-color="#9af537"/><stop offset=".439" stop-color="#73f46f"/><stop offset=".469" stop-color="#55f0e5"/><stop offset=".475" stop-color="#4de5f5"/><stop offset=".492" stop-color="#3a8efa"/><stop offset=".528" stop-color="#193af8"/><stop offset=".652" stop-color="#1633f7"/><stop offset=".994" stop-color="#1633f7"/></linearGradient><linearGradient id="gb159" x2="0" y2="1"><stop offset=".003" stop-color="#ff9e0a"/><stop offset=".333" stop-color="#ffb70a"/><stop offset=".374" stop-color="#fbea15"/><stop offset=".392" stop-color="#d7f320"/><stop offset=".416" stop-color="#9cf536"/><stop offset=".445" stop-color="#74f46c"/><stop offset=".475" stop-color="#56f0e3"/><stop offset=".481" stop-color="#4ee5f4"/><stop offset=".498" stop-color="#3a8dfa"/><stop offset=".534" stop-color="#193af8"/><stop offset=".657" stop-color="#1633f7"/><stop offset=".994" stop-color="#1633f7"/></linearGradient><linearGradient id="gb160" x2="0" y2="1"><stop offset=".003" stop-color="#ffcd0d"/><stop offset=".351" stop-color="#ffdf12"/><stop offset=".38" stop-color="#f8eb16"/><stop offset=".427" stop-color="#96f53a"/><stop offset=".451" stop-color="#76f468"/><stop offset=".481" stop-color="#56f0e3"/><stop offset=".486" stop-color="#4ee5f4"/><stop offset=".504" stop-color="#3a8dfa"/><stop offset=".54" stop-color="#193af8"/><stop offset=".663" stop-color="#1633f7"/><stop offset=".994" stop-color="#1633f7"/></linearGradient><linearGradient id="gb161" x2="0" y2="1"><stop offset=".003" stop-color="#ffce0d"/><stop offset=".374" stop-color="#faea16"/><stop offset=".392" stop-color="#ebef1a"/><stop offset=".433" stop-color="#99f538"/><stop offset=".457" stop-color="#77f466"/><stop offset=".475" stop-color="#5ff1b1"/><stop offset=".486" stop-color="#55f0e7"/><stop offset=".492" stop-color="#4de3f7"/><stop offset=".51" stop-color="#398bfa"/><stop offset=".545" stop-color="#1939f8"/><stop offset=".994" stop-color="#1633f7"/></linearGradient><linearGradient id="gb162" x2="0" y2="1"><stop offset=".003" stop-color="#ffa209"/><stop offset=".363" stop-color="#ffe012"/><stop offset=".392" stop-color="#f2ed18"/><stop offset=".439" stop-color="#9bf537"/><stop offset=".457" stop-color="#81f554"/><stop offset=".475" stop-color="#65f299"/><stop offset=".486" stop-color="#58f0d7"/><stop offset=".492" stop-color="#52ecec"/><stop offset=".498" stop-color="#4bdbfa"/><stop offset=".51" stop-color="#3f9bfa"/><stop offset=".545" stop-color="#1b40f9"/><stop offset=".581" stop-color="#1633f7"/><stop offset=".994" stop-color="#1633f7"/></linearGradient><linearGradient id="gb163" x2="0" y2="1"><stop offset=".003" stop-color="#ffcb0d"/><stop offset=".369" stop-color="#f9ea16"/><stop offset=".398" stop-color="#e8f11b"/><stop offset=".445" stop-color="#99f537"/><stop offset=".463" stop-color="#80f556"/><stop offset=".475" stop-color="#6bf385"/><stop offset=".486" stop-color="#5af0cc"/><stop offset=".498" stop-color="#4ee5f4"/><stop offset=".516" stop-color="#3a8dfa"/><stop offset=".551" stop-color="#193af8"/><stop offset=".675" stop-color="#1633f7"/><stop offset=".994" stop-color="#1633f7"/></linearGradient><linearGradient id="gb164" x2="0" y2="1"><stop offset=".003" stop-color="#f7eb16"/><stop offset=".392" stop-color="#eaf01a"/><stop offset=".457" stop-color="#93f53d"/><stop offset=".469" stop-color="#7ef559"/><stop offset=".475" stop-color="#73f46e"/><stop offset=".492" stop-color="#58f0d7"/><stop offset=".498" stop-color="#52ecec"/><stop offset=".504" stop-color="#4bdbfa"/><stop offset=".516" stop-color="#3f9bfa"/><stop offset=".551" stop-color="#1b40f9"/><stop offset=".587" stop-color="#1633f7"/><stop offset=".994" stop-color="#1633f7"/></linearGradient><linearGradient id="gb165" x2="0" y2="1"><stop offset=".003" stop-color="#def21e"/><stop offset=".398" stop-color="#cff423"/><stop offset=".469" stop-color="#8bf545"/><stop offset=".481" stop-color="#73f46e"/><stop offset=".498" stop-color="#57f0db"/><stop offset=".504" stop-color="#51eaee"/><stop offset=".51" stop-color="#4bd6fa"/><stop offset=".522" stop-color="#3c92fa"/><stop offset=".557" stop-color="#193af8"/><stop offset=".681" stop-color="#1633f7"/><stop offset=".994" stop-color="#1633f7"/></linearGradient><linearGradient id="gb166" x2="0" y2="1"><stop offset=".003" stop-color="#c0f527"/><stop offset=".404" stop-color="#b2f52c"/><stop offset=".475" stop-color="#8df542"/><stop offset=".486" stop-color="#73f46e"/><stop offset=".498" stop-color="#5cf0c0"/><stop offset=".51" stop-color="#50e8f1"/><stop offset=".516" stop-color="#4bd0fa"/><stop offset=".528" stop-color="#398bfa"/><stop offset=".563" stop-color="#1939f8"/><stop offset=".994" stop-color="#1633f7"/></linearGradient><linearGradient id="gb167" x2="0" y2="1"><stop offset=".003" stop-color="#a6f530"/><stop offset=".433" stop-color="#98f539"/><stop offset=".481" stop-color="#8ff540"/><stop offset=".492" stop-color="#73f46e"/><stop offset=".504" stop-color="#5af0c7"/><stop offset=".516" stop-color="#4fe6f3"/><stop offset=".522" stop-color="#4bcafa"/><stop offset=".534" stop-color="#3684fb"/><stop offset=".563" stop-color="#1a3cf8"/><stop offset=".616" stop-color="#1633f7"/><stop offset=".994" stop-color="#1633f7"/></linearGradient><linearGradient id="gb168" x2="0" y2="1"><stop offset=".003" stop-color="#9cf536"/><stop offset=".481" stop-color="#91f53f"/><stop offset=".486" stop-color="#89f549"/><stop offset=".498" stop-color="#6cf383"/><stop offset=".51" stop-color="#58f0d7"/><stop offset=".516" stop-color="#52ecec"/><stop offset=".522" stop-color="#4bdbfa"/><stop offset=".534" stop-color="#398afa"/><stop offset=".563" stop-color="#1b40f9"/><stop offset=".598" stop-color="#1633f7"/><stop offset=".994" stop-color="#1633f7"/></linearGradient><linearGradient id="gb169" x2="0" y2="1"><stop offset=".003" stop-color="#5af0cc"/><stop offset=".451" stop-color="#56f0df"/><stop offset=".51" stop-color="#4be1f9"/><stop offset=".528" stop-color="#44a8fa"/><stop offset=".545" stop-color="#347dfc"/><stop offset=".575" stop-color="#2251fb"/><stop offset=".828" stop-color="#1838f8"/><stop offset=".994" stop-color="#1734f7"/></linearGradient><linearGradient id="gb170" x2="0" y2="1"><stop offset=".003" stop-color="#142ef6"/><stop offset=".994" stop-color="#1531f6"/></linearGradient></defs><g clip-path="url(#cpb)"><rect x="25" y="225" width="5.3" height="169.6" fill="url(#gb1)"/><rect x="30" y="225" width="7.3" height="169.6" fill="url(#gb2)"/><rect x="37" y="225" width="1.3" height="169.6" fill="url(#gb3)"/><rect x="38" y="225" width="1.3" height="169.6" fill="url(#gb4)"/><rect x="39" y="225" width="1.3" height="169.6" fill="url(#gb5)"/><rect x="40" y="225" width="1.3" height="169.6" fill="url(#gb6)"/><rect x="41" y="225" width="1.3" height="169.6" fill="url(#gb7)"/><rect x="42" y="225" width="1.3" height="169.6" fill="url(#gb8)"/><rect x="43" y="225" width="1.3" height="169.6" fill="url(#gb9)"/><rect x="44" y="225" width="1.3" height="169.6" fill="url(#gb10)"/><rect x="45" y="225" width="1.3" height="169.6" fill="url(#gb11)"/><rect x="46" y="225" width="1.3" height="169.6" fill="url(#gb12)"/><rect x="47" y="225" width="1.3" height="169.6" fill="url(#gb13)"/><rect x="48" y="225" width="1.3" height="169.6" fill="url(#gb14)"/><rect x="49" y="225" width="1.3" height="169.6" fill="url(#gb15)"/><rect x="50" y="225" width="1.3" height="169.6" fill="url(#gb16)"/><rect x="51" y="225" width="1.3" height="169.6" fill="url(#gb17)"/><rect x="52" y="225" width="1.3" height="169.6" fill="url(#gb18)"/><rect x="53" y="225" width="1.3" height="169.6" fill="url(#gb19)"/><rect x="54" y="225" width="1.3" height="169.6" fill="url(#gb20)"/><rect x="55" y="225" width="1.3" height="169.6" fill="url(#gb21)"/><rect x="56" y="225" width="1.3" height="169.6" fill="url(#gb22)"/><rect x="57" y="225" width="1.3" height="169.6" fill="url(#gb23)"/><rect x="58" y="225" width="1.3" height="169.6" fill="url(#gb24)"/><rect x="59" y="225" width="1.3" height="169.6" fill="url(#gb25)"/><rect x="60" y="225" width="1.3" height="169.6" fill="url(#gb26)"/><rect x="61" y="225" width="1.3" height="169.6" fill="url(#gb27)"/><rect x="62" y="225" width="1.3" height="169.6" fill="url(#gb28)"/><rect x="63" y="225" width="1.3" height="169.6" fill="url(#gb29)"/><rect x="64" y="225" width="1.3" height="169.6" fill="url(#gb30)"/><rect x="65" y="225" width="1.3" height="169.6" fill="url(#gb31)"/><rect x="66" y="225" width="1.3" height="169.6" fill="url(#gb32)"/><rect x="67" y="225" width="1.3" height="169.6" fill="url(#gb33)"/><rect x="68" y="225" width="1.3" height="169.6" fill="url(#gb34)"/><rect x="69" y="225" width="2.3" height="169.6" fill="url(#gb35)"/><rect x="71" y="225" width="4.3" height="169.6" fill="url(#gb36)"/><rect x="75" y="225" width="4.3" height="169.6" fill="url(#gb37)"/><rect x="79" y="225" width="2.3" height="169.6" fill="url(#gb38)"/><rect x="81" y="225" width="7.3" height="169.6" fill="url(#gb39)"/><rect x="88" y="225" width="3.3" height="169.6" fill="url(#gb40)"/><rect x="91" y="225" width="1.3" height="169.6" fill="url(#gb41)"/><rect x="92" y="225" width="1.3" height="169.6" fill="url(#gb42)"/><rect x="93" y="225" width="1.3" height="169.6" fill="url(#gb43)"/><rect x="94" y="225" width="1.3" height="169.6" fill="url(#gb44)"/><rect x="95" y="225" width="1.3" height="169.6" fill="url(#gb45)"/><rect x="96" y="225" width="1.3" height="169.6" fill="url(#gb46)"/><rect x="97" y="225" width="1.3" height="169.6" fill="url(#gb47)"/><rect x="98" y="225" width="1.3" height="169.6" fill="url(#gb48)"/><rect x="99" y="225" width="1.3" height="169.6" fill="url(#gb49)"/><rect x="100" y="225" width="1.3" height="169.6" fill="url(#gb50)"/><rect x="101" y="225" width="1.3" height="169.6" fill="url(#gb51)"/><rect x="102" y="225" width="1.3" height="169.6" fill="url(#gb52)"/><rect x="103" y="225" width="1.3" height="169.6" fill="url(#gb53)"/><rect x="104" y="225" width="1.3" height="169.6" fill="url(#gb54)"/><rect x="105" y="225" width="1.3" height="169.6" fill="url(#gb55)"/><rect x="106" y="225" width="1.3" height="169.6" fill="url(#gb56)"/><rect x="107" y="225" width="1.3" height="169.6" fill="url(#gb57)"/><rect x="108" y="225" width="1.3" height="169.6" fill="url(#gb58)"/><rect x="109" y="225" width="1.3" height="169.6" fill="url(#gb59)"/><rect x="110" y="225" width="1.3" height="169.6" fill="url(#gb60)"/><rect x="111" y="225" width="1.3" height="169.6" fill="url(#gb61)"/><rect x="112" y="225" width="1.3" height="169.6" fill="url(#gb62)"/><rect x="113" y="225" width="1.3" height="169.6" fill="url(#gb63)"/><rect x="114" y="225" width="1.3" height="169.6" fill="url(#gb64)"/><rect x="115" y="225" width="1.3" height="169.6" fill="url(#gb65)"/><rect x="116" y="225" width="1.3" height="169.6" fill="url(#gb66)"/><rect x="117" y="225" width="1.3" height="169.6" fill="url(#gb67)"/><rect x="118" y="225" width="1.3" height="169.6" fill="url(#gb68)"/><rect x="119" y="225" width="1.3" height="169.6" fill="url(#gb69)"/><rect x="120" y="225" width="2.3" height="169.6" fill="url(#gb70)"/><rect x="122" y="225" width="4.3" height="169.6" fill="url(#gb71)"/><rect x="126" y="225" width="6.3" height="169.6" fill="#0b20f1"/><rect x="132" y="225" width="2.3" height="169.6" fill="url(#gb72)"/><rect x="134" y="225" width="2.3" height="169.6" fill="#0d23f2"/><rect x="136" y="225" width="5.3" height="169.6" fill="url(#gb73)"/><rect x="141" y="225" width="3.3" height="169.6" fill="url(#gb74)"/><rect x="144" y="225" width="1.3" height="169.6" fill="url(#gb75)"/><rect x="145" y="225" width="1.3" height="169.6" fill="url(#gb76)"/><rect x="146" y="225" width="1.3" height="169.6" fill="url(#gb77)"/><rect x="147" y="225" width="1.3" height="169.6" fill="url(#gb78)"/><rect x="148" y="225" width="1.3" height="169.6" fill="url(#gb79)"/><rect x="149" y="225" width="1.3" height="169.6" fill="url(#gb80)"/><rect x="150" y="225" width="1.3" height="169.6" fill="url(#gb81)"/><rect x="151" y="225" width="1.3" height="169.6" fill="url(#gb82)"/><rect x="152" y="225" width="1.3" height="169.6" fill="url(#gb83)"/><rect x="153" y="225" width="1.3" height="169.6" fill="url(#gb84)"/><rect x="154" y="225" width="1.3" height="169.6" fill="url(#gb85)"/><rect x="155" y="225" width="1.3" height="169.6" fill="url(#gb86)"/><rect x="156" y="225" width="1.3" height="169.6" fill="url(#gb87)"/><rect x="157" y="225" width="1.3" height="169.6" fill="url(#gb88)"/><rect x="158" y="225" width="1.3" height="169.6" fill="url(#gb89)"/><rect x="159" y="225" width="1.3" height="169.6" fill="url(#gb90)"/><rect x="160" y="225" width="1.3" height="169.6" fill="url(#gb91)"/><rect x="161" y="225" width="1.3" height="169.6" fill="url(#gb92)"/><rect x="162" y="225" width="1.3" height="169.6" fill="url(#gb93)"/><rect x="163" y="225" width="1.3" height="169.6" fill="url(#gb94)"/><rect x="164" y="225" width="1.3" height="169.6" fill="url(#gb95)"/><rect x="165" y="225" width="1.3" height="169.6" fill="url(#gb96)"/><rect x="166" y="225" width="1.3" height="169.6" fill="url(#gb97)"/><rect x="167" y="225" width="1.3" height="169.6" fill="url(#gb98)"/><rect x="168" y="225" width="1.3" height="169.6" fill="url(#gb99)"/><rect x="169" y="225" width="1.3" height="169.6" fill="url(#gb100)"/><rect x="170" y="225" width="1.3" height="169.6" fill="url(#gb101)"/><rect x="171" y="225" width="1.3" height="169.6" fill="url(#gb102)"/><rect x="172" y="225" width="2.3" height="169.6" fill="url(#gb103)"/><rect x="174" y="225" width="1.3" height="169.6" fill="#1633f7"/><rect x="175" y="225" width="3.3" height="169.6" fill="url(#gb104)"/><rect x="178" y="225" width="10.3" height="169.6" fill="url(#gb105)"/><rect x="188" y="225" width="1.3" height="169.6" fill="url(#gb106)"/><rect x="189" y="225" width="4.3" height="169.6" fill="#1531f6"/><rect x="193" y="225" width="1.3" height="169.6" fill="url(#gb107)"/><rect x="194" y="225" width="1.3" height="169.6" fill="url(#gb108)"/><rect x="195" y="225" width="1.3" height="169.6" fill="url(#gb109)"/><rect x="196" y="225" width="1.3" height="169.6" fill="url(#gb110)"/><rect x="197" y="225" width="1.3" height="169.6" fill="url(#gb111)"/><rect x="198" y="225" width="1.3" height="169.6" fill="url(#gb112)"/><rect x="199" y="225" width="1.3" height="169.6" fill="url(#gb113)"/><rect x="200" y="225" width="1.3" height="169.6" fill="url(#gb114)"/><rect x="201" y="225" width="1.3" height="169.6" fill="url(#gb115)"/><rect x="202" y="225" width="1.3" height="169.6" fill="url(#gb116)"/><rect x="203" y="225" width="1.3" height="169.6" fill="url(#gb117)"/><rect x="204" y="225" width="1.3" height="169.6" fill="url(#gb118)"/><rect x="205" y="225" width="1.3" height="169.6" fill="url(#gb119)"/><rect x="206" y="225" width="1.3" height="169.6" fill="url(#gb120)"/><rect x="207" y="225" width="1.3" height="169.6" fill="url(#gb121)"/><rect x="208" y="225" width="1.3" height="169.6" fill="url(#gb122)"/><rect x="209" y="225" width="1.3" height="169.6" fill="url(#gb123)"/><rect x="210" y="225" width="1.3" height="169.6" fill="url(#gb124)"/><rect x="211" y="225" width="1.3" height="169.6" fill="url(#gb125)"/><rect x="212" y="225" width="1.3" height="169.6" fill="url(#gb126)"/><rect x="213" y="225" width="1.3" height="169.6" fill="url(#gb127)"/><rect x="214" y="225" width="1.3" height="169.6" fill="url(#gb128)"/><rect x="215" y="225" width="1.3" height="169.6" fill="url(#gb129)"/><rect x="216" y="225" width="1.3" height="169.6" fill="url(#gb130)"/><rect x="217" y="225" width="1.3" height="169.6" fill="url(#gb131)"/><rect x="218" y="225" width="1.3" height="169.6" fill="url(#gb132)"/><rect x="219" y="225" width="1.3" height="169.6" fill="url(#gb133)"/><rect x="220" y="225" width="1.3" height="169.6" fill="url(#gb134)"/><rect x="221" y="225" width="1.3" height="169.6" fill="url(#gb135)"/><rect x="222" y="225" width="1.3" height="169.6" fill="url(#gb136)"/><rect x="223" y="225" width="1.3" height="169.6" fill="url(#gb137)"/><rect x="224" y="225" width="2.3" height="169.6" fill="url(#gb138)"/><rect x="226" y="225" width="6.3" height="169.6" fill="#1633f7"/><rect x="232" y="225" width="5.3" height="169.6" fill="url(#gb139)"/><rect x="237" y="225" width="2.3" height="169.6" fill="#1531f6"/><rect x="239" y="225" width="2.3" height="169.6" fill="url(#gb140)"/><rect x="241" y="225" width="8.3" height="169.6" fill="#1531f6"/><rect x="249" y="225" width="1.3" height="169.6" fill="url(#gb141)"/><rect x="250" y="225" width="1.3" height="169.6" fill="url(#gb142)"/><rect x="251" y="225" width="1.3" height="169.6" fill="url(#gb143)"/><rect x="252" y="225" width="1.3" height="169.6" fill="url(#gb144)"/><rect x="253" y="225" width="1.3" height="169.6" fill="url(#gb145)"/><rect x="254" y="225" width="1.3" height="169.6" fill="url(#gb146)"/><rect x="255" y="225" width="1.3" height="169.6" fill="url(#gb147)"/><rect x="256" y="225" width="1.3" height="169.6" fill="url(#gb148)"/><rect x="257" y="225" width="1.3" height="169.6" fill="url(#gb149)"/><rect x="258" y="225" width="1.3" height="169.6" fill="url(#gb150)"/><rect x="259" y="225" width="1.3" height="169.6" fill="url(#gb151)"/><rect x="260" y="225" width="1.3" height="169.6" fill="url(#gb152)"/><rect x="261" y="225" width="1.3" height="169.6" fill="url(#gb153)"/><rect x="262" y="225" width="1.3" height="169.6" fill="url(#gb154)"/><rect x="263" y="225" width="1.3" height="169.6" fill="url(#gb155)"/><rect x="264" y="225" width="1.3" height="169.6" fill="url(#gb156)"/><rect x="265" y="225" width="1.3" height="169.6" fill="url(#gb157)"/><rect x="266" y="225" width="1.3" height="169.6" fill="url(#gb158)"/><rect x="267" y="225" width="1.3" height="169.6" fill="url(#gb159)"/><rect x="268" y="225" width="1.3" height="169.6" fill="url(#gb160)"/><rect x="269" y="225" width="1.3" height="169.6" fill="url(#gb161)"/><rect x="270" y="225" width="1.3" height="169.6" fill="url(#gb162)"/><rect x="271" y="225" width="1.3" height="169.6" fill="url(#gb163)"/><rect x="272" y="225" width="1.3" height="169.6" fill="url(#gb164)"/><rect x="273" y="225" width="1.3" height="169.6" fill="url(#gb165)"/><rect x="274" y="225" width="1.3" height="169.6" fill="url(#gb166)"/><rect x="275" y="225" width="1.3" height="169.6" fill="url(#gb167)"/><rect x="276" y="225" width="1.3" height="169.6" fill="url(#gb168)"/><rect x="277" y="225" width="1.3" height="169.6" fill="url(#gb169)"/><rect x="278" y="225" width="2.3" height="169.6" fill="url(#gb170)"/><rect x="280" y="225" width="5.8" height="169.6" fill="#0b20f1"/><polygon points="43.2,350.0 45.0,346.5 49.0,346.0 69.0,345.3 69.0,376.5 67.7,376.0 45.0,359.0 43.2,355.0" fill="#1227e6" filter="url(#b05)"/><polygon points="96.0,337.0 99.0,334.6 121.0,334.6 121.0,375.5 119.0,375.0 98.6,348.4 96.0,344.0" fill="#1227e6" filter="url(#b05)"/><polygon points="147.5,340.0 150.0,336.8 175.0,336.3 175.0,380.0 172.8,379.0 166.7,367.5 149.0,353.0 147.5,348.0" fill="#1227e6" filter="url(#b05)"/><polygon points="199.5,344.0 202.0,340.5 228.8,340.5 228.8,371.0 226.0,370.0 220.2,364.5 200.5,350.5 199.3,347.0" fill="#1227e6" filter="url(#b05)"/><polygon points="251.8,336.0 253.0,333.5 279.0,333.5 279.0,375.5 278.6,375.0 273.3,369.0 264.8,358.3 261.0,346.0 252.0,339.0" fill="#1227e6" filter="url(#b05)"/></g>
<defs><clipPath id="cpc"><polygon points="329.00,20.00 584.50,20.00 584.50,185.20 329.00,185.20"/></clipPath><linearGradient id="gc1" x2="0" y2="1"><stop offset=".003" stop-color="#fe3116"/><stop offset=".603" stop-color="#ff3818"/><stop offset=".996" stop-color="#ff4019"/></linearGradient><linearGradient id="gc2" x2="0" y2="1"><stop offset=".003" stop-color="#ff4618"/><stop offset=".609" stop-color="#ff5417"/><stop offset=".996" stop-color="#ff6216"/></linearGradient><linearGradient id="gc3" x2="0" y2="1"><stop offset=".003" stop-color="#ff5c17"/><stop offset=".657" stop-color="#ff7313"/><stop offset=".996" stop-color="#ff8410"/></linearGradient><linearGradient id="gc4" x2="0" y2="1"><stop offset=".003" stop-color="#ff7213"/><stop offset=".705" stop-color="#ff910d"/><stop offset=".996" stop-color="#ffa309"/></linearGradient><linearGradient id="gc5" x2="0" y2="1"><stop offset=".003" stop-color="#ff870f"/><stop offset=".746" stop-color="#ffaf09"/><stop offset=".996" stop-color="#ffc50c"/></linearGradient><linearGradient id="gc6" x2="0" y2="1"><stop offset=".003" stop-color="#ddf31e"/><stop offset=".288" stop-color="#e2f21d"/><stop offset=".508" stop-color="#bcf529"/><stop offset=".699" stop-color="#92f53d"/><stop offset=".996" stop-color="#7cf55d"/></linearGradient><linearGradient id="gc7" x2="0" y2="1"><stop offset=".003" stop-color="#e5f21c"/><stop offset=".282" stop-color="#e5f21c"/><stop offset=".49" stop-color="#b2f52c"/><stop offset=".645" stop-color="#8cf544"/><stop offset=".996" stop-color="#70f476"/></linearGradient><linearGradient id="gc8" x2="0" y2="1"><stop offset=".003" stop-color="#ebef1a"/><stop offset=".276" stop-color="#e7f11b"/><stop offset=".455" stop-color="#adf52e"/><stop offset=".592" stop-color="#87f54b"/><stop offset=".901" stop-color="#6df380"/><stop offset=".996" stop-color="#65f298"/></linearGradient><linearGradient id="gc9" x2="0" y2="1"><stop offset=".003" stop-color="#eeee19"/><stop offset=".265" stop-color="#e9f01a"/><stop offset=".437" stop-color="#a2f531"/><stop offset=".568" stop-color="#80f556"/><stop offset=".817" stop-color="#6cf384"/><stop offset=".996" stop-color="#5ff1b2"/></linearGradient><linearGradient id="gc10" x2="0" y2="1"><stop offset=".003" stop-color="#eeee19"/><stop offset=".265" stop-color="#e6f11b"/><stop offset=".449" stop-color="#92f53e"/><stop offset=".55" stop-color="#78f464"/><stop offset=".99" stop-color="#5cf0bf"/><stop offset=".996" stop-color="#5cf0c1"/></linearGradient><linearGradient id="gc11" x2="0" y2="1"><stop offset=".003" stop-color="#eeee19"/><stop offset=".265" stop-color="#e4f21c"/><stop offset=".425" stop-color="#91f53e"/><stop offset=".526" stop-color="#71f474"/><stop offset=".996" stop-color="#58f0d2"/></linearGradient><linearGradient id="gc12" x2="0" y2="1"><stop offset=".003" stop-color="#eeee19"/><stop offset=".259" stop-color="#e4f21c"/><stop offset=".389" stop-color="#99f538"/><stop offset=".473" stop-color="#74f46c"/><stop offset=".502" stop-color="#6af38b"/><stop offset=".984" stop-color="#56f0e1"/><stop offset=".996" stop-color="#55f0e4"/></linearGradient><linearGradient id="gc13" x2="0" y2="1"><stop offset=".003" stop-color="#eeee19"/><stop offset=".259" stop-color="#e1f21d"/><stop offset=".372" stop-color="#98f539"/><stop offset=".425" stop-color="#7ff557"/><stop offset=".473" stop-color="#68f291"/><stop offset=".49" stop-color="#62f1a5"/><stop offset=".984" stop-color="#50e9f0"/><stop offset=".996" stop-color="#50e8f1"/></linearGradient><linearGradient id="gc14" x2="0" y2="1"><stop offset=".003" stop-color="#eeee19"/><stop offset=".253" stop-color="#e3f21c"/><stop offset=".354" stop-color="#99f538"/><stop offset=".407" stop-color="#80f555"/><stop offset=".443" stop-color="#6bf388"/><stop offset=".473" stop-color="#5cf0c0"/><stop offset=".865" stop-color="#50e8f1"/><stop offset=".996" stop-color="#4bd9fa"/></linearGradient><linearGradient id="gc15" x2="0" y2="1"><stop offset=".003" stop-color="#eeee19"/><stop offset=".253" stop-color="#e1f21d"/><stop offset=".348" stop-color="#98f538"/><stop offset=".401" stop-color="#80f556"/><stop offset=".437" stop-color="#68f290"/><stop offset=".467" stop-color="#59f0d2"/><stop offset=".835" stop-color="#4de4f6"/><stop offset=".996" stop-color="#4bc9fa"/></linearGradient><linearGradient id="gc16" x2="0" y2="1"><stop offset=".003" stop-color="#edee19"/><stop offset=".253" stop-color="#e0f21d"/><stop offset=".348" stop-color="#98f538"/><stop offset=".401" stop-color="#80f556"/><stop offset=".437" stop-color="#68f290"/><stop offset=".467" stop-color="#59f0d2"/><stop offset=".835" stop-color="#4de4f6"/><stop offset=".996" stop-color="#4bc9fa"/></linearGradient><linearGradient id="gc17" x2="0" y2="1"><stop offset=".003" stop-color="#edef19"/><stop offset=".253" stop-color="#def21e"/><stop offset=".348" stop-color="#98f539"/><stop offset=".401" stop-color="#80f556"/><stop offset=".437" stop-color="#68f290"/><stop offset=".467" stop-color="#59f0d2"/><stop offset=".835" stop-color="#4de4f6"/><stop offset=".996" stop-color="#4bc9fa"/></linearGradient><linearGradient id="gc18" x2="0" y2="1"><stop offset=".003" stop-color="#ecef1a"/><stop offset=".253" stop-color="#ddf31e"/><stop offset=".348" stop-color="#98f539"/><stop offset=".401" stop-color="#80f556"/><stop offset=".437" stop-color="#68f290"/><stop offset=".467" stop-color="#59f0d2"/><stop offset=".835" stop-color="#4de4f6"/><stop offset=".996" stop-color="#4bc9fa"/></linearGradient><linearGradient id="gc19" x2="0" y2="1"><stop offset=".003" stop-color="#ecef1a"/><stop offset=".253" stop-color="#dbf31f"/><stop offset=".348" stop-color="#97f539"/><stop offset=".401" stop-color="#80f556"/><stop offset=".437" stop-color="#68f290"/><stop offset=".467" stop-color="#59f0d2"/><stop offset=".835" stop-color="#4de4f6"/><stop offset=".996" stop-color="#4bc9fa"/></linearGradient><linearGradient id="gc20" x2="0" y2="1"><stop offset=".003" stop-color="#ebef1a"/><stop offset=".253" stop-color="#d9f31f"/><stop offset=".348" stop-color="#97f539"/><stop offset=".401" stop-color="#80f556"/><stop offset=".437" stop-color="#68f290"/><stop offset=".467" stop-color="#59f0d2"/><stop offset=".835" stop-color="#4de4f6"/><stop offset=".996" stop-color="#4bc9fa"/></linearGradient><linearGradient id="gc21" x2="0" y2="1"><stop offset=".003" stop-color="#eaf01a"/><stop offset=".253" stop-color="#d8f320"/><stop offset=".354" stop-color="#94f53c"/><stop offset=".401" stop-color="#80f556"/><stop offset=".437" stop-color="#68f290"/><stop offset=".467" stop-color="#59f0d2"/><stop offset=".835" stop-color="#4de4f6"/><stop offset=".996" stop-color="#4bc9fa"/></linearGradient><linearGradient id="gc22" x2="0" y2="1"><stop offset=".003" stop-color="#eaf01a"/><stop offset=".259" stop-color="#d2f322"/><stop offset=".348" stop-color="#97f53a"/><stop offset=".401" stop-color="#80f556"/><stop offset=".437" stop-color="#68f290"/><stop offset=".467" stop-color="#59f0d2"/><stop offset=".835" stop-color="#4de4f6"/><stop offset=".996" stop-color="#4bc9fa"/></linearGradient><linearGradient id="gc23" x2="0" y2="1"><stop offset=".003" stop-color="#e9f01a"/><stop offset=".253" stop-color="#d6f321"/><stop offset=".348" stop-color="#97f53a"/><stop offset=".401" stop-color="#80f556"/><stop offset=".437" stop-color="#68f290"/><stop offset=".467" stop-color="#59f0d2"/><stop offset=".835" stop-color="#4de4f6"/><stop offset=".996" stop-color="#4bc9fa"/></linearGradient><linearGradient id="gc24" x2="0" y2="1"><stop offset=".003" stop-color="#ffa309"/><stop offset=".282" stop-color="#ffb80a"/><stop offset=".49" stop-color="#f8eb16"/><stop offset=".681" stop-color="#e8f01b"/><stop offset=".996" stop-color="#d8f320"/></linearGradient><linearGradient id="gc25" x2="0" y2="1"><stop offset=".003" stop-color="#ff9a0b"/><stop offset=".407" stop-color="#ffad09"/><stop offset=".687" stop-color="#ffd40f"/><stop offset=".996" stop-color="#ffe213"/></linearGradient><linearGradient id="gc26" x2="0" y2="1"><stop offset=".003" stop-color="#ff910d"/><stop offset=".603" stop-color="#ff980b"/><stop offset=".996" stop-color="#ffa00a"/></linearGradient><linearGradient id="gc27" x2="0" y2="1"><stop offset=".003" stop-color="#ff6915"/><stop offset=".996" stop-color="#ff7014"/></linearGradient><linearGradient id="gc28" x2="0" y2="1"><stop offset=".003" stop-color="#ffa00a"/><stop offset=".526" stop-color="#ff9a0b"/><stop offset=".77" stop-color="#ff7912"/><stop offset=".996" stop-color="#ff7912"/></linearGradient><linearGradient id="gc29" x2="0" y2="1"><stop offset=".003" stop-color="#ff5117"/><stop offset=".592" stop-color="#ff4a18"/><stop offset=".93" stop-color="#ff4019"/><stop offset=".996" stop-color="#ff4019"/></linearGradient><linearGradient id="gc30" x2="0" y2="1"><stop offset=".003" stop-color="#e4f21c"/><stop offset=".33" stop-color="#ddf31e"/><stop offset=".538" stop-color="#bff528"/><stop offset=".77" stop-color="#98f539"/><stop offset=".996" stop-color="#87f54b"/></linearGradient><linearGradient id="gc31" x2="0" y2="1"><stop offset=".003" stop-color="#e4f21c"/><stop offset=".306" stop-color="#ddf31e"/><stop offset=".502" stop-color="#bcf529"/><stop offset=".687" stop-color="#93f53c"/><stop offset=".996" stop-color="#7bf55e"/></linearGradient><linearGradient id="gc32" x2="0" y2="1"><stop offset=".003" stop-color="#e4f21c"/><stop offset=".294" stop-color="#ddf31e"/><stop offset=".473" stop-color="#b9f52a"/><stop offset=".627" stop-color="#8ef541"/><stop offset=".996" stop-color="#70f476"/></linearGradient><linearGradient id="gc33" x2="0" y2="1"><stop offset=".003" stop-color="#e4f21c"/><stop offset=".282" stop-color="#def21e"/><stop offset=".449" stop-color="#b5f52b"/><stop offset=".592" stop-color="#87f54a"/><stop offset=".901" stop-color="#6df380"/><stop offset=".996" stop-color="#65f299"/></linearGradient><linearGradient id="gc34" x2="0" y2="1"><stop offset=".003" stop-color="#e3f21c"/><stop offset=".271" stop-color="#ddf31e"/><stop offset=".437" stop-color="#abf52e"/><stop offset=".574" stop-color="#7ef558"/><stop offset=".847" stop-color="#69f28d"/><stop offset=".996" stop-color="#5ff1b4"/></linearGradient><linearGradient id="gc35" x2="0" y2="1"><stop offset=".003" stop-color="#e1f21d"/><stop offset=".265" stop-color="#d8f320"/><stop offset=".449" stop-color="#97f53a"/><stop offset=".568" stop-color="#74f46c"/><stop offset=".996" stop-color="#5bf0c6"/></linearGradient><linearGradient id="gc36" x2="0" y2="1"><stop offset=".003" stop-color="#def21e"/><stop offset=".265" stop-color="#d2f322"/><stop offset=".437" stop-color="#90f53f"/><stop offset=".52" stop-color="#6ff37b"/><stop offset=".996" stop-color="#57f0db"/></linearGradient><linearGradient id="gc37" x2="0" y2="1"><stop offset=".003" stop-color="#dcf31f"/><stop offset=".259" stop-color="#cef423"/><stop offset=".407" stop-color="#94f53c"/><stop offset=".473" stop-color="#74f46c"/><stop offset=".508" stop-color="#64f29f"/><stop offset=".996" stop-color="#51ebed"/></linearGradient><linearGradient id="gc38" x2="0" y2="1"><stop offset=".003" stop-color="#d9f31f"/><stop offset=".259" stop-color="#c9f425"/><stop offset=".383" stop-color="#92f53d"/><stop offset=".425" stop-color="#83f550"/><stop offset=".461" stop-color="#6bf386"/><stop offset=".485" stop-color="#5df0bb"/><stop offset=".883" stop-color="#50e8f1"/><stop offset=".996" stop-color="#4bdcfa"/></linearGradient><linearGradient id="gc39" x2="0" y2="1"><stop offset=".003" stop-color="#d7f320"/><stop offset=".259" stop-color="#c5f426"/><stop offset=".372" stop-color="#92f53e"/><stop offset=".419" stop-color="#84f550"/><stop offset=".449" stop-color="#6bf385"/><stop offset=".479" stop-color="#59f0d2"/><stop offset=".841" stop-color="#4de4f6"/><stop offset=".996" stop-color="#4bc9fa"/></linearGradient><linearGradient id="gc40" x2="0" y2="1"><stop offset=".003" stop-color="#d7f320"/><stop offset=".259" stop-color="#c4f426"/><stop offset=".366" stop-color="#94f53c"/><stop offset=".419" stop-color="#84f550"/><stop offset=".449" stop-color="#6bf385"/><stop offset=".479" stop-color="#59f0d2"/><stop offset=".841" stop-color="#4de4f6"/><stop offset=".996" stop-color="#4bc9fa"/></linearGradient><linearGradient id="gc41" x2="0" y2="1"><stop offset=".003" stop-color="#d6f321"/><stop offset=".259" stop-color="#c4f526"/><stop offset=".366" stop-color="#94f53c"/><stop offset=".419" stop-color="#84f550"/><stop offset=".449" stop-color="#6bf385"/><stop offset=".479" stop-color="#59f0d2"/><stop offset=".841" stop-color="#4de4f6"/><stop offset=".996" stop-color="#4bc9fa"/></linearGradient><linearGradient id="gc42" x2="0" y2="1"><stop offset=".003" stop-color="#d5f321"/><stop offset=".259" stop-color="#c3f527"/><stop offset=".366" stop-color="#93f53c"/><stop offset=".419" stop-color="#84f550"/><stop offset=".449" stop-color="#6bf385"/><stop offset=".479" stop-color="#59f0d2"/><stop offset=".841" stop-color="#4de4f6"/><stop offset=".996" stop-color="#4bc9fa"/></linearGradient><linearGradient id="gc43" x2="0" y2="1"><stop offset=".003" stop-color="#d4f321"/><stop offset=".259" stop-color="#c2f527"/><stop offset=".366" stop-color="#93f53d"/><stop offset=".419" stop-color="#84f550"/><stop offset=".449" stop-color="#6bf385"/><stop offset=".479" stop-color="#59f0d2"/><stop offset=".841" stop-color="#4de4f6"/><stop offset=".996" stop-color="#4bc9fa"/></linearGradient><linearGradient id="gc44" x2="0" y2="1"><stop offset=".003" stop-color="#d3f321"/><stop offset=".259" stop-color="#c1f527"/><stop offset=".372" stop-color="#91f53e"/><stop offset=".419" stop-color="#84f550"/><stop offset=".449" stop-color="#6bf385"/><stop offset=".479" stop-color="#59f0d2"/><stop offset=".841" stop-color="#4de4f6"/><stop offset=".996" stop-color="#4bc9fa"/></linearGradient><linearGradient id="gc45" x2="0" y2="1"><stop offset=".003" stop-color="#d2f322"/><stop offset=".259" stop-color="#c0f527"/><stop offset=".378" stop-color="#8ff540"/><stop offset=".419" stop-color="#84f550"/><stop offset=".449" stop-color="#6bf385"/><stop offset=".479" stop-color="#59f0d2"/><stop offset=".841" stop-color="#4de4f6"/><stop offset=".996" stop-color="#4bc9fa"/></linearGradient><linearGradient id="gc46" x2="0" y2="1"><stop offset=".003" stop-color="#d2f322"/><stop offset=".259" stop-color="#c0f527"/><stop offset=".372" stop-color="#91f53e"/><stop offset=".419" stop-color="#84f550"/><stop offset=".449" stop-color="#6bf385"/><stop offset=".479" stop-color="#59f0d2"/><stop offset=".841" stop-color="#4de4f6"/><stop offset=".996" stop-color="#4bc9fa"/></linearGradient><linearGradient id="gc47" x2="0" y2="1"><stop offset=".003" stop-color="#ffd20e"/><stop offset=".598" stop-color="#ffd910"/><stop offset=".954" stop-color="#ffe213"/><stop offset=".996" stop-color="#ffe213"/></linearGradient><linearGradient id="gc48" x2="0" y2="1"><stop offset=".003" stop-color="#ff890f"/><stop offset=".55" stop-color="#ff8f0d"/><stop offset=".812" stop-color="#ffa00a"/><stop offset=".996" stop-color="#ffa00a"/></linearGradient><linearGradient id="gc49" x2="0" y2="1"><stop offset=".003" stop-color="#ffd20e"/><stop offset=".716" stop-color="#ffca0c"/><stop offset=".996" stop-color="#ffc90c"/></linearGradient><linearGradient id="gc50" x2="0" y2="1"><stop offset=".003" stop-color="#ff860f"/><stop offset=".55" stop-color="#ff8010"/><stop offset=".817" stop-color="#ff6e14"/><stop offset=".996" stop-color="#ff6e14"/></linearGradient><linearGradient id="gc51" x2="0" y2="1"><stop offset=".003" stop-color="#ff7313"/><stop offset=".58" stop-color="#ff6c14"/><stop offset=".877" stop-color="#ff6116"/><stop offset=".996" stop-color="#ff6116"/></linearGradient><linearGradient id="gc52" x2="0" y2="1"><stop offset=".003" stop-color="#ff6116"/><stop offset=".603" stop-color="#ff5a17"/><stop offset=".996" stop-color="#ff5217"/></linearGradient><linearGradient id="gc53" x2="0" y2="1"><stop offset=".003" stop-color="#ff4e18"/><stop offset=".693" stop-color="#ff4618"/><stop offset=".996" stop-color="#ff4418"/></linearGradient><linearGradient id="gc54" x2="0" y2="1"><stop offset=".003" stop-color="#ff3b19"/><stop offset=".996" stop-color="#ff3618"/></linearGradient><linearGradient id="gc55" x2="0" y2="1"><stop offset=".003" stop-color="#fe2914"/><stop offset=".502" stop-color="#fe2e16"/><stop offset=".74" stop-color="#ff8110"/><stop offset=".996" stop-color="#ff8110"/></linearGradient><linearGradient id="gc56" x2="0" y2="1"><stop offset=".003" stop-color="#fe2914"/><stop offset=".496" stop-color="#fe2d16"/><stop offset=".734" stop-color="#ffa00a"/><stop offset=".996" stop-color="#ffa00a"/></linearGradient><linearGradient id="gc57" x2="0" y2="1"><stop offset=".003" stop-color="#fe2914"/><stop offset=".526" stop-color="#fe2f16"/><stop offset=".77" stop-color="#ff5117"/><stop offset=".996" stop-color="#ff5117"/></linearGradient><linearGradient id="gc58" x2="0" y2="1"><stop offset=".003" stop-color="#ff6116"/><stop offset=".598" stop-color="#ff5a17"/><stop offset=".954" stop-color="#ff5117"/><stop offset=".996" stop-color="#ff5117"/></linearGradient><linearGradient id="gc59" x2="0" y2="1"><stop offset=".003" stop-color="#ed0205"/><stop offset=".544" stop-color="#f30708"/><stop offset=".693" stop-color="#fd1d12"/><stop offset=".764" stop-color="#fe2914"/><stop offset=".996" stop-color="#fe2914"/></linearGradient><linearGradient id="gc60" x2="0" y2="1"><stop offset=".003" stop-color="#ffe513"/><stop offset=".306" stop-color="#efee19"/><stop offset=".788" stop-color="#9cf535"/><stop offset=".996" stop-color="#8df543"/></linearGradient><linearGradient id="gc61" x2="0" y2="1"><stop offset=".003" stop-color="#fbe915"/><stop offset=".294" stop-color="#edef19"/><stop offset=".699" stop-color="#96f53a"/><stop offset=".996" stop-color="#7ff557"/></linearGradient><linearGradient id="gc62" x2="0" y2="1"><stop offset=".003" stop-color="#f6eb17"/><stop offset=".288" stop-color="#ebef1a"/><stop offset=".514" stop-color="#adf52e"/><stop offset=".681" stop-color="#8bf545"/><stop offset=".996" stop-color="#73f46f"/></linearGradient><linearGradient id="gc63" x2="0" y2="1"><stop offset=".003" stop-color="#f1ed18"/><stop offset=".276" stop-color="#eaf01a"/><stop offset=".461" stop-color="#b1f52c"/><stop offset=".603" stop-color="#87f54b"/><stop offset=".913" stop-color="#6df381"/><stop offset=".996" stop-color="#66f296"/></linearGradient><linearGradient id="gc64" x2="0" y2="1"><stop offset=".003" stop-color="#edef19"/><stop offset=".271" stop-color="#e6f11c"/><stop offset=".443" stop-color="#a5f530"/><stop offset=".586" stop-color="#7cf55d"/><stop offset=".841" stop-color="#68f28e"/><stop offset=".996" stop-color="#5ef0b6"/></linearGradient><linearGradient id="gc65" x2="0" y2="1"><stop offset=".003" stop-color="#ebf01a"/><stop offset=".265" stop-color="#dff21e"/><stop offset=".443" stop-color="#95f53b"/><stop offset=".556" stop-color="#71f473"/><stop offset=".996" stop-color="#59f0ce"/></linearGradient><linearGradient id="gc66" x2="0" y2="1"><stop offset=".003" stop-color="#e8f01b"/><stop offset=".259" stop-color="#d9f320"/><stop offset=".407" stop-color="#98f539"/><stop offset=".485" stop-color="#74f46c"/><stop offset=".52" stop-color="#67f294"/><stop offset=".996" stop-color="#54efe8"/></linearGradient><linearGradient id="gc67" x2="0" y2="1"><stop offset=".003" stop-color="#e6f11b"/><stop offset=".259" stop-color="#d0f422"/><stop offset=".378" stop-color="#96f53a"/><stop offset=".425" stop-color="#84f54f"/><stop offset=".461" stop-color="#6df380"/><stop offset=".49" stop-color="#5df0ba"/><stop offset=".895" stop-color="#50e9f0"/><stop offset=".996" stop-color="#4be0fa"/></linearGradient><linearGradient id="gc68" x2="0" y2="1"><stop offset=".003" stop-color="#e4f21c"/><stop offset=".259" stop-color="#cbf424"/><stop offset=".366" stop-color="#95f53b"/><stop offset=".419" stop-color="#84f550"/><stop offset=".449" stop-color="#6bf385"/><stop offset=".479" stop-color="#59f0d2"/><stop offset=".841" stop-color="#4de4f6"/><stop offset=".996" stop-color="#4bc9fa"/></linearGradient><linearGradient id="gc69" x2="0" y2="1"><stop offset=".003" stop-color="#e2f21d"/><stop offset=".259" stop-color="#caf424"/><stop offset=".366" stop-color="#95f53b"/><stop offset=".419" stop-color="#84f550"/><stop offset=".449" stop-color="#6bf385"/><stop offset=".479" stop-color="#59f0d2"/><stop offset=".841" stop-color="#4de4f6"/><stop offset=".996" stop-color="#4bc9fa"/></linearGradient><linearGradient id="gc70" x2="0" y2="1"><stop offset=".003" stop-color="#e0f21d"/><stop offset=".259" stop-color="#c9f425"/><stop offset=".366" stop-color="#94f53c"/><stop offset=".419" stop-color="#84f550"/><stop offset=".449" stop-color="#6bf385"/><stop offset=".479" stop-color="#59f0d2"/><stop offset=".841" stop-color="#4de4f6"/><stop offset=".996" stop-color="#4bc9fa"/></linearGradient><linearGradient id="gc71" x2="0" y2="1"><stop offset=".003" stop-color="#def31e"/><stop offset=".259" stop-color="#c7f425"/><stop offset=".378" stop-color="#90f53f"/><stop offset=".419" stop-color="#84f550"/><stop offset=".449" stop-color="#6bf385"/><stop offset=".479" stop-color="#59f0d2"/><stop offset=".841" stop-color="#4de4f6"/><stop offset=".996" stop-color="#4bc9fa"/></linearGradient><linearGradient id="gc72" x2="0" y2="1"><stop offset=".003" stop-color="#dcf31f"/><stop offset=".259" stop-color="#c6f425"/><stop offset=".366" stop-color="#94f53c"/><stop offset=".419" stop-color="#84f550"/><stop offset=".449" stop-color="#6bf385"/><stop offset=".479" stop-color="#59f0d2"/><stop offset=".841" stop-color="#4de4f6"/><stop offset=".996" stop-color="#4bc9fa"/></linearGradient><linearGradient id="gc73" x2="0" y2="1"><stop offset=".003" stop-color="#daf31f"/><stop offset=".259" stop-color="#c5f426"/><stop offset=".372" stop-color="#92f53e"/><stop offset=".419" stop-color="#84f550"/><stop offset=".449" stop-color="#6bf385"/><stop offset=".479" stop-color="#59f0d2"/><stop offset=".841" stop-color="#4de4f6"/><stop offset=".996" stop-color="#4bc9fa"/></linearGradient><linearGradient id="gc74" x2="0" y2="1"><stop offset=".003" stop-color="#d8f320"/><stop offset=".259" stop-color="#c4f526"/><stop offset=".366" stop-color="#94f53c"/><stop offset=".419" stop-color="#84f550"/><stop offset=".449" stop-color="#6bf385"/><stop offset=".479" stop-color="#59f0d2"/><stop offset=".841" stop-color="#4de4f6"/><stop offset=".996" stop-color="#4bc9fa"/></linearGradient><linearGradient id="gc75" x2="0" y2="1"><stop offset=".003" stop-color="#d6f321"/><stop offset=".259" stop-color="#c2f527"/><stop offset=".366" stop-color="#93f53c"/><stop offset=".419" stop-color="#84f550"/><stop offset=".449" stop-color="#6bf385"/><stop offset=".479" stop-color="#59f0d2"/><stop offset=".841" stop-color="#4de4f6"/><stop offset=".996" stop-color="#4bc9fa"/></linearGradient><linearGradient id="gc76" x2="0" y2="1"><stop offset=".003" stop-color="#d4f321"/><stop offset=".259" stop-color="#c1f527"/><stop offset=".372" stop-color="#91f53e"/><stop offset=".419" stop-color="#84f550"/><stop offset=".449" stop-color="#6bf385"/><stop offset=".479" stop-color="#59f0d2"/><stop offset=".841" stop-color="#4de4f6"/><stop offset=".996" stop-color="#4bc9fa"/></linearGradient><linearGradient id="gc77" x2="0" y2="1"><stop offset=".003" stop-color="#d2f322"/><stop offset=".259" stop-color="#c0f527"/><stop offset=".372" stop-color="#91f53e"/><stop offset=".419" stop-color="#84f550"/><stop offset=".449" stop-color="#6bf385"/><stop offset=".479" stop-color="#59f0d2"/><stop offset=".841" stop-color="#4de4f6"/><stop offset=".996" stop-color="#4bc9fa"/></linearGradient><linearGradient id="gc78" x2="0" y2="1"><stop offset=".003" stop-color="#ff890f"/><stop offset=".55" stop-color="#ff8f0d"/><stop offset=".812" stop-color="#ffa00a"/><stop offset=".996" stop-color="#ffa00a"/></linearGradient><linearGradient id="gc79" x2="0" y2="1"><stop offset=".003" stop-color="#ffd20e"/><stop offset=".716" stop-color="#ffca0c"/><stop offset=".996" stop-color="#ffc90c"/></linearGradient><linearGradient id="gc80" x2="0" y2="1"><stop offset=".003" stop-color="#ff7712"/><stop offset=".609" stop-color="#ff7014"/><stop offset=".996" stop-color="#ff6915"/></linearGradient><linearGradient id="gc81" x2="0" y2="1"><stop offset=".003" stop-color="#ff6216"/><stop offset=".669" stop-color="#ff5a17"/><stop offset=".996" stop-color="#ff5717"/></linearGradient><linearGradient id="gc82" x2="0" y2="1"><stop offset=".003" stop-color="#ff4c18"/><stop offset=".996" stop-color="#ff4618"/></linearGradient><linearGradient id="gc83" x2="0" y2="1"><stop offset=".003" stop-color="#ff3718"/><stop offset=".996" stop-color="#fe3517"/></linearGradient><linearGradient id="gc84" x2="0" y2="1"><stop offset=".003" stop-color="#fe2914"/><stop offset=".502" stop-color="#fe2e16"/><stop offset=".74" stop-color="#ff8110"/><stop offset=".996" stop-color="#ff8110"/></linearGradient><linearGradient id="gc85" x2="0" y2="1"><stop offset=".003" stop-color="#fe2914"/><stop offset=".508" stop-color="#fe2f16"/><stop offset=".74" stop-color="#ff7113"/><stop offset=".996" stop-color="#ff7113"/></linearGradient><linearGradient id="gc86" x2="0" y2="1"><stop offset=".003" stop-color="#ff3818"/><stop offset=".496" stop-color="#ff3e19"/><stop offset=".705" stop-color="#ffc40b"/><stop offset=".746" stop-color="#ffd20e"/><stop offset=".996" stop-color="#ffd20e"/></linearGradient><linearGradient id="gc87" x2="0" y2="1"><stop offset=".003" stop-color="#ff3818"/><stop offset=".502" stop-color="#ff3d19"/><stop offset=".74" stop-color="#ff890f"/><stop offset=".996" stop-color="#ff890f"/></linearGradient><linearGradient id="gc88" x2="0" y2="1"><stop offset=".003" stop-color="#ff3818"/><stop offset=".544" stop-color="#ff3e19"/><stop offset=".812" stop-color="#ff5117"/><stop offset=".996" stop-color="#ff5117"/></linearGradient><linearGradient id="gc89" x2="0" y2="1"><stop offset=".003" stop-color="#ffe613"/><stop offset=".306" stop-color="#eeee19"/><stop offset=".77" stop-color="#9bf536"/><stop offset=".996" stop-color="#8af546"/></linearGradient><linearGradient id="gc90" x2="0" y2="1"><stop offset=".003" stop-color="#fde915"/><stop offset=".3" stop-color="#ecef1a"/><stop offset=".687" stop-color="#96f53b"/><stop offset=".996" stop-color="#7ef55a"/></linearGradient><linearGradient id="gc91" x2="0" y2="1"><stop offset=".003" stop-color="#f9ea16"/><stop offset=".288" stop-color="#ebf01a"/><stop offset=".508" stop-color="#aef52d"/><stop offset=".675" stop-color="#8bf546"/><stop offset=".996" stop-color="#72f472"/></linearGradient><linearGradient id="gc92" x2="0" y2="1"><stop offset=".003" stop-color="#f5ec17"/><stop offset=".276" stop-color="#eaf01a"/><stop offset=".467" stop-color="#aef52d"/><stop offset=".609" stop-color="#86f54d"/><stop offset=".907" stop-color="#6df380"/><stop offset=".996" stop-color="#66f297"/></linearGradient><linearGradient id="gc93" x2="0" y2="1"><stop offset=".003" stop-color="#f2ed18"/><stop offset=".276" stop-color="#e5f21c"/><stop offset=".443" stop-color="#a7f530"/><stop offset=".586" stop-color="#7df55a"/><stop offset=".847" stop-color="#69f28d"/><stop offset=".996" stop-color="#5ff1b4"/></linearGradient><linearGradient id="gc94" x2="0" y2="1"><stop offset=".003" stop-color="#f0ed18"/><stop offset=".265" stop-color="#e2f21d"/><stop offset=".449" stop-color="#97f53a"/><stop offset=".568" stop-color="#74f46c"/><stop offset=".996" stop-color="#5bf0c6"/></linearGradient><linearGradient id="gc95" x2="0" y2="1"><stop offset=".003" stop-color="#eeee19"/><stop offset=".259" stop-color="#ddf31e"/><stop offset=".437" stop-color="#90f53f"/><stop offset=".52" stop-color="#6ff37b"/><stop offset=".996" stop-color="#57f0db"/></linearGradient><linearGradient id="gc96" x2="0" y2="1"><stop offset=".003" stop-color="#ecef1a"/><stop offset=".259" stop-color="#d6f320"/><stop offset=".401" stop-color="#96f53a"/><stop offset=".461" stop-color="#7af561"/><stop offset=".514" stop-color="#64f2a0"/><stop offset=".996" stop-color="#51ebed"/></linearGradient><linearGradient id="gc97" x2="0" y2="1"><stop offset=".003" stop-color="#eaf01a"/><stop offset=".259" stop-color="#cff423"/><stop offset=".378" stop-color="#95f53b"/><stop offset=".425" stop-color="#83f550"/><stop offset=".461" stop-color="#6bf386"/><stop offset=".485" stop-color="#5df0bb"/><stop offset=".883" stop-color="#50e8f1"/><stop offset=".996" stop-color="#4bdcfa"/></linearGradient><linearGradient id="gc98" x2="0" y2="1"><stop offset=".003" stop-color="#e9f01b"/><stop offset=".259" stop-color="#cbf424"/><stop offset=".366" stop-color="#95f53b"/><stop offset=".419" stop-color="#84f550"/><stop offset=".449" stop-color="#6bf385"/><stop offset=".479" stop-color="#59f0d2"/><stop offset=".841" stop-color="#4de4f6"/><stop offset=".996" stop-color="#4bc9fa"/></linearGradient><linearGradient id="gc99" x2="0" y2="1"><stop offset=".003" stop-color="#e7f11b"/><stop offset=".259" stop-color="#caf424"/><stop offset=".366" stop-color="#95f53b"/><stop offset=".419" stop-color="#84f550"/><stop offset=".449" stop-color="#6bf385"/><stop offset=".479" stop-color="#59f0d2"/><stop offset=".841" stop-color="#4de4f6"/><stop offset=".996" stop-color="#4bc9fa"/></linearGradient><linearGradient id="gc100" x2="0" y2="1"><stop offset=".003" stop-color="#e5f11c"/><stop offset=".259" stop-color="#c9f425"/><stop offset=".366" stop-color="#94f53c"/><stop offset=".419" stop-color="#84f550"/><stop offset=".449" stop-color="#6bf385"/><stop offset=".479" stop-color="#59f0d2"/><stop offset=".841" stop-color="#4de4f6"/><stop offset=".996" stop-color="#4bc9fa"/></linearGradient><linearGradient id="gc101" x2="0" y2="1"><stop offset=".003" stop-color="#e4f21c"/><stop offset=".259" stop-color="#c7f425"/><stop offset=".378" stop-color="#90f53f"/><stop offset=".419" stop-color="#84f550"/><stop offset=".449" stop-color="#6bf385"/><stop offset=".479" stop-color="#59f0d2"/><stop offset=".841" stop-color="#4de4f6"/><stop offset=".996" stop-color="#4bc9fa"/></linearGradient><linearGradient id="gc102" x2="0" y2="1"><stop offset=".003" stop-color="#e2f21d"/><stop offset=".259" stop-color="#c6f426"/><stop offset=".366" stop-color="#94f53c"/><stop offset=".419" stop-color="#84f550"/><stop offset=".449" stop-color="#6bf385"/><stop offset=".479" stop-color="#59f0d2"/><stop offset=".841" stop-color="#4de4f6"/><stop offset=".996" stop-color="#4bc9fa"/></linearGradient><linearGradient id="gc103" x2="0" y2="1"><stop offset=".003" stop-color="#e0f21d"/><stop offset=".259" stop-color="#c5f426"/><stop offset=".36" stop-color="#96f53b"/><stop offset=".419" stop-color="#84f550"/><stop offset=".449" stop-color="#6bf385"/><stop offset=".479" stop-color="#59f0d2"/><stop offset=".841" stop-color="#4de4f6"/><stop offset=".996" stop-color="#4bc9fa"/></linearGradient><linearGradient id="gc104" x2="0" y2="1"><stop offset=".003" stop-color="#def31e"/><stop offset=".259" stop-color="#c3f526"/><stop offset=".378" stop-color="#90f53f"/><stop offset=".419" stop-color="#84f550"/><stop offset=".449" stop-color="#6bf385"/><stop offset=".479" stop-color="#59f0d2"/><stop offset=".841" stop-color="#4de4f6"/><stop offset=".996" stop-color="#4bc9fa"/></linearGradient><linearGradient id="gc105" x2="0" y2="1"><stop offset=".003" stop-color="#dbf31f"/><stop offset=".259" stop-color="#c2f527"/><stop offset=".366" stop-color="#93f53d"/><stop offset=".419" stop-color="#84f550"/><stop offset=".449" stop-color="#6bf385"/><stop offset=".479" stop-color="#59f0d2"/><stop offset=".841" stop-color="#4de4f6"/><stop offset=".996" stop-color="#4bc9fa"/></linearGradient><linearGradient id="gc106" x2="0" y2="1"><stop offset=".003" stop-color="#d9f31f"/><stop offset=".259" stop-color="#c1f527"/><stop offset=".372" stop-color="#91f53e"/><stop offset=".419" stop-color="#84f550"/><stop offset=".449" stop-color="#6bf385"/><stop offset=".479" stop-color="#59f0d2"/><stop offset=".841" stop-color="#4de4f6"/><stop offset=".996" stop-color="#4bc9fa"/></linearGradient><linearGradient id="gc107" x2="0" y2="1"><stop offset=".003" stop-color="#ff890f"/><stop offset=".55" stop-color="#ff8f0d"/><stop offset=".812" stop-color="#ffa00a"/><stop offset=".996" stop-color="#ffa00a"/></linearGradient><linearGradient id="gc108" x2="0" y2="1"><stop offset=".003" stop-color="#ffd20e"/><stop offset=".716" stop-color="#ffca0c"/><stop offset=".996" stop-color="#ffc90c"/></linearGradient><linearGradient id="gc109" x2="0" y2="1"><stop offset=".003" stop-color="#ff7113"/><stop offset=".621" stop-color="#ff6a15"/><stop offset=".996" stop-color="#ff6416"/></linearGradient><linearGradient id="gc110" x2="0" y2="1"><stop offset=".003" stop-color="#ff5c17"/><stop offset=".705" stop-color="#ff5417"/><stop offset=".996" stop-color="#ff5317"/></linearGradient><linearGradient id="gc111" x2="0" y2="1"><stop offset=".003" stop-color="#ff4718"/><stop offset=".996" stop-color="#ff4219"/></linearGradient><linearGradient id="gc112" x2="0" y2="1"><stop offset=".003" stop-color="#fe3317"/><stop offset=".996" stop-color="#fe3116"/></linearGradient><linearGradient id="gc113" x2="0" y2="1"><stop offset=".003" stop-color="#fe2914"/><stop offset=".496" stop-color="#fe2f16"/><stop offset=".675" stop-color="#ffa00a"/><stop offset=".734" stop-color="#ffc10b"/><stop offset=".996" stop-color="#ffc10b"/></linearGradient><linearGradient id="gc114" x2="0" y2="1"><stop offset=".003" stop-color="#fe2914"/><stop offset=".502" stop-color="#fe2e16"/><stop offset=".74" stop-color="#ff7912"/><stop offset=".996" stop-color="#ff7912"/></linearGradient><linearGradient id="gc115" x2="0" y2="1"><stop offset=".003" stop-color="#ff5117"/><stop offset=".514" stop-color="#ff5717"/><stop offset=".746" stop-color="#ff890f"/><stop offset=".996" stop-color="#ff890f"/></linearGradient><linearGradient id="gc116" x2="0" y2="1"><stop offset=".003" stop-color="#f10306"/><stop offset=".508" stop-color="#f50909"/><stop offset=".556" stop-color="#fd1e12"/><stop offset=".627" stop-color="#ff6616"/><stop offset=".716" stop-color="#ffc00b"/><stop offset=".752" stop-color="#ffc90c"/><stop offset=".996" stop-color="#ffc90c"/></linearGradient><linearGradient id="gc117" x2="0" y2="1"><stop offset=".003" stop-color="#ffdd11"/><stop offset=".288" stop-color="#f6eb17"/><stop offset=".699" stop-color="#a7f530"/><stop offset=".996" stop-color="#8df543"/></linearGradient><linearGradient id="gc118" x2="0" y2="1"><stop offset=".003" stop-color="#ffe613"/><stop offset=".3" stop-color="#f0ee19"/><stop offset=".556" stop-color="#b4f52b"/><stop offset=".71" stop-color="#95f53b"/><stop offset=".996" stop-color="#7ff557"/></linearGradient><linearGradient id="gc119" x2="0" y2="1"><stop offset=".003" stop-color="#fbe915"/><stop offset=".288" stop-color="#edef19"/><stop offset=".502" stop-color="#b3f52c"/><stop offset=".657" stop-color="#8df542"/><stop offset=".996" stop-color="#73f46f"/></linearGradient><linearGradient id="gc120" x2="0" y2="1"><stop offset=".003" stop-color="#f6eb17"/><stop offset=".276" stop-color="#eaf01a"/><stop offset=".455" stop-color="#b4f52b"/><stop offset=".592" stop-color="#88f549"/><stop offset=".913" stop-color="#6df381"/><stop offset=".996" stop-color="#66f296"/></linearGradient><linearGradient id="gc121" x2="0" y2="1"><stop offset=".003" stop-color="#f2ed18"/><stop offset=".276" stop-color="#e5f21c"/><stop offset=".443" stop-color="#a7f530"/><stop offset=".586" stop-color="#7df55a"/><stop offset=".847" stop-color="#69f28d"/><stop offset=".996" stop-color="#5ff1b4"/></linearGradient><linearGradient id="gc122" x2="0" y2="1"><stop offset=".003" stop-color="#f0ed18"/><stop offset=".265" stop-color="#e2f21d"/><stop offset=".449" stop-color="#97f53a"/><stop offset=".568" stop-color="#74f46c"/><stop offset=".996" stop-color="#5bf0c6"/></linearGradient><linearGradient id="gc123" x2="0" y2="1"><stop offset=".003" stop-color="#eeee19"/><stop offset=".259" stop-color="#ddf31e"/><stop offset=".437" stop-color="#90f53f"/><stop offset=".52" stop-color="#6ff37b"/><stop offset=".996" stop-color="#57f0db"/></linearGradient><linearGradient id="gc124" x2="0" y2="1"><stop offset=".003" stop-color="#ecef1a"/><stop offset=".259" stop-color="#d6f320"/><stop offset=".401" stop-color="#96f53a"/><stop offset=".461" stop-color="#7af561"/><stop offset=".514" stop-color="#64f2a0"/><stop offset=".996" stop-color="#51ebed"/></linearGradient><linearGradient id="gc125" x2="0" y2="1"><stop offset=".003" stop-color="#eaf01a"/><stop offset=".259" stop-color="#cff423"/><stop offset=".378" stop-color="#95f53b"/><stop offset=".425" stop-color="#83f550"/><stop offset=".461" stop-color="#6bf386"/><stop offset=".485" stop-color="#5df0bb"/><stop offset=".883" stop-color="#50e8f1"/><stop offset=".996" stop-color="#4bdcfa"/></linearGradient><linearGradient id="gc126" x2="0" y2="1"><stop offset=".003" stop-color="#e9f01a"/><stop offset=".259" stop-color="#cbf424"/><stop offset=".372" stop-color="#93f53d"/><stop offset=".419" stop-color="#84f550"/><stop offset=".449" stop-color="#6bf385"/><stop offset=".479" stop-color="#59f0d2"/><stop offset=".841" stop-color="#4de4f6"/><stop offset=".996" stop-color="#4bc9fa"/></linearGradient><linearGradient id="gc127" x2="0" y2="1"><stop offset=".003" stop-color="#e9f01b"/><stop offset=".259" stop-color="#cbf424"/><stop offset=".366" stop-color="#95f53b"/><stop offset=".419" stop-color="#84f550"/><stop offset=".449" stop-color="#6bf385"/><stop offset=".479" stop-color="#59f0d2"/><stop offset=".841" stop-color="#4de4f6"/><stop offset=".996" stop-color="#4bc9fa"/></linearGradient><linearGradient id="gc128" x2="0" y2="1"><stop offset=".003" stop-color="#e8f01b"/><stop offset=".259" stop-color="#caf424"/><stop offset=".366" stop-color="#95f53b"/><stop offset=".419" stop-color="#84f550"/><stop offset=".449" stop-color="#6bf385"/><stop offset=".479" stop-color="#59f0d2"/><stop offset=".841" stop-color="#4de4f6"/><stop offset=".996" stop-color="#4bc9fa"/></linearGradient><linearGradient id="gc129" x2="0" y2="1"><stop offset=".003" stop-color="#e8f11b"/><stop offset=".259" stop-color="#caf424"/><stop offset=".366" stop-color="#95f53b"/><stop offset=".419" stop-color="#84f550"/><stop offset=".449" stop-color="#6bf385"/><stop offset=".479" stop-color="#59f0d2"/><stop offset=".841" stop-color="#4de4f6"/><stop offset=".996" stop-color="#4bc9fa"/></linearGradient><linearGradient id="gc130" x2="0" y2="1"><stop offset=".003" stop-color="#e7f11b"/><stop offset=".259" stop-color="#c9f425"/><stop offset=".36" stop-color="#96f53a"/><stop offset=".419" stop-color="#84f550"/><stop offset=".449" stop-color="#6bf385"/><stop offset=".479" stop-color="#59f0d2"/><stop offset=".841" stop-color="#4de4f6"/><stop offset=".996" stop-color="#4bc9fa"/></linearGradient><linearGradient id="gc131" x2="0" y2="1"><stop offset=".003" stop-color="#e7f11b"/><stop offset=".259" stop-color="#c8f425"/><stop offset=".372" stop-color="#92f53d"/><stop offset=".419" stop-color="#84f550"/><stop offset=".449" stop-color="#6bf385"/><stop offset=".479" stop-color="#59f0d2"/><stop offset=".841" stop-color="#4de4f6"/><stop offset=".996" stop-color="#4bc9fa"/></linearGradient><linearGradient id="gc132" x2="0" y2="1"><stop offset=".003" stop-color="#e6f11b"/><stop offset=".259" stop-color="#c8f425"/><stop offset=".372" stop-color="#92f53d"/><stop offset=".419" stop-color="#84f550"/><stop offset=".449" stop-color="#6bf385"/><stop offset=".479" stop-color="#59f0d2"/><stop offset=".841" stop-color="#4de4f6"/><stop offset=".996" stop-color="#4bc9fa"/></linearGradient><linearGradient id="gc133" x2="0" y2="1"><stop offset=".003" stop-color="#e6f11c"/><stop offset=".259" stop-color="#c7f425"/><stop offset=".378" stop-color="#90f53f"/><stop offset=".419" stop-color="#84f550"/><stop offset=".449" stop-color="#6bf385"/><stop offset=".479" stop-color="#59f0d2"/><stop offset=".841" stop-color="#4de4f6"/><stop offset=".996" stop-color="#4bc9fa"/></linearGradient><linearGradient id="gc134" x2="0" y2="1"><stop offset=".003" stop-color="#e5f21c"/><stop offset=".259" stop-color="#c6f425"/><stop offset=".372" stop-color="#92f53e"/><stop offset=".419" stop-color="#84f550"/><stop offset=".449" stop-color="#6bf385"/><stop offset=".479" stop-color="#59f0d2"/><stop offset=".841" stop-color="#4de4f6"/><stop offset=".996" stop-color="#4bc9fa"/></linearGradient><linearGradient id="gc135" x2="0" y2="1"><stop offset=".003" stop-color="#e4f21c"/><stop offset=".259" stop-color="#c6f426"/><stop offset=".366" stop-color="#94f53c"/><stop offset=".419" stop-color="#84f550"/><stop offset=".449" stop-color="#6bf385"/><stop offset=".479" stop-color="#59f0d2"/><stop offset=".841" stop-color="#4de4f6"/><stop offset=".996" stop-color="#4bc9fa"/></linearGradient><linearGradient id="gc136" x2="0" y2="1"><stop offset=".003" stop-color="#ff890f"/><stop offset=".598" stop-color="#ff900d"/><stop offset=".996" stop-color="#ff980b"/></linearGradient><linearGradient id="gc137" x2="0" y2="1"><stop offset=".003" stop-color="#ffd20e"/><stop offset=".716" stop-color="#ffca0c"/><stop offset=".996" stop-color="#ffc90c"/></linearGradient><linearGradient id="gc138" x2="0" y2="1"><stop offset=".003" stop-color="#ff890f"/><stop offset=".603" stop-color="#ff8210"/><stop offset=".978" stop-color="#ff7912"/><stop offset=".996" stop-color="#ff7912"/></linearGradient></defs><g clip-path="url(#cpc)"><rect x="329" y="18" width="15.3" height="168.2" fill="#fc120f"/><rect x="344" y="18" width="1.3" height="168.2" fill="url(#gc1)"/><rect x="345" y="18" width="1.3" height="168.2" fill="url(#gc2)"/><rect x="346" y="18" width="1.3" height="168.2" fill="url(#gc3)"/><rect x="347" y="18" width="1.3" height="168.2" fill="url(#gc4)"/><rect x="348" y="18" width="1.3" height="168.2" fill="url(#gc5)"/><rect x="349" y="18" width="1.3" height="168.2" fill="url(#gc6)"/><rect x="350" y="18" width="1.3" height="168.2" fill="url(#gc7)"/><rect x="351" y="18" width="1.3" height="168.2" fill="url(#gc8)"/><rect x="352" y="18" width="1.3" height="168.2" fill="url(#gc9)"/><rect x="353" y="18" width="1.3" height="168.2" fill="url(#gc10)"/><rect x="354" y="18" width="1.3" height="168.2" fill="url(#gc11)"/><rect x="355" y="18" width="1.3" height="168.2" fill="url(#gc12)"/><rect x="356" y="18" width="1.3" height="168.2" fill="url(#gc13)"/><rect x="357" y="18" width="1.3" height="168.2" fill="url(#gc14)"/><rect x="358" y="18" width="1.3" height="168.2" fill="url(#gc15)"/><rect x="359" y="18" width="1.3" height="168.2" fill="url(#gc16)"/><rect x="360" y="18" width="1.3" height="168.2" fill="url(#gc17)"/><rect x="361" y="18" width="1.3" height="168.2" fill="url(#gc18)"/><rect x="362" y="18" width="1.3" height="168.2" fill="url(#gc19)"/><rect x="363" y="18" width="1.3" height="168.2" fill="url(#gc20)"/><rect x="364" y="18" width="1.3" height="168.2" fill="url(#gc21)"/><rect x="365" y="18" width="1.3" height="168.2" fill="url(#gc22)"/><rect x="366" y="18" width="2.3" height="168.2" fill="url(#gc23)"/><rect x="368" y="18" width="1.3" height="168.2" fill="url(#gc24)"/><rect x="369" y="18" width="1.3" height="168.2" fill="url(#gc25)"/><rect x="370" y="18" width="1.3" height="168.2" fill="url(#gc26)"/><rect x="371" y="18" width="1.3" height="168.2" fill="url(#gc27)"/><rect x="372" y="18" width="1.3" height="168.2" fill="#ff4818"/><rect x="373" y="18" width="1.3" height="168.2" fill="#ff4219"/><rect x="374" y="18" width="1.3" height="168.2" fill="#ff3d19"/><rect x="375" y="18" width="1.3" height="168.2" fill="#ff3818"/><rect x="376" y="18" width="1.3" height="168.2" fill="#fe3317"/><rect x="377" y="18" width="1.3" height="168.2" fill="#fe3116"/><rect x="378" y="18" width="1.3" height="168.2" fill="#ff7113"/><rect x="379" y="18" width="8.3" height="168.2" fill="#fc120f"/><rect x="387" y="18" width="8.3" height="168.2" fill="#ff4918"/><rect x="395" y="18" width="1.3" height="168.2" fill="url(#gc28)"/><rect x="396" y="18" width="3.3" height="168.2" fill="url(#gc29)"/><rect x="399" y="18" width="1.3" height="168.2" fill="url(#gc30)"/><rect x="400" y="18" width="1.3" height="168.2" fill="url(#gc31)"/><rect x="401" y="18" width="1.3" height="168.2" fill="url(#gc32)"/><rect x="402" y="18" width="1.3" height="168.2" fill="url(#gc33)"/><rect x="403" y="18" width="1.3" height="168.2" fill="url(#gc34)"/><rect x="404" y="18" width="1.3" height="168.2" fill="url(#gc35)"/><rect x="405" y="18" width="1.3" height="168.2" fill="url(#gc36)"/><rect x="406" y="18" width="1.3" height="168.2" fill="url(#gc37)"/><rect x="407" y="18" width="1.3" height="168.2" fill="url(#gc38)"/><rect x="408" y="18" width="1.3" height="168.2" fill="url(#gc39)"/><rect x="409" y="18" width="1.3" height="168.2" fill="url(#gc40)"/><rect x="410" y="18" width="1.3" height="168.2" fill="url(#gc41)"/><rect x="411" y="18" width="1.3" height="168.2" fill="url(#gc42)"/><rect x="412" y="18" width="1.3" height="168.2" fill="url(#gc43)"/><rect x="413" y="18" width="1.3" height="168.2" fill="url(#gc44)"/><rect x="414" y="18" width="1.3" height="168.2" fill="url(#gc45)"/><rect x="415" y="18" width="1.3" height="168.2" fill="url(#gc46)"/><rect x="416" y="18" width="3.3" height="168.2" fill="url(#gc47)"/><rect x="419" y="18" width="1.3" height="168.2" fill="url(#gc48)"/><rect x="420" y="18" width="1.3" height="168.2" fill="url(#gc49)"/><rect x="421" y="18" width="1.3" height="168.2" fill="url(#gc50)"/><rect x="422" y="18" width="1.3" height="168.2" fill="url(#gc51)"/><rect x="423" y="18" width="1.3" height="168.2" fill="url(#gc52)"/><rect x="424" y="18" width="1.3" height="168.2" fill="url(#gc53)"/><rect x="425" y="18" width="1.3" height="168.2" fill="url(#gc54)"/><rect x="426" y="18" width="4.3" height="168.2" fill="#fe2914"/><rect x="430" y="18" width="2.3" height="168.2" fill="url(#gc55)"/><rect x="432" y="18" width="3.3" height="168.2" fill="#fe2914"/><rect x="435" y="18" width="2.3" height="168.2" fill="url(#gc56)"/><rect x="437" y="18" width="3.3" height="168.2" fill="#fe2914"/><rect x="440" y="18" width="2.3" height="168.2" fill="url(#gc57)"/><rect x="442" y="18" width="6.3" height="168.2" fill="#fe2914"/><rect x="448" y="18" width="2.3" height="168.2" fill="url(#gc58)"/><rect x="450" y="18" width="2.3" height="168.2" fill="url(#gc59)"/><rect x="452" y="18" width="1.3" height="168.2" fill="url(#gc60)"/><rect x="453" y="18" width="1.3" height="168.2" fill="url(#gc61)"/><rect x="454" y="18" width="1.3" height="168.2" fill="url(#gc62)"/><rect x="455" y="18" width="1.3" height="168.2" fill="url(#gc63)"/><rect x="456" y="18" width="1.3" height="168.2" fill="url(#gc64)"/><rect x="457" y="18" width="1.3" height="168.2" fill="url(#gc65)"/><rect x="458" y="18" width="1.3" height="168.2" fill="url(#gc66)"/><rect x="459" y="18" width="1.3" height="168.2" fill="url(#gc67)"/><rect x="460" y="18" width="1.3" height="168.2" fill="url(#gc68)"/><rect x="461" y="18" width="1.3" height="168.2" fill="url(#gc69)"/><rect x="462" y="18" width="1.3" height="168.2" fill="url(#gc70)"/><rect x="463" y="18" width="1.3" height="168.2" fill="url(#gc71)"/><rect x="464" y="18" width="1.3" height="168.2" fill="url(#gc72)"/><rect x="465" y="18" width="1.3" height="168.2" fill="url(#gc73)"/><rect x="466" y="18" width="1.3" height="168.2" fill="url(#gc74)"/><rect x="467" y="18" width="1.3" height="168.2" fill="url(#gc75)"/><rect x="468" y="18" width="1.3" height="168.2" fill="url(#gc76)"/><rect x="469" y="18" width="1.3" height="168.2" fill="url(#gc77)"/><rect x="470" y="18" width="2.3" height="168.2" fill="url(#gc78)"/><rect x="472" y="18" width="2.3" height="168.2" fill="url(#gc79)"/><rect x="474" y="18" width="1.3" height="168.2" fill="url(#gc80)"/><rect x="475" y="18" width="1.3" height="168.2" fill="url(#gc81)"/><rect x="476" y="18" width="1.3" height="168.2" fill="url(#gc82)"/><rect x="477" y="18" width="1.3" height="168.2" fill="url(#gc83)"/><rect x="478" y="18" width="8.3" height="168.2" fill="#fe2914"/><rect x="486" y="18" width="1.3" height="168.2" fill="url(#gc84)"/><rect x="487" y="18" width="3.3" height="168.2" fill="#fe2914"/><rect x="490" y="18" width="3.3" height="168.2" fill="url(#gc85)"/><rect x="493" y="18" width="1.3" height="168.2" fill="#fe2914"/><rect x="494" y="18" width="2.3" height="168.2" fill="url(#gc86)"/><rect x="496" y="18" width="1.3" height="168.2" fill="url(#gc87)"/><rect x="497" y="18" width="3.3" height="168.2" fill="url(#gc88)"/><rect x="500" y="18" width="2.3" height="168.2" fill="#ff5117"/><rect x="502" y="18" width="1.3" height="168.2" fill="url(#gc89)"/><rect x="503" y="18" width="1.3" height="168.2" fill="url(#gc90)"/><rect x="504" y="18" width="1.3" height="168.2" fill="url(#gc91)"/><rect x="505" y="18" width="1.3" height="168.2" fill="url(#gc92)"/><rect x="506" y="18" width="1.3" height="168.2" fill="url(#gc93)"/><rect x="507" y="18" width="1.3" height="168.2" fill="url(#gc94)"/><rect x="508" y="18" width="1.3" height="168.2" fill="url(#gc95)"/><rect x="509" y="18" width="1.3" height="168.2" fill="url(#gc96)"/><rect x="510" y="18" width="1.3" height="168.2" fill="url(#gc97)"/><rect x="511" y="18" width="1.3" height="168.2" fill="url(#gc98)"/><rect x="512" y="18" width="1.3" height="168.2" fill="url(#gc99)"/><rect x="513" y="18" width="1.3" height="168.2" fill="url(#gc100)"/><rect x="514" y="18" width="1.3" height="168.2" fill="url(#gc101)"/><rect x="515" y="18" width="1.3" height="168.2" fill="url(#gc102)"/><rect x="516" y="18" width="1.3" height="168.2" fill="url(#gc103)"/><rect x="517" y="18" width="1.3" height="168.2" fill="url(#gc104)"/><rect x="518" y="18" width="1.3" height="168.2" fill="url(#gc105)"/><rect x="519" y="18" width="1.3" height="168.2" fill="url(#gc106)"/><rect x="520" y="18" width="2.3" height="168.2" fill="url(#gc107)"/><rect x="522" y="18" width="2.3" height="168.2" fill="url(#gc108)"/><rect x="524" y="18" width="1.3" height="168.2" fill="url(#gc109)"/><rect x="525" y="18" width="1.3" height="168.2" fill="url(#gc110)"/><rect x="526" y="18" width="1.3" height="168.2" fill="url(#gc111)"/><rect x="527" y="18" width="1.3" height="168.2" fill="url(#gc112)"/><rect x="528" y="18" width="4.3" height="168.2" fill="#fe2914"/><rect x="532" y="18" width="2.3" height="168.2" fill="url(#gc113)"/><rect x="534" y="18" width="6.3" height="168.2" fill="#fe2914"/><rect x="540" y="18" width="1.3" height="168.2" fill="url(#gc114)"/><rect x="541" y="18" width="6.3" height="168.2" fill="#fe2914"/><rect x="547" y="18" width="3.3" height="168.2" fill="url(#gc115)"/><rect x="550" y="18" width="2.3" height="168.2" fill="url(#gc116)"/><rect x="552" y="18" width="1.3" height="168.2" fill="url(#gc117)"/><rect x="553" y="18" width="1.3" height="168.2" fill="url(#gc118)"/><rect x="554" y="18" width="1.3" height="168.2" fill="url(#gc119)"/><rect x="555" y="18" width="1.3" height="168.2" fill="url(#gc120)"/><rect x="556" y="18" width="1.3" height="168.2" fill="url(#gc121)"/><rect x="557" y="18" width="1.3" height="168.2" fill="url(#gc122)"/><rect x="558" y="18" width="1.3" height="168.2" fill="url(#gc123)"/><rect x="559" y="18" width="1.3" height="168.2" fill="url(#gc124)"/><rect x="560" y="18" width="1.3" height="168.2" fill="url(#gc125)"/><rect x="561" y="18" width="1.3" height="168.2" fill="url(#gc126)"/><rect x="562" y="18" width="1.3" height="168.2" fill="url(#gc127)"/><rect x="563" y="18" width="1.3" height="168.2" fill="url(#gc128)"/><rect x="564" y="18" width="1.3" height="168.2" fill="url(#gc129)"/><rect x="565" y="18" width="1.3" height="168.2" fill="url(#gc130)"/><rect x="566" y="18" width="1.3" height="168.2" fill="url(#gc131)"/><rect x="567" y="18" width="1.3" height="168.2" fill="url(#gc132)"/><rect x="568" y="18" width="1.3" height="168.2" fill="url(#gc133)"/><rect x="569" y="18" width="1.3" height="168.2" fill="url(#gc134)"/><rect x="570" y="18" width="1.3" height="168.2" fill="url(#gc135)"/><rect x="571" y="18" width="4.3" height="168.2" fill="url(#gc136)"/><rect x="575" y="18" width="1.3" height="168.2" fill="url(#gc137)"/><rect x="576" y="18" width="1.3" height="168.2" fill="url(#gc138)"/><rect x="577" y="18" width="4.3" height="168.2" fill="#fe3116"/><rect x="581" y="18" width="1.3" height="168.2" fill="#ff7113"/><rect x="582" y="18" width="2.8" height="168.2" fill="#fd2113"/><ellipse cx="351.5" cy="50.0" rx="2.6" ry="16.0" fill="#ff5917" transform="rotate(-8.0 351.5 50.0)" filter="url(#b1)"/><ellipse cx="351.8" cy="50.0" rx="1.3" ry="8.0" fill="#ed0205" transform="rotate(-8.0 351.8 50.0)" filter="url(#b1)"/><ellipse cx="355.2" cy="40.0" rx="0.8" ry="14.0" fill="#ff890f" transform="rotate(0.0 355.2 40.0)" filter="url(#b1)"/><ellipse cx="402.0" cy="48.0" rx="1.1" ry="14.0" fill="#ff6116" transform="rotate(-12.0 402.0 48.0)" filter="url(#b1)"/><ellipse cx="409.5" cy="64.0" rx="1.9" ry="6.5" fill="#ff7113" transform="rotate(0.0 409.5 64.0)" filter="url(#b1)"/><ellipse cx="409.5" cy="64.0" rx="0.9" ry="4.0" fill="#ff3818" transform="rotate(0.0 409.5 64.0)" filter="url(#b05)"/><ellipse cx="454.0" cy="45.0" rx="1.0" ry="18.0" fill="#ff910d" transform="rotate(-8.0 454.0 45.0)" filter="url(#b1)"/><ellipse cx="457.5" cy="55.0" rx="0.9" ry="10.0" fill="#ffa00a" transform="rotate(-8.0 457.5 55.0)" filter="url(#b1)"/><ellipse cx="505.0" cy="48.0" rx="3.0" ry="25.0" fill="#ff7113" transform="rotate(-14.0 505.0 48.0)" filter="url(#b1)"/><ellipse cx="502.3" cy="33.0" rx="1.3" ry="7.0" fill="#f30507" transform="rotate(-12.0 502.3 33.0)" filter="url(#b05)"/><ellipse cx="505.5" cy="48.0" rx="1.4" ry="6.0" fill="#ed0205" transform="rotate(-14.0 505.5 48.0)" filter="url(#b05)"/><ellipse cx="508.5" cy="62.0" rx="1.4" ry="6.0" fill="#f60a0a" transform="rotate(-14.0 508.5 62.0)" filter="url(#b05)"/><ellipse cx="552.0" cy="32.0" rx="1.0" ry="12.0" fill="#f60a0a" transform="rotate(-6.0 552.0 32.0)" filter="url(#b05)"/><ellipse cx="556.0" cy="55.0" rx="1.8" ry="18.0" fill="#ff910d" transform="rotate(-10.0 556.0 55.0)" filter="url(#b1)"/><polygon points="342.7,195.0 342.5,180.5 341.7,159.1 341.3,141.7 342.6,131.7 344.0,121.8 344.5,110.0 348.9,104.5 352.2,99.0 355.5,93.5 356.6,92.4 368.5,100.6 370.7,120.4 371.8,179.0 371.8,195.0" fill="#b3f52c" filter="url(#b2)"/><polygon points="344.1,195.0 343.9,182.4 344.0,162.0 344.3,145.4 346.0,135.9 347.7,126.5 348.5,115.0 352.9,109.5 356.2,104.0 359.5,98.5 360.6,97.4 367.9,103.1 370.1,122.9 371.2,181.5 371.2,195.0" fill="#7ff558" filter="url(#b1)"/><polygon points="345.0,195.0 345.0,183.9 345.6,164.3 346.4,148.4 348.4,139.3 350.3,130.2 351.3,119.0 355.7,113.5 359.0,108.0 362.3,102.5 363.4,101.4 367.3,105.1 369.5,124.9 370.6,183.5 370.6,195.0" fill="#4ee5f5" filter="url(#b05)"/><polygon points="345.8,195.0 345.8,185.0 346.9,166.0 348.0,150.6 350.2,141.8 352.4,133.0 353.5,122.0 357.9,116.5 361.2,111.0 364.5,105.5 365.6,104.4 366.7,106.6 368.9,126.4 370.0,185.0 370.0,195.0" fill="#1838f8" filter="url(#b05)"/><polygon points="347.6,195.0 347.7,186.9 349.8,168.9 351.7,154.3 354.4,146.0 357.1,137.7 358.5,127.0 362.9,121.5 365.2,116.0 365.2,110.5 364.1,109.4 366.2,109.1 368.4,128.9 369.5,187.5 369.5,195.0" fill="#0a1ff1" filter="url(#b1)"/><polygon points="388.9,195.0 388.7,180.5 387.9,159.1 389.0,146.6 391.3,134.2 393.7,124.3 394.2,116.8 396.2,110.0 399.5,104.5 403.9,100.1 406.1,99.0 419.1,107.2 421.3,116.0 422.4,179.0 422.4,195.0" fill="#b3f52c" filter="url(#b2)"/><polygon points="390.2,195.0 390.1,182.4 390.2,162.0 391.8,150.1 394.5,138.3 397.3,128.8 398.1,121.7 400.2,115.0 403.5,109.5 407.9,105.1 410.1,104.0 418.5,109.7 420.7,118.5 421.8,181.5 421.8,195.0" fill="#7ff558" filter="url(#b1)"/><polygon points="391.2,195.0 391.2,183.9 391.8,164.3 393.8,152.9 396.8,141.6 399.9,132.5 400.8,125.7 403.0,119.0 406.3,113.5 410.7,109.1 412.9,108.0 417.9,111.7 420.1,120.5 421.2,183.5 421.2,195.0" fill="#4ee5f5" filter="url(#b05)"/><polygon points="392.0,195.0 392.0,185.0 393.1,166.0 395.3,155.0 398.6,144.0 401.9,135.2 403.0,128.6 405.2,122.0 408.5,116.5 412.9,112.1 415.1,111.0 417.3,113.2 419.5,122.0 420.6,185.0 420.6,195.0" fill="#1838f8" filter="url(#b05)"/><polygon points="393.8,195.0 393.9,186.9 396.0,168.9 398.8,158.5 402.7,148.1 406.5,139.8 407.9,133.5 410.2,127.0 413.5,121.5 415.8,117.1 413.6,116.0 416.8,115.7 419.0,124.5 420.1,187.5 420.1,195.0" fill="#0a1ff1" filter="url(#b1)"/><polygon points="443.0,195.0 442.7,179.4 443.5,161.3 444.8,147.5 445.3,139.3 446.8,128.3 448.3,118.7 450.5,109.8 454.1,104.9 457.8,100.0 460.2,96.4 472.2,103.6 473.4,113.3 473.4,179.0 473.4,195.0" fill="#b3f52c" filter="url(#b2)"/><polygon points="444.4,195.0 444.2,181.3 445.7,164.1 447.6,151.0 448.4,143.1 450.2,132.7 452.2,123.6 454.5,114.8 458.1,109.9 461.8,105.0 464.2,101.4 471.6,106.1 472.8,115.8 472.8,181.5 472.8,195.0" fill="#7ff558" filter="url(#b1)"/><polygon points="445.3,195.0 445.3,182.9 447.3,166.3 449.5,153.7 450.5,146.2 452.7,136.2 454.9,127.4 457.3,118.8 460.9,113.9 464.6,109.0 467.0,105.4 471.0,108.1 472.2,117.8 472.2,183.5 472.2,195.0" fill="#4ee5f5" filter="url(#b05)"/><polygon points="446.1,195.0 446.1,184.0 448.5,168.0 451.0,155.8 452.2,148.5 454.6,138.8 457.0,130.3 459.5,121.8 463.1,116.9 466.8,112.0 469.2,108.4 470.4,109.6 471.6,119.3 471.6,185.0 471.6,195.0" fill="#1838f8" filter="url(#b05)"/><polygon points="447.9,195.0 448.0,185.9 451.3,170.8 454.4,159.2 456.0,152.3 459.0,143.2 461.8,135.1 464.5,126.8 468.1,121.9 468.9,117.0 467.7,113.4 469.9,112.1 471.1,121.8 471.1,187.5 471.1,195.0" fill="#0a1ff1" filter="url(#b1)"/><polygon points="498.9,195.0 498.6,179.4 498.3,161.3 498.3,147.5 500.0,139.3 501.7,131.0 502.3,122.8 504.0,112.2 507.6,104.9 511.3,97.6 524.5,107.2 525.7,118.2 526.5,179.0 526.5,195.0" fill="#b3f52c" filter="url(#b2)"/><polygon points="500.2,195.0 500.1,181.3 500.5,164.1 501.1,151.0 503.1,143.1 505.1,135.3 506.0,127.4 508.0,117.2 511.6,109.9 515.3,102.6 523.9,109.7 525.1,120.7 525.9,181.5 525.9,195.0" fill="#7ff558" filter="url(#b1)"/><polygon points="501.2,195.0 501.2,182.9 502.1,166.3 503.0,153.7 505.2,146.2 507.4,138.7 508.6,131.1 510.8,121.2 514.4,113.9 518.1,106.6 523.3,111.7 524.5,122.7 525.3,183.5 525.3,195.0" fill="#4ee5f5" filter="url(#b05)"/><polygon points="502.0,195.0 502.0,184.0 503.3,168.0 504.5,155.8 506.9,148.5 509.3,141.2 510.6,133.9 513.0,124.2 516.6,116.9 520.3,109.6 522.7,113.2 523.9,124.2 524.7,185.0 524.7,195.0" fill="#1838f8" filter="url(#b05)"/><polygon points="503.8,195.0 503.9,185.9 506.1,170.8 507.9,159.2 510.7,152.3 513.5,145.4 515.2,138.5 518.0,129.2 521.2,121.9 518.8,114.6 522.2,115.7 523.4,126.7 524.2,187.5 524.2,195.0" fill="#0a1ff1" filter="url(#b1)"/><polygon points="548.8,195.0 548.5,179.4 547.4,161.3 546.9,147.5 547.4,137.9 549.2,131.0 551.0,124.2 552.7,112.2 555.1,107.3 558.7,102.5 572.0,110.9 574.4,127.9 576.4,137.7 576.8,179.0 576.8,195.0" fill="#b3f52c" filter="url(#b2)"/><polygon points="550.1,195.0 550.0,181.3 549.6,164.1 549.7,151.0 550.5,141.8 552.6,135.3 554.6,128.7 556.7,117.2 559.1,112.3 562.7,107.5 571.4,113.4 573.8,130.4 575.8,140.2 576.2,181.5 576.2,195.0" fill="#7ff558" filter="url(#b1)"/><polygon points="551.1,195.0 551.1,182.9 551.2,166.3 551.6,153.7 552.7,145.0 554.9,138.7 557.2,132.4 559.5,121.2 561.9,116.3 565.5,111.5 570.8,115.4 573.2,132.4 575.2,142.2 575.6,183.5 575.6,195.0" fill="#4ee5f5" filter="url(#b05)"/><polygon points="551.9,195.0 551.9,184.0 552.4,168.0 553.1,155.8 554.4,147.3 556.8,141.2 559.2,135.1 561.7,124.2 564.1,119.3 567.7,114.5 570.2,116.9 572.6,133.9 574.6,143.7 575.0,185.0 575.0,195.0" fill="#1838f8" filter="url(#b05)"/><polygon points="553.6,195.0 553.8,185.9 555.2,170.8 556.5,159.2 558.3,151.2 561.0,145.4 563.8,139.7 566.7,129.2 568.7,124.3 566.2,119.5 569.7,119.4 572.1,136.4 574.1,146.2 574.5,187.5 574.5,195.0" fill="#0a1ff1" filter="url(#b1)"/></g>
<defs><clipPath id="cpd"><polygon points="329.00,234.60 338.70,234.60 338.70,237.00 352.00,237.00 352.00,238.30 372.70,238.30 372.70,240.00 379.30,240.00 379.30,239.00 388.70,239.00 388.70,237.70 398.00,237.70 398.00,235.00 434.00,235.00 434.00,233.00 439.30,233.00 439.30,231.60 444.00,231.60 444.00,230.00 492.00,230.00 492.00,231.60 508.70,231.60 508.70,233.00 529.30,233.00 529.30,233.30 572.00,233.30 572.00,234.50 582.00,234.50 582.00,233.00 583.75,233.00 583.75,393.90 329.00,393.90"/></clipPath><linearGradient id="gd1" x2="0" y2="1"><stop offset=".003" stop-color="#ff5117"/><stop offset=".303" stop-color="#ff5a17"/><stop offset=".746" stop-color="#ff7912"/><stop offset=".992" stop-color="#ff7912"/></linearGradient><linearGradient id="gd2" x2="0" y2="1"><stop offset=".003" stop-color="#ff6815"/><stop offset=".992" stop-color="#ff5e16"/></linearGradient><linearGradient id="gd3" x2="0" y2="1"><stop offset=".003" stop-color="#ff7014"/><stop offset=".434" stop-color="#ff5b17"/><stop offset=".992" stop-color="#ff5b17"/></linearGradient><linearGradient id="gd4" x2="0" y2="1"><stop offset=".003" stop-color="#ff7912"/><stop offset=".297" stop-color="#ff5d17"/><stop offset=".992" stop-color="#ff5817"/></linearGradient><linearGradient id="gd5" x2="0" y2="1"><stop offset=".003" stop-color="#ff8110"/><stop offset=".267" stop-color="#ff5d17"/><stop offset=".752" stop-color="#ff5417"/><stop offset=".992" stop-color="#ff5417"/></linearGradient><linearGradient id="gd6" x2="0" y2="1"><stop offset=".003" stop-color="#ff890f"/><stop offset=".249" stop-color="#ff5d17"/><stop offset=".596" stop-color="#ff5117"/><stop offset=".992" stop-color="#ff5117"/></linearGradient><linearGradient id="gd7" x2="0" y2="1"><stop offset=".003" stop-color="#f3ec17"/><stop offset=".057" stop-color="#ffde11"/><stop offset=".183" stop-color="#ff960c"/><stop offset=".47" stop-color="#ff6b15"/><stop offset=".992" stop-color="#ff6715"/></linearGradient><linearGradient id="gd8" x2="0" y2="1"><stop offset=".003" stop-color="#c2f527"/><stop offset=".135" stop-color="#ffe513"/><stop offset=".207" stop-color="#ffb70a"/><stop offset=".464" stop-color="#ff8110"/><stop offset=".992" stop-color="#ff7912"/></linearGradient><linearGradient id="gd9" x2="0" y2="1"><stop offset=".003" stop-color="#b1f52c"/><stop offset=".183" stop-color="#ffe814"/><stop offset=".416" stop-color="#ff990b"/><stop offset=".818" stop-color="#ff890f"/><stop offset=".992" stop-color="#ff890f"/></linearGradient><linearGradient id="gd10" x2="0" y2="1"><stop offset=".003" stop-color="#a0f532"/><stop offset=".231" stop-color="#f5ec17"/><stop offset=".303" stop-color="#ffdc11"/><stop offset=".446" stop-color="#ffa509"/><stop offset=".866" stop-color="#ff980b"/><stop offset=".992" stop-color="#ff980b"/></linearGradient><linearGradient id="gd11" x2="0" y2="1"><stop offset=".003" stop-color="#99f537"/><stop offset=".327" stop-color="#fce915"/><stop offset=".452" stop-color="#ffbb0a"/><stop offset=".776" stop-color="#ffaa08"/><stop offset=".992" stop-color="#ffaa08"/></linearGradient><linearGradient id="gd12" x2="0" y2="1"><stop offset=".003" stop-color="#96f53a"/><stop offset=".207" stop-color="#c7f425"/><stop offset=".404" stop-color="#ffe213"/><stop offset=".488" stop-color="#ffd00e"/><stop offset=".764" stop-color="#ffbf0b"/><stop offset=".992" stop-color="#ffbf0b"/></linearGradient><linearGradient id="gd13" x2="0" y2="1"><stop offset=".003" stop-color="#93f53d"/><stop offset=".213" stop-color="#b7f52a"/><stop offset=".446" stop-color="#fce915"/><stop offset=".752" stop-color="#ffd40f"/><stop offset=".992" stop-color="#ffd40f"/></linearGradient><linearGradient id="gd14" x2="0" y2="1"><stop offset=".003" stop-color="#8ff540"/><stop offset=".225" stop-color="#aaf52f"/><stop offset=".452" stop-color="#eeee19"/><stop offset=".794" stop-color="#ffe814"/><stop offset=".992" stop-color="#ffe814"/></linearGradient><linearGradient id="gd15" x2="0" y2="1"><stop offset=".003" stop-color="#8ef542"/><stop offset=".249" stop-color="#a5f530"/><stop offset=".452" stop-color="#ddf31e"/><stop offset=".764" stop-color="#ebef1a"/><stop offset=".992" stop-color="#e9f01a"/></linearGradient><linearGradient id="gd16" x2="0" y2="1"><stop offset=".003" stop-color="#8df542"/><stop offset=".273" stop-color="#a4f531"/><stop offset=".452" stop-color="#c8f425"/><stop offset=".896" stop-color="#c8f425"/><stop offset=".992" stop-color="#c5f426"/></linearGradient><linearGradient id="gd17" x2="0" y2="1"><stop offset=".003" stop-color="#8df543"/><stop offset=".309" stop-color="#a2f531"/><stop offset=".446" stop-color="#b3f52c"/><stop offset=".992" stop-color="#a3f531"/></linearGradient><linearGradient id="gd18" x2="0" y2="1"><stop offset=".003" stop-color="#8cf544"/><stop offset=".452" stop-color="#9ff533"/><stop offset=".992" stop-color="#8ef541"/></linearGradient><linearGradient id="gd19" x2="0" y2="1"><stop offset=".003" stop-color="#8cf544"/><stop offset=".44" stop-color="#92f53e"/><stop offset=".992" stop-color="#7ff558"/></linearGradient><linearGradient id="gd20" x2="0" y2="1"><stop offset=".003" stop-color="#8bf545"/><stop offset=".422" stop-color="#8af547"/><stop offset=".812" stop-color="#77f466"/><stop offset=".992" stop-color="#72f472"/></linearGradient><linearGradient id="gd21" x2="0" y2="1"><stop offset=".003" stop-color="#8bf545"/><stop offset=".386" stop-color="#87f54a"/><stop offset=".602" stop-color="#75f46b"/><stop offset=".992" stop-color="#66f297"/></linearGradient><linearGradient id="gd22" x2="0" y2="1"><stop offset=".003" stop-color="#8bf545"/><stop offset=".333" stop-color="#87f54b"/><stop offset=".512" stop-color="#70f378"/><stop offset=".992" stop-color="#5cf0c0"/></linearGradient><linearGradient id="gd23" x2="0" y2="1"><stop offset=".003" stop-color="#8bf545"/><stop offset=".261" stop-color="#88f54a"/><stop offset=".392" stop-color="#7af560"/><stop offset=".524" stop-color="#66f296"/><stop offset=".986" stop-color="#50e9ef"/><stop offset=".992" stop-color="#50e8f0"/></linearGradient><linearGradient id="gd24" x2="0" y2="1"><stop offset=".003" stop-color="#8bf545"/><stop offset=".243" stop-color="#87f54b"/><stop offset=".368" stop-color="#79f462"/><stop offset=".5" stop-color="#60f1b0"/><stop offset=".782" stop-color="#50e9ef"/><stop offset=".866" stop-color="#4bd6fa"/><stop offset=".992" stop-color="#42a1fa"/></linearGradient><linearGradient id="gd25" x2="0" y2="1"><stop offset=".003" stop-color="#8bf545"/><stop offset=".237" stop-color="#86f54c"/><stop offset=".362" stop-color="#74f46b"/><stop offset=".476" stop-color="#59f0cc"/><stop offset=".632" stop-color="#4fe6f3"/><stop offset=".698" stop-color="#4bd2fa"/><stop offset=".878" stop-color="#3888fb"/><stop offset=".992" stop-color="#2f71fc"/></linearGradient><linearGradient id="gd26" x2="0" y2="1"><stop offset=".003" stop-color="#8ef541"/><stop offset=".231" stop-color="#89f548"/><stop offset=".368" stop-color="#76f469"/><stop offset=".494" stop-color="#58f0d2"/><stop offset=".626" stop-color="#4de3f7"/><stop offset=".764" stop-color="#409dfa"/><stop offset=".896" stop-color="#3175fc"/><stop offset=".992" stop-color="#275efc"/></linearGradient><linearGradient id="gd27" x2="0" y2="1"><stop offset=".003" stop-color="#94f53c"/><stop offset=".267" stop-color="#8cf544"/><stop offset=".392" stop-color="#7cf55d"/><stop offset=".488" stop-color="#66f297"/><stop offset=".548" stop-color="#5cf0bd"/><stop offset=".68" stop-color="#50e9f0"/><stop offset=".734" stop-color="#4bd3fa"/><stop offset=".854" stop-color="#3889fb"/><stop offset=".992" stop-color="#275ffc"/></linearGradient><linearGradient id="gd28" x2="0" y2="1"><stop offset=".003" stop-color="#9cf535"/><stop offset=".267" stop-color="#94f53c"/><stop offset=".404" stop-color="#83f551"/><stop offset=".518" stop-color="#6bf385"/><stop offset=".614" stop-color="#60f1b0"/><stop offset=".776" stop-color="#50e9f0"/><stop offset=".824" stop-color="#4bd5fa"/><stop offset=".938" stop-color="#388afb"/><stop offset=".992" stop-color="#3278fc"/></linearGradient><linearGradient id="gd29" x2="0" y2="1"><stop offset=".003" stop-color="#a7f530"/><stop offset=".237" stop-color="#a0f532"/><stop offset=".41" stop-color="#8af546"/><stop offset=".656" stop-color="#66f296"/><stop offset=".926" stop-color="#50e9f0"/><stop offset=".98" stop-color="#4bd5fa"/><stop offset=".992" stop-color="#4bcdfa"/></linearGradient><linearGradient id="gd30" x2="0" y2="1"><stop offset=".003" stop-color="#b4f52b"/><stop offset=".243" stop-color="#adf52e"/><stop offset=".428" stop-color="#90f53f"/><stop offset=".632" stop-color="#74f46d"/><stop offset=".992" stop-color="#5af0c8"/></linearGradient><linearGradient id="gd31" x2="0" y2="1"><stop offset=".003" stop-color="#c2f527"/><stop offset=".249" stop-color="#bbf529"/><stop offset=".398" stop-color="#a4f531"/><stop offset=".608" stop-color="#81f554"/><stop offset=".932" stop-color="#6cf384"/><stop offset=".992" stop-color="#68f290"/></linearGradient><linearGradient id="gd32" x2="0" y2="1"><stop offset=".003" stop-color="#d2f322"/><stop offset=".267" stop-color="#caf424"/><stop offset=".416" stop-color="#b1f52c"/><stop offset=".578" stop-color="#8ff540"/><stop offset=".992" stop-color="#78f465"/></linearGradient><linearGradient id="gd33" x2="0" y2="1"><stop offset=".003" stop-color="#f5ec17"/><stop offset=".464" stop-color="#e7f11b"/><stop offset=".902" stop-color="#bcf529"/><stop offset=".992" stop-color="#b6f52b"/></linearGradient><linearGradient id="gd34" x2="0" y2="1"><stop offset=".003" stop-color="#ff8110"/><stop offset=".992" stop-color="#ff910d"/></linearGradient><linearGradient id="gd35" x2="0" y2="1"><stop offset=".003" stop-color="#ff4019"/><stop offset=".243" stop-color="#ff4718"/><stop offset=".71" stop-color="#ff8110"/><stop offset=".992" stop-color="#ff8110"/></linearGradient><linearGradient id="gd36" x2="0" y2="1"><stop offset=".003" stop-color="#ff890f"/><stop offset=".464" stop-color="#ff7c11"/><stop offset=".908" stop-color="#ff7113"/><stop offset=".992" stop-color="#ff7113"/></linearGradient><linearGradient id="gd37" x2="0" y2="1"><stop offset=".003" stop-color="#ffda11"/><stop offset=".249" stop-color="#ffd30f"/><stop offset=".722" stop-color="#ffa00a"/><stop offset=".992" stop-color="#ffa00a"/></linearGradient><linearGradient id="gd38" x2="0" y2="1"><stop offset=".003" stop-color="#ff7113"/><stop offset=".992" stop-color="#ff6116"/></linearGradient><linearGradient id="gd39" x2="0" y2="1"><stop offset=".003" stop-color="#ff890f"/><stop offset=".249" stop-color="#ff5d17"/><stop offset=".596" stop-color="#ff5117"/><stop offset=".992" stop-color="#ff5117"/></linearGradient><linearGradient id="gd40" x2="0" y2="1"><stop offset=".003" stop-color="#f3ec17"/><stop offset=".057" stop-color="#ffde11"/><stop offset=".183" stop-color="#ff960c"/><stop offset=".47" stop-color="#ff6b15"/><stop offset=".992" stop-color="#ff6715"/></linearGradient><linearGradient id="gd41" x2="0" y2="1"><stop offset=".003" stop-color="#c2f527"/><stop offset=".135" stop-color="#ffe513"/><stop offset=".207" stop-color="#ffb70a"/><stop offset=".464" stop-color="#ff8110"/><stop offset=".992" stop-color="#ff7912"/></linearGradient><linearGradient id="gd42" x2="0" y2="1"><stop offset=".003" stop-color="#b1f52c"/><stop offset=".183" stop-color="#ffe814"/><stop offset=".416" stop-color="#ff990b"/><stop offset=".818" stop-color="#ff890f"/><stop offset=".992" stop-color="#ff890f"/></linearGradient><linearGradient id="gd43" x2="0" y2="1"><stop offset=".003" stop-color="#a0f532"/><stop offset=".231" stop-color="#f5ec17"/><stop offset=".303" stop-color="#ffdc11"/><stop offset=".446" stop-color="#ffa509"/><stop offset=".866" stop-color="#ff980b"/><stop offset=".992" stop-color="#ff980b"/></linearGradient><linearGradient id="gd44" x2="0" y2="1"><stop offset=".003" stop-color="#99f537"/><stop offset=".327" stop-color="#fce915"/><stop offset=".452" stop-color="#ffbb0a"/><stop offset=".776" stop-color="#ffaa08"/><stop offset=".992" stop-color="#ffaa08"/></linearGradient><linearGradient id="gd45" x2="0" y2="1"><stop offset=".003" stop-color="#96f53a"/><stop offset=".207" stop-color="#c7f425"/><stop offset=".404" stop-color="#ffe213"/><stop offset=".488" stop-color="#ffd00e"/><stop offset=".764" stop-color="#ffbf0b"/><stop offset=".992" stop-color="#ffbf0b"/></linearGradient><linearGradient id="gd46" x2="0" y2="1"><stop offset=".003" stop-color="#93f53d"/><stop offset=".213" stop-color="#b7f52a"/><stop offset=".446" stop-color="#fce915"/><stop offset=".752" stop-color="#ffd40f"/><stop offset=".992" stop-color="#ffd40f"/></linearGradient><linearGradient id="gd47" x2="0" y2="1"><stop offset=".003" stop-color="#8ff540"/><stop offset=".225" stop-color="#aaf52f"/><stop offset=".452" stop-color="#eeee19"/><stop offset=".794" stop-color="#ffe814"/><stop offset=".992" stop-color="#ffe814"/></linearGradient><linearGradient id="gd48" x2="0" y2="1"><stop offset=".003" stop-color="#8ef542"/><stop offset=".249" stop-color="#a5f530"/><stop offset=".452" stop-color="#ddf31e"/><stop offset=".764" stop-color="#ebef1a"/><stop offset=".992" stop-color="#e9f01a"/></linearGradient><linearGradient id="gd49" x2="0" y2="1"><stop offset=".003" stop-color="#8df542"/><stop offset=".273" stop-color="#a4f531"/><stop offset=".452" stop-color="#c8f425"/><stop offset=".896" stop-color="#c8f425"/><stop offset=".992" stop-color="#c5f426"/></linearGradient><linearGradient id="gd50" x2="0" y2="1"><stop offset=".003" stop-color="#8df543"/><stop offset=".309" stop-color="#a2f531"/><stop offset=".446" stop-color="#b3f52c"/><stop offset=".992" stop-color="#a3f531"/></linearGradient><linearGradient id="gd51" x2="0" y2="1"><stop offset=".003" stop-color="#8cf544"/><stop offset=".452" stop-color="#9ff533"/><stop offset=".992" stop-color="#8ef541"/></linearGradient><linearGradient id="gd52" x2="0" y2="1"><stop offset=".003" stop-color="#8cf544"/><stop offset=".44" stop-color="#92f53e"/><stop offset=".992" stop-color="#7ff558"/></linearGradient><linearGradient id="gd53" x2="0" y2="1"><stop offset=".003" stop-color="#8bf545"/><stop offset=".422" stop-color="#8af547"/><stop offset=".812" stop-color="#77f466"/><stop offset=".992" stop-color="#72f472"/></linearGradient><linearGradient id="gd54" x2="0" y2="1"><stop offset=".003" stop-color="#8bf545"/><stop offset=".386" stop-color="#87f54a"/><stop offset=".602" stop-color="#75f46b"/><stop offset=".992" stop-color="#66f297"/></linearGradient><linearGradient id="gd55" x2="0" y2="1"><stop offset=".003" stop-color="#8bf545"/><stop offset=".333" stop-color="#87f54b"/><stop offset=".512" stop-color="#70f378"/><stop offset=".992" stop-color="#5cf0c0"/></linearGradient><linearGradient id="gd56" x2="0" y2="1"><stop offset=".003" stop-color="#8bf545"/><stop offset=".261" stop-color="#88f54a"/><stop offset=".392" stop-color="#7af560"/><stop offset=".524" stop-color="#66f296"/><stop offset=".986" stop-color="#50e9ef"/><stop offset=".992" stop-color="#50e8f0"/></linearGradient><linearGradient id="gd57" x2="0" y2="1"><stop offset=".003" stop-color="#8bf545"/><stop offset=".243" stop-color="#87f54b"/><stop offset=".368" stop-color="#79f462"/><stop offset=".5" stop-color="#60f1b0"/><stop offset=".782" stop-color="#50e9ef"/><stop offset=".866" stop-color="#4bd6fa"/><stop offset=".992" stop-color="#42a1fa"/></linearGradient><linearGradient id="gd58" x2="0" y2="1"><stop offset=".003" stop-color="#8bf545"/><stop offset=".237" stop-color="#86f54c"/><stop offset=".362" stop-color="#74f46b"/><stop offset=".476" stop-color="#59f0cc"/><stop offset=".632" stop-color="#4fe6f3"/><stop offset=".698" stop-color="#4bd2fa"/><stop offset=".878" stop-color="#3888fb"/><stop offset=".992" stop-color="#2f71fc"/></linearGradient><linearGradient id="gd59" x2="0" y2="1"><stop offset=".003" stop-color="#9df534"/><stop offset=".285" stop-color="#90f53f"/><stop offset=".41" stop-color="#7ff556"/><stop offset=".518" stop-color="#69f28c"/><stop offset=".608" stop-color="#5ef0b7"/><stop offset=".746" stop-color="#50e9f0"/><stop offset=".794" stop-color="#4bd4fa"/><stop offset=".908" stop-color="#3888fb"/><stop offset=".992" stop-color="#2d6bfc"/></linearGradient><linearGradient id="gd60" x2="0" y2="1"><stop offset=".003" stop-color="#a1f532"/><stop offset=".285" stop-color="#95f53c"/><stop offset=".422" stop-color="#81f553"/><stop offset=".53" stop-color="#6cf382"/><stop offset=".812" stop-color="#50e9ef"/><stop offset=".866" stop-color="#4bd3fa"/><stop offset=".98" stop-color="#3889fb"/><stop offset=".992" stop-color="#3785fb"/></linearGradient><linearGradient id="gd61" x2="0" y2="1"><stop offset=".003" stop-color="#a8f52f"/><stop offset=".261" stop-color="#9cf536"/><stop offset=".422" stop-color="#86f54c"/><stop offset=".674" stop-color="#63f1a2"/><stop offset=".884" stop-color="#51eaee"/><stop offset=".938" stop-color="#4bd6fa"/><stop offset=".992" stop-color="#47b0fa"/></linearGradient><linearGradient id="gd62" x2="0" y2="1"><stop offset=".003" stop-color="#aef52d"/><stop offset=".243" stop-color="#a4f531"/><stop offset=".434" stop-color="#88f549"/><stop offset=".746" stop-color="#63f1a2"/><stop offset=".968" stop-color="#50e9ef"/><stop offset=".992" stop-color="#4de4f6"/></linearGradient><linearGradient id="gd63" x2="0" y2="1"><stop offset=".003" stop-color="#b5f52b"/><stop offset=".237" stop-color="#acf52e"/><stop offset=".44" stop-color="#8cf544"/><stop offset=".824" stop-color="#63f1a2"/><stop offset=".992" stop-color="#57f0da"/></linearGradient><linearGradient id="gd64" x2="0" y2="1"><stop offset=".003" stop-color="#bbf529"/><stop offset=".237" stop-color="#b4f52b"/><stop offset=".452" stop-color="#90f540"/><stop offset=".824" stop-color="#6af38a"/><stop offset=".992" stop-color="#5df0b8"/></linearGradient><linearGradient id="gd65" x2="0" y2="1"><stop offset=".003" stop-color="#caf424"/><stop offset=".243" stop-color="#c3f526"/><stop offset=".572" stop-color="#8df542"/><stop offset=".992" stop-color="#6ef37d"/></linearGradient><linearGradient id="gd66" x2="0" y2="1"><stop offset=".003" stop-color="#e2f21d"/><stop offset=".297" stop-color="#d9f31f"/><stop offset=".566" stop-color="#b2f52c"/><stop offset=".992" stop-color="#8bf545"/></linearGradient><linearGradient id="gd67" x2="0" y2="1"><stop offset=".003" stop-color="#f4ec17"/><stop offset=".518" stop-color="#e7f11b"/><stop offset=".992" stop-color="#bdf528"/></linearGradient><linearGradient id="gd68" x2="0" y2="1"><stop offset=".003" stop-color="#ffdb11"/><stop offset=".668" stop-color="#ffdd11"/><stop offset=".992" stop-color="#ffe714"/></linearGradient><linearGradient id="gd69" x2="0" y2="1"><stop offset=".003" stop-color="#ffba0a"/><stop offset=".992" stop-color="#ffb309"/></linearGradient><linearGradient id="gd70" x2="0" y2="1"><stop offset=".003" stop-color="#ff990b"/><stop offset=".992" stop-color="#ff960c"/></linearGradient><linearGradient id="gd71" x2="0" y2="1"><stop offset=".003" stop-color="#ff5117"/><stop offset=".213" stop-color="#ff5617"/><stop offset=".644" stop-color="#ffc20b"/><stop offset=".854" stop-color="#ffc90c"/><stop offset=".992" stop-color="#ffc90c"/></linearGradient><linearGradient id="gd72" x2="0" y2="1"><stop offset=".003" stop-color="#ff5117"/><stop offset=".345" stop-color="#ff5b17"/><stop offset=".776" stop-color="#ff7113"/><stop offset=".992" stop-color="#ff7113"/></linearGradient><linearGradient id="gd73" x2="0" y2="1"><stop offset=".003" stop-color="#ff3818"/><stop offset=".213" stop-color="#ff3e19"/><stop offset=".692" stop-color="#ffb009"/><stop offset=".992" stop-color="#ffb009"/></linearGradient><linearGradient id="gd74" x2="0" y2="1"><stop offset=".003" stop-color="#ff6116"/><stop offset=".303" stop-color="#ff6a15"/><stop offset=".746" stop-color="#ff890f"/><stop offset=".992" stop-color="#ff890f"/></linearGradient><linearGradient id="gd75" x2="0" y2="1"><stop offset=".003" stop-color="#ff7912"/><stop offset=".297" stop-color="#ff8210"/><stop offset=".758" stop-color="#ffa00a"/><stop offset=".992" stop-color="#ffa00a"/></linearGradient><linearGradient id="gd76" x2="0" y2="1"><stop offset=".003" stop-color="#ffda11"/><stop offset=".992" stop-color="#ffe213"/></linearGradient><linearGradient id="gd77" x2="0" y2="1"><stop offset=".003" stop-color="#f3ec17"/><stop offset=".057" stop-color="#ffde11"/><stop offset=".183" stop-color="#ff960c"/><stop offset=".47" stop-color="#ff6b15"/><stop offset=".992" stop-color="#ff6715"/></linearGradient><linearGradient id="gd78" x2="0" y2="1"><stop offset=".003" stop-color="#c2f527"/><stop offset=".135" stop-color="#ffe513"/><stop offset=".207" stop-color="#ffb70a"/><stop offset=".464" stop-color="#ff8110"/><stop offset=".992" stop-color="#ff7912"/></linearGradient><linearGradient id="gd79" x2="0" y2="1"><stop offset=".003" stop-color="#b1f52c"/><stop offset=".183" stop-color="#ffe814"/><stop offset=".416" stop-color="#ff990b"/><stop offset=".818" stop-color="#ff890f"/><stop offset=".992" stop-color="#ff890f"/></linearGradient><linearGradient id="gd80" x2="0" y2="1"><stop offset=".003" stop-color="#a0f532"/><stop offset=".231" stop-color="#f5ec17"/><stop offset=".303" stop-color="#ffdc11"/><stop offset=".446" stop-color="#ffa509"/><stop offset=".866" stop-color="#ff980b"/><stop offset=".992" stop-color="#ff980b"/></linearGradient><linearGradient id="gd81" x2="0" y2="1"><stop offset=".003" stop-color="#99f537"/><stop offset=".327" stop-color="#fce915"/><stop offset=".452" stop-color="#ffbb0a"/><stop offset=".776" stop-color="#ffaa08"/><stop offset=".992" stop-color="#ffaa08"/></linearGradient><linearGradient id="gd82" x2="0" y2="1"><stop offset=".003" stop-color="#96f53a"/><stop offset=".207" stop-color="#c7f425"/><stop offset=".404" stop-color="#ffe213"/><stop offset=".488" stop-color="#ffd00e"/><stop offset=".764" stop-color="#ffbf0b"/><stop offset=".992" stop-color="#ffbf0b"/></linearGradient><linearGradient id="gd83" x2="0" y2="1"><stop offset=".003" stop-color="#93f53d"/><stop offset=".213" stop-color="#b7f52a"/><stop offset=".446" stop-color="#fce915"/><stop offset=".752" stop-color="#ffd40f"/><stop offset=".992" stop-color="#ffd40f"/></linearGradient><linearGradient id="gd84" x2="0" y2="1"><stop offset=".003" stop-color="#8ff540"/><stop offset=".225" stop-color="#aaf52f"/><stop offset=".452" stop-color="#eeee19"/><stop offset=".794" stop-color="#ffe814"/><stop offset=".992" stop-color="#ffe814"/></linearGradient><linearGradient id="gd85" x2="0" y2="1"><stop offset=".003" stop-color="#8ef542"/><stop offset=".249" stop-color="#a5f530"/><stop offset=".452" stop-color="#ddf31e"/><stop offset=".764" stop-color="#ebef1a"/><stop offset=".992" stop-color="#e9f01a"/></linearGradient><linearGradient id="gd86" x2="0" y2="1"><stop offset=".003" stop-color="#8df542"/><stop offset=".273" stop-color="#a4f531"/><stop offset=".452" stop-color="#c8f425"/><stop offset=".896" stop-color="#c8f425"/><stop offset=".992" stop-color="#c5f426"/></linearGradient><linearGradient id="gd87" x2="0" y2="1"><stop offset=".003" stop-color="#8df543"/><stop offset=".309" stop-color="#a2f531"/><stop offset=".446" stop-color="#b3f52c"/><stop offset=".992" stop-color="#a3f531"/></linearGradient><linearGradient id="gd88" x2="0" y2="1"><stop offset=".003" stop-color="#8cf544"/><stop offset=".452" stop-color="#9ff533"/><stop offset=".992" stop-color="#8ef541"/></linearGradient><linearGradient id="gd89" x2="0" y2="1"><stop offset=".003" stop-color="#8cf544"/><stop offset=".44" stop-color="#92f53e"/><stop offset=".992" stop-color="#7ff558"/></linearGradient><linearGradient id="gd90" x2="0" y2="1"><stop offset=".003" stop-color="#8bf545"/><stop offset=".422" stop-color="#8af547"/><stop offset=".812" stop-color="#77f466"/><stop offset=".992" stop-color="#72f472"/></linearGradient><linearGradient id="gd91" x2="0" y2="1"><stop offset=".003" stop-color="#8bf545"/><stop offset=".386" stop-color="#87f54a"/><stop offset=".602" stop-color="#75f46b"/><stop offset=".992" stop-color="#66f297"/></linearGradient><linearGradient id="gd92" x2="0" y2="1"><stop offset=".003" stop-color="#8bf545"/><stop offset=".333" stop-color="#87f54b"/><stop offset=".512" stop-color="#70f378"/><stop offset=".992" stop-color="#5cf0c0"/></linearGradient><linearGradient id="gd93" x2="0" y2="1"><stop offset=".003" stop-color="#8bf545"/><stop offset=".261" stop-color="#88f54a"/><stop offset=".392" stop-color="#7af560"/><stop offset=".524" stop-color="#66f296"/><stop offset=".986" stop-color="#50e9ef"/><stop offset=".992" stop-color="#50e8f0"/></linearGradient><linearGradient id="gd94" x2="0" y2="1"><stop offset=".003" stop-color="#8bf545"/><stop offset=".243" stop-color="#87f54b"/><stop offset=".368" stop-color="#79f462"/><stop offset=".5" stop-color="#60f1b0"/><stop offset=".782" stop-color="#50e9ef"/><stop offset=".866" stop-color="#4bd6fa"/><stop offset=".992" stop-color="#42a1fa"/></linearGradient><linearGradient id="gd95" x2="0" y2="1"><stop offset=".003" stop-color="#8bf545"/><stop offset=".237" stop-color="#86f54c"/><stop offset=".362" stop-color="#74f46b"/><stop offset=".476" stop-color="#59f0cc"/><stop offset=".632" stop-color="#4fe6f3"/><stop offset=".698" stop-color="#4bd2fa"/><stop offset=".878" stop-color="#3888fb"/><stop offset=".992" stop-color="#2f71fc"/></linearGradient><linearGradient id="gd96" x2="0" y2="1"><stop offset=".003" stop-color="#a7f530"/><stop offset=".237" stop-color="#a0f532"/><stop offset=".41" stop-color="#89f548"/><stop offset=".542" stop-color="#6ff37b"/><stop offset=".83" stop-color="#56f0e3"/><stop offset=".914" stop-color="#4bd9fa"/><stop offset=".992" stop-color="#42a3fa"/></linearGradient><linearGradient id="gd97" x2="0" y2="1"><stop offset=".003" stop-color="#b5f52b"/><stop offset=".237" stop-color="#aef52d"/><stop offset=".416" stop-color="#91f53e"/><stop offset=".626" stop-color="#6ff37a"/><stop offset=".92" stop-color="#58f0d7"/><stop offset=".992" stop-color="#50e9f0"/></linearGradient><linearGradient id="gd98" x2="0" y2="1"><stop offset=".003" stop-color="#c3f526"/><stop offset=".243" stop-color="#bcf529"/><stop offset=".392" stop-color="#a3f531"/><stop offset=".596" stop-color="#7bf55e"/><stop offset=".86" stop-color="#65f299"/><stop offset=".992" stop-color="#5cf0bf"/></linearGradient><linearGradient id="gd99" x2="0" y2="1"><stop offset=".003" stop-color="#d9f31f"/><stop offset=".267" stop-color="#d1f422"/><stop offset=".416" stop-color="#b8f52a"/><stop offset=".584" stop-color="#90f53f"/><stop offset=".992" stop-color="#72f472"/></linearGradient><linearGradient id="gd100" x2="0" y2="1"><stop offset=".003" stop-color="#f1ed18"/><stop offset=".422" stop-color="#e4f21c"/><stop offset=".716" stop-color="#b3f52c"/><stop offset=".992" stop-color="#9af537"/></linearGradient><linearGradient id="gd101" x2="0" y2="1"><stop offset=".003" stop-color="#ffdb11"/><stop offset=".674" stop-color="#f8eb16"/><stop offset=".992" stop-color="#ecef1a"/></linearGradient><linearGradient id="gd102" x2="0" y2="1"><stop offset=".003" stop-color="#ff6116"/><stop offset=".273" stop-color="#ff6915"/><stop offset=".734" stop-color="#ff910d"/><stop offset=".992" stop-color="#ff910d"/></linearGradient><linearGradient id="gd103" x2="0" y2="1"><stop offset=".003" stop-color="#ff6116"/><stop offset=".243" stop-color="#ff6815"/><stop offset=".716" stop-color="#ffa00a"/><stop offset=".992" stop-color="#ffa00a"/></linearGradient><linearGradient id="gd104" x2="0" y2="1"><stop offset=".003" stop-color="#ff8110"/><stop offset=".273" stop-color="#ff890e"/><stop offset=".74" stop-color="#ffb009"/><stop offset=".992" stop-color="#ffb009"/></linearGradient><linearGradient id="gd105" x2="0" y2="1"><stop offset=".003" stop-color="#ffc10b"/><stop offset=".273" stop-color="#ffc90c"/><stop offset=".65" stop-color="#faea16"/><stop offset=".992" stop-color="#f8ea16"/></linearGradient><linearGradient id="gd106" x2="0" y2="1"><stop offset=".003" stop-color="#ffe213"/><stop offset=".992" stop-color="#f8ea16"/></linearGradient><linearGradient id="gd107" x2="0" y2="1"><stop offset=".003" stop-color="#ffc10b"/><stop offset=".213" stop-color="#ff7712"/><stop offset=".5" stop-color="#ff5e16"/><stop offset=".992" stop-color="#ff5c17"/></linearGradient><linearGradient id="gd108" x2="0" y2="1"><stop offset=".003" stop-color="#cbf424"/><stop offset=".117" stop-color="#ffe112"/><stop offset=".201" stop-color="#ffa608"/><stop offset=".476" stop-color="#ff7812"/><stop offset=".992" stop-color="#ff7113"/></linearGradient><linearGradient id="gd109" x2="0" y2="1"><stop offset=".003" stop-color="#b9f52a"/><stop offset=".159" stop-color="#ffe613"/><stop offset=".225" stop-color="#ffc50c"/><stop offset=".458" stop-color="#ff8b0e"/><stop offset=".992" stop-color="#ff8110"/></linearGradient><linearGradient id="gd110" x2="0" y2="1"><stop offset=".003" stop-color="#a8f52f"/><stop offset=".219" stop-color="#fde915"/><stop offset=".452" stop-color="#ff9c0a"/><stop offset=".914" stop-color="#ff910d"/><stop offset=".992" stop-color="#ff910d"/></linearGradient><linearGradient id="gd111" x2="0" y2="1"><stop offset=".003" stop-color="#9bf536"/><stop offset=".309" stop-color="#ffe814"/><stop offset=".446" stop-color="#ffaf09"/><stop offset=".812" stop-color="#ffa00a"/><stop offset=".992" stop-color="#ffa00a"/></linearGradient><linearGradient id="gd112" x2="0" y2="1"><stop offset=".003" stop-color="#98f539"/><stop offset=".219" stop-color="#d4f321"/><stop offset=".374" stop-color="#ffe313"/><stop offset=".458" stop-color="#ffc70c"/><stop offset=".764" stop-color="#ffb40a"/><stop offset=".992" stop-color="#ffb40a"/></linearGradient><linearGradient id="gd113" x2="0" y2="1"><stop offset=".003" stop-color="#94f53c"/><stop offset=".219" stop-color="#c1f527"/><stop offset=".428" stop-color="#ffe413"/><stop offset=".74" stop-color="#ffc90c"/><stop offset=".992" stop-color="#ffc90c"/></linearGradient><linearGradient id="gd114" x2="0" y2="1"><stop offset=".003" stop-color="#91f53e"/><stop offset=".219" stop-color="#b0f52d"/><stop offset=".446" stop-color="#f4ec17"/><stop offset=".758" stop-color="#ffde12"/><stop offset=".992" stop-color="#ffde12"/></linearGradient><linearGradient id="gd115" x2="0" y2="1"><stop offset=".003" stop-color="#8ef541"/><stop offset=".237" stop-color="#a5f530"/><stop offset=".458" stop-color="#e7f11b"/><stop offset=".77" stop-color="#f8ea16"/><stop offset=".992" stop-color="#f8ea16"/></linearGradient><linearGradient id="gd116" x2="0" y2="1"><stop offset=".003" stop-color="#8df542"/><stop offset=".255" stop-color="#a4f531"/><stop offset=".452" stop-color="#d2f322"/><stop offset=".758" stop-color="#dcf31e"/><stop offset=".992" stop-color="#d8f320"/></linearGradient><linearGradient id="gd117" x2="0" y2="1"><stop offset=".003" stop-color="#8df543"/><stop offset=".285" stop-color="#a2f531"/><stop offset=".446" stop-color="#bdf528"/><stop offset=".992" stop-color="#b4f52b"/></linearGradient><linearGradient id="gd118" x2="0" y2="1"><stop offset=".003" stop-color="#8cf543"/><stop offset=".345" stop-color="#a3f531"/><stop offset=".5" stop-color="#a7f530"/><stop offset=".992" stop-color="#98f539"/></linearGradient><linearGradient id="gd119" x2="0" y2="1"><stop offset=".003" stop-color="#8cf544"/><stop offset=".452" stop-color="#98f539"/><stop offset=".992" stop-color="#86f54c"/></linearGradient><linearGradient id="gd120" x2="0" y2="1"><stop offset=".003" stop-color="#8bf545"/><stop offset=".428" stop-color="#8cf543"/><stop offset=".992" stop-color="#78f465"/></linearGradient><linearGradient id="gd121" x2="0" y2="1"><stop offset=".003" stop-color="#8bf545"/><stop offset=".404" stop-color="#88f549"/><stop offset=".656" stop-color="#77f466"/><stop offset=".992" stop-color="#6cf385"/></linearGradient><linearGradient id="gd122" x2="0" y2="1"><stop offset=".003" stop-color="#8bf545"/><stop offset=".362" stop-color="#88f54a"/><stop offset=".62" stop-color="#6ff37a"/><stop offset=".992" stop-color="#61f1ac"/></linearGradient><linearGradient id="gd123" x2="0" y2="1"><stop offset=".003" stop-color="#8bf545"/><stop offset=".297" stop-color="#87f54b"/><stop offset=".41" stop-color="#7bf55f"/><stop offset=".542" stop-color="#6af38b"/><stop offset=".992" stop-color="#57f0db"/></linearGradient><linearGradient id="gd124" x2="0" y2="1"><stop offset=".003" stop-color="#8bf545"/><stop offset=".255" stop-color="#87f54b"/><stop offset=".38" stop-color="#7af561"/><stop offset=".512" stop-color="#63f1a3"/><stop offset=".878" stop-color="#50e9ef"/><stop offset=".968" stop-color="#4bd5fa"/><stop offset=".992" stop-color="#4bcbfa"/></linearGradient><linearGradient id="gd125" x2="0" y2="1"><stop offset=".003" stop-color="#8bf545"/><stop offset=".237" stop-color="#87f54b"/><stop offset=".368" stop-color="#76f468"/><stop offset=".488" stop-color="#5cf0bd"/><stop offset=".704" stop-color="#4fe8f1"/><stop offset=".782" stop-color="#4bd2fa"/><stop offset=".968" stop-color="#3889fb"/><stop offset=".992" stop-color="#3684fb"/></linearGradient><linearGradient id="gd126" x2="0" y2="1"><stop offset=".003" stop-color="#9ef534"/><stop offset=".285" stop-color="#91f53f"/><stop offset=".41" stop-color="#80f555"/><stop offset=".512" stop-color="#6bf388"/><stop offset=".596" stop-color="#5ff1b2"/><stop offset=".746" stop-color="#50e9f0"/><stop offset=".794" stop-color="#4bd4fa"/><stop offset=".908" stop-color="#3888fb"/><stop offset=".992" stop-color="#2d6bfc"/></linearGradient><linearGradient id="gd127" x2="0" y2="1"><stop offset=".003" stop-color="#a4f531"/><stop offset=".303" stop-color="#95f53b"/><stop offset=".416" stop-color="#84f54f"/><stop offset=".53" stop-color="#6df381"/><stop offset=".812" stop-color="#50e9ef"/><stop offset=".866" stop-color="#4bd3fa"/><stop offset=".98" stop-color="#3889fb"/><stop offset=".992" stop-color="#3785fb"/></linearGradient><linearGradient id="gd128" x2="0" y2="1"><stop offset=".003" stop-color="#acf52e"/><stop offset=".243" stop-color="#a1f532"/><stop offset=".41" stop-color="#8bf546"/><stop offset=".638" stop-color="#66f296"/><stop offset=".884" stop-color="#51eaee"/><stop offset=".938" stop-color="#4bd6fa"/><stop offset=".992" stop-color="#47b0fa"/></linearGradient><linearGradient id="gd129" x2="0" y2="1"><stop offset=".003" stop-color="#b5f52b"/><stop offset=".243" stop-color="#abf52e"/><stop offset=".422" stop-color="#8ef541"/><stop offset=".65" stop-color="#6bf386"/><stop offset=".932" stop-color="#55f0e4"/><stop offset=".992" stop-color="#4de4f6"/></linearGradient><linearGradient id="gd130" x2="0" y2="1"><stop offset=".003" stop-color="#bdf528"/><stop offset=".249" stop-color="#b4f52b"/><stop offset=".422" stop-color="#95f53b"/><stop offset=".632" stop-color="#73f46d"/><stop offset=".986" stop-color="#58f0d7"/><stop offset=".992" stop-color="#57f0da"/></linearGradient><linearGradient id="gd131" x2="0" y2="1"><stop offset=".003" stop-color="#c6f425"/><stop offset=".237" stop-color="#bff528"/><stop offset=".398" stop-color="#a3f531"/><stop offset=".602" stop-color="#7cf55c"/><stop offset=".872" stop-color="#66f296"/><stop offset=".992" stop-color="#5df0b8"/></linearGradient><linearGradient id="gd132" x2="0" y2="1"><stop offset=".003" stop-color="#d9f31f"/><stop offset=".267" stop-color="#d1f422"/><stop offset=".416" stop-color="#b8f52a"/><stop offset=".584" stop-color="#90f53f"/><stop offset=".992" stop-color="#72f472"/></linearGradient><linearGradient id="gd133" x2="0" y2="1"><stop offset=".003" stop-color="#f1ed18"/><stop offset=".422" stop-color="#e4f21c"/><stop offset=".716" stop-color="#b3f52c"/><stop offset=".992" stop-color="#9af537"/></linearGradient><linearGradient id="gd134" x2="0" y2="1"><stop offset=".003" stop-color="#ffdb11"/><stop offset=".674" stop-color="#f8eb16"/><stop offset=".992" stop-color="#ecef1a"/></linearGradient><linearGradient id="gd135" x2="0" y2="1"><stop offset=".003" stop-color="#ff5117"/><stop offset=".243" stop-color="#ff5817"/><stop offset=".716" stop-color="#ff910d"/><stop offset=".992" stop-color="#ff910d"/></linearGradient><linearGradient id="gd136" x2="0" y2="1"><stop offset=".003" stop-color="#ff5117"/><stop offset=".213" stop-color="#ff5617"/><stop offset=".644" stop-color="#ffc20b"/><stop offset=".854" stop-color="#ffc90c"/><stop offset=".992" stop-color="#ffc90c"/></linearGradient><linearGradient id="gd137" x2="0" y2="1"><stop offset=".003" stop-color="#ff5117"/><stop offset=".261" stop-color="#ff5917"/><stop offset=".722" stop-color="#ff890f"/><stop offset=".992" stop-color="#ff890f"/></linearGradient><linearGradient id="gd138" x2="0" y2="1"><stop offset=".003" stop-color="#ff5117"/><stop offset=".303" stop-color="#ff5a17"/><stop offset=".746" stop-color="#ff7912"/><stop offset=".992" stop-color="#ff7912"/></linearGradient><linearGradient id="gd139" x2="0" y2="1"><stop offset=".003" stop-color="#ff890f"/><stop offset=".506" stop-color="#ff980b"/><stop offset=".992" stop-color="#ffa00a"/></linearGradient><linearGradient id="gd140" x2="0" y2="1"><stop offset=".003" stop-color="#e5f11c"/><stop offset=".087" stop-color="#ffde11"/><stop offset=".201" stop-color="#ff980b"/><stop offset=".482" stop-color="#ff7014"/><stop offset=".992" stop-color="#ff6b15"/></linearGradient><linearGradient id="gd141" x2="0" y2="1"><stop offset=".003" stop-color="#bef528"/><stop offset=".147" stop-color="#ffe313"/><stop offset=".213" stop-color="#ffbd0b"/><stop offset=".464" stop-color="#ff850f"/><stop offset=".992" stop-color="#ff7d11"/></linearGradient><linearGradient id="gd142" x2="0" y2="1"><stop offset=".003" stop-color="#adf52e"/><stop offset=".201" stop-color="#ffe714"/><stop offset=".44" stop-color="#ff980b"/><stop offset=".896" stop-color="#ff8c0e"/><stop offset=".992" stop-color="#ff8c0e"/></linearGradient><linearGradient id="gd143" x2="0" y2="1"><stop offset=".003" stop-color="#9ef534"/><stop offset=".255" stop-color="#f7eb17"/><stop offset=".327" stop-color="#ffd710"/><stop offset=".446" stop-color="#ffa908"/><stop offset=".842" stop-color="#ff9b0b"/><stop offset=".992" stop-color="#ff9b0b"/></linearGradient><linearGradient id="gd144" x2="0" y2="1"><stop offset=".003" stop-color="#99f538"/><stop offset=".327" stop-color="#f9ea16"/><stop offset=".41" stop-color="#ffcb0d"/><stop offset=".506" stop-color="#ffbb0a"/><stop offset=".806" stop-color="#ffae09"/><stop offset=".992" stop-color="#ffae09"/></linearGradient><linearGradient id="gd145" x2="0" y2="1"><stop offset=".003" stop-color="#95f53b"/><stop offset=".225" stop-color="#c9f424"/><stop offset=".416" stop-color="#ffe212"/><stop offset=".722" stop-color="#ffc30b"/><stop offset=".992" stop-color="#ffc30b"/></linearGradient><linearGradient id="gd146" x2="0" y2="1"><stop offset=".003" stop-color="#92f53e"/><stop offset=".225" stop-color="#b7f52a"/><stop offset=".446" stop-color="#f9ea16"/><stop offset=".776" stop-color="#ffd810"/><stop offset=".992" stop-color="#ffd810"/></linearGradient><linearGradient id="gd147" x2="0" y2="1"><stop offset=".003" stop-color="#8ff540"/><stop offset=".231" stop-color="#a8f52f"/><stop offset=".452" stop-color="#ebf01a"/><stop offset=".782" stop-color="#fce915"/><stop offset=".992" stop-color="#fce915"/></linearGradient><linearGradient id="gd148" x2="0" y2="1"><stop offset=".003" stop-color="#8ef542"/><stop offset=".249" stop-color="#a4f531"/><stop offset=".452" stop-color="#d9f320"/><stop offset=".77" stop-color="#e6f11b"/><stop offset=".992" stop-color="#e3f21c"/></linearGradient><linearGradient id="gd149" x2="0" y2="1"><stop offset=".003" stop-color="#8df542"/><stop offset=".273" stop-color="#a2f531"/><stop offset=".446" stop-color="#c3f526"/><stop offset=".884" stop-color="#c1f527"/><stop offset=".992" stop-color="#bdf528"/></linearGradient><linearGradient id="gd150" x2="0" y2="1"><stop offset=".003" stop-color="#8cf543"/><stop offset=".333" stop-color="#a4f531"/><stop offset=".452" stop-color="#aff52d"/><stop offset=".992" stop-color="#9ef534"/></linearGradient><linearGradient id="gd151" x2="0" y2="1"><stop offset=".003" stop-color="#8cf544"/><stop offset=".458" stop-color="#9cf536"/><stop offset=".992" stop-color="#8bf545"/></linearGradient><linearGradient id="gd152" x2="0" y2="1"><stop offset=".003" stop-color="#8bf545"/><stop offset=".446" stop-color="#8ff541"/><stop offset=".992" stop-color="#7cf55d"/></linearGradient><linearGradient id="gd153" x2="0" y2="1"><stop offset=".003" stop-color="#8bf545"/><stop offset=".416" stop-color="#89f548"/><stop offset=".728" stop-color="#78f465"/><stop offset=".992" stop-color="#6ff37a"/></linearGradient><linearGradient id="gd154" x2="0" y2="1"><stop offset=".003" stop-color="#8bf545"/><stop offset=".374" stop-color="#88f54a"/><stop offset=".608" stop-color="#72f470"/><stop offset=".992" stop-color="#64f29f"/></linearGradient><linearGradient id="gd155" x2="0" y2="1"><stop offset=".003" stop-color="#8bf545"/><stop offset=".315" stop-color="#87f54b"/><stop offset=".44" stop-color="#78f464"/><stop offset=".554" stop-color="#6cf384"/><stop offset=".992" stop-color="#5af0cb"/></linearGradient><linearGradient id="gd156" x2="0" y2="1"><stop offset=".003" stop-color="#8bf545"/><stop offset=".255" stop-color="#88f54a"/><stop offset=".386" stop-color="#7af560"/><stop offset=".518" stop-color="#65f29b"/><stop offset=".944" stop-color="#50e9f0"/><stop offset=".992" stop-color="#4ce3f8"/></linearGradient><linearGradient id="gd157" x2="0" y2="1"><stop offset=".003" stop-color="#8bf545"/><stop offset=".243" stop-color="#87f54b"/><stop offset=".374" stop-color="#76f467"/><stop offset=".494" stop-color="#5ef0b5"/><stop offset=".746" stop-color="#50e9ef"/><stop offset=".83" stop-color="#4bd5fa"/><stop offset=".992" stop-color="#3b92fa"/></linearGradient><linearGradient id="gd158" x2="0" y2="1"><stop offset=".003" stop-color="#8bf545"/><stop offset=".231" stop-color="#86f54c"/><stop offset=".362" stop-color="#73f46e"/><stop offset=".47" stop-color="#58f0d3"/><stop offset=".638" stop-color="#4be1fa"/><stop offset=".782" stop-color="#409dfa"/><stop offset=".974" stop-color="#2d6dfc"/><stop offset=".992" stop-color="#2c69fc"/></linearGradient><linearGradient id="gd159" x2="0" y2="1"><stop offset=".003" stop-color="#abf52e"/><stop offset=".225" stop-color="#a0f532"/><stop offset=".404" stop-color="#87f54b"/><stop offset=".536" stop-color="#6df380"/><stop offset=".836" stop-color="#50e9f0"/><stop offset=".884" stop-color="#4bd6fa"/><stop offset=".992" stop-color="#3a8dfa"/></linearGradient><linearGradient id="gd160" x2="0" y2="1"><stop offset=".003" stop-color="#b1f52c"/><stop offset=".237" stop-color="#a6f530"/><stop offset=".416" stop-color="#8af546"/><stop offset=".68" stop-color="#65f298"/><stop offset=".926" stop-color="#51e9ef"/><stop offset=".98" stop-color="#4bd6fa"/><stop offset=".992" stop-color="#4bcdfa"/></linearGradient><linearGradient id="gd161" x2="0" y2="1"><stop offset=".003" stop-color="#b6f52b"/><stop offset=".231" stop-color="#aef52d"/><stop offset=".428" stop-color="#8ef541"/><stop offset=".692" stop-color="#6cf383"/><stop offset=".98" stop-color="#56f0df"/><stop offset=".992" stop-color="#55f0e4"/></linearGradient><linearGradient id="gd162" x2="0" y2="1"><stop offset=".003" stop-color="#bcf529"/><stop offset=".243" stop-color="#b4f52b"/><stop offset=".44" stop-color="#93f53d"/><stop offset=".68" stop-color="#75f46a"/><stop offset=".992" stop-color="#5df0bb"/></linearGradient><linearGradient id="gd163" x2="0" y2="1"><stop offset=".003" stop-color="#c8f425"/><stop offset=".261" stop-color="#c0f527"/><stop offset=".422" stop-color="#a7f530"/><stop offset=".638" stop-color="#86f54c"/><stop offset=".962" stop-color="#6ef37d"/><stop offset=".992" stop-color="#6cf384"/></linearGradient><linearGradient id="gd164" x2="0" y2="1"><stop offset=".003" stop-color="#daf31f"/><stop offset=".368" stop-color="#cff423"/><stop offset=".668" stop-color="#9bf536"/><stop offset=".992" stop-color="#84f54f"/></linearGradient><linearGradient id="gd165" x2="0" y2="1"><stop offset=".003" stop-color="#ebf01a"/><stop offset=".452" stop-color="#e1f21d"/><stop offset=".992" stop-color="#a3f531"/></linearGradient><linearGradient id="gd166" x2="0" y2="1"><stop offset=".003" stop-color="#f9ea16"/><stop offset=".542" stop-color="#f6eb17"/><stop offset=".992" stop-color="#dff21e"/></linearGradient><linearGradient id="gd167" x2="0" y2="1"><stop offset=".003" stop-color="#ffda11"/><stop offset=".339" stop-color="#ffd00e"/><stop offset=".968" stop-color="#ffc90c"/><stop offset=".992" stop-color="#ffc90c"/></linearGradient><linearGradient id="gd168" x2="0" y2="1"><stop offset=".003" stop-color="#ffaa08"/><stop offset=".992" stop-color="#ffa00a"/></linearGradient><linearGradient id="gd169" x2="0" y2="1"><stop offset=".003" stop-color="#ff7f11"/><stop offset=".992" stop-color="#ff7912"/></linearGradient></defs><g clip-path="url(#cpd)"><rect x="329" y="228" width="6.3" height="166.9" fill="#ff4019"/><rect x="335" y="228" width="4.3" height="166.9" fill="url(#gd1)"/><rect x="339" y="228" width="1.3" height="166.9" fill="url(#gd2)"/><rect x="340" y="228" width="1.3" height="166.9" fill="url(#gd3)"/><rect x="341" y="228" width="1.3" height="166.9" fill="url(#gd4)"/><rect x="342" y="228" width="1.3" height="166.9" fill="url(#gd5)"/><rect x="343" y="228" width="1.3" height="166.9" fill="url(#gd6)"/><rect x="344" y="228" width="1.3" height="166.9" fill="url(#gd7)"/><rect x="345" y="228" width="1.3" height="166.9" fill="url(#gd8)"/><rect x="346" y="228" width="1.3" height="166.9" fill="url(#gd9)"/><rect x="347" y="228" width="1.3" height="166.9" fill="url(#gd10)"/><rect x="348" y="228" width="1.3" height="166.9" fill="url(#gd11)"/><rect x="349" y="228" width="1.3" height="166.9" fill="url(#gd12)"/><rect x="350" y="228" width="1.3" height="166.9" fill="url(#gd13)"/><rect x="351" y="228" width="1.3" height="166.9" fill="url(#gd14)"/><rect x="352" y="228" width="1.3" height="166.9" fill="url(#gd15)"/><rect x="353" y="228" width="1.3" height="166.9" fill="url(#gd16)"/><rect x="354" y="228" width="1.3" height="166.9" fill="url(#gd17)"/><rect x="355" y="228" width="1.3" height="166.9" fill="url(#gd18)"/><rect x="356" y="228" width="1.3" height="166.9" fill="url(#gd19)"/><rect x="357" y="228" width="1.3" height="166.9" fill="url(#gd20)"/><rect x="358" y="228" width="1.3" height="166.9" fill="url(#gd21)"/><rect x="359" y="228" width="1.3" height="166.9" fill="url(#gd22)"/><rect x="360" y="228" width="1.3" height="166.9" fill="url(#gd23)"/><rect x="361" y="228" width="1.3" height="166.9" fill="url(#gd24)"/><rect x="362" y="228" width="1.3" height="166.9" fill="url(#gd25)"/><rect x="363" y="228" width="1.3" height="166.9" fill="url(#gd26)"/><rect x="364" y="228" width="1.3" height="166.9" fill="url(#gd27)"/><rect x="365" y="228" width="1.3" height="166.9" fill="url(#gd28)"/><rect x="366" y="228" width="1.3" height="166.9" fill="url(#gd29)"/><rect x="367" y="228" width="1.3" height="166.9" fill="url(#gd30)"/><rect x="368" y="228" width="1.3" height="166.9" fill="url(#gd31)"/><rect x="369" y="228" width="1.3" height="166.9" fill="url(#gd32)"/><rect x="370" y="228" width="1.3" height="166.9" fill="url(#gd33)"/><rect x="371" y="228" width="1.3" height="166.9" fill="#ffc40c"/><rect x="372" y="228" width="1.3" height="166.9" fill="#ff960c"/><rect x="373" y="228" width="1.3" height="166.9" fill="#ff6815"/><rect x="374" y="228" width="4.3" height="166.9" fill="#ff5117"/><rect x="378" y="228" width="1.3" height="166.9" fill="url(#gd34)"/><rect x="379" y="228" width="3.3" height="166.9" fill="#ff5117"/><rect x="382" y="228" width="2.3" height="166.9" fill="url(#gd35)"/><rect x="384" y="228" width="2.3" height="166.9" fill="#ff5117"/><rect x="386" y="228" width="4.3" height="166.9" fill="url(#gd36)"/><rect x="390" y="228" width="3.3" height="166.9" fill="#ff6116"/><rect x="393" y="228" width="1.3" height="166.9" fill="url(#gd37)"/><rect x="394" y="228" width="1.3" height="166.9" fill="url(#gd38)"/><rect x="395" y="228" width="1.3" height="166.9" fill="url(#gd39)"/><rect x="396" y="228" width="1.3" height="166.9" fill="url(#gd40)"/><rect x="397" y="228" width="1.3" height="166.9" fill="url(#gd41)"/><rect x="398" y="228" width="1.3" height="166.9" fill="url(#gd42)"/><rect x="399" y="228" width="1.3" height="166.9" fill="url(#gd43)"/><rect x="400" y="228" width="1.3" height="166.9" fill="url(#gd44)"/><rect x="401" y="228" width="1.3" height="166.9" fill="url(#gd45)"/><rect x="402" y="228" width="1.3" height="166.9" fill="url(#gd46)"/><rect x="403" y="228" width="1.3" height="166.9" fill="url(#gd47)"/><rect x="404" y="228" width="1.3" height="166.9" fill="url(#gd48)"/><rect x="405" y="228" width="1.3" height="166.9" fill="url(#gd49)"/><rect x="406" y="228" width="1.3" height="166.9" fill="url(#gd50)"/><rect x="407" y="228" width="1.3" height="166.9" fill="url(#gd51)"/><rect x="408" y="228" width="1.3" height="166.9" fill="url(#gd52)"/><rect x="409" y="228" width="1.3" height="166.9" fill="url(#gd53)"/><rect x="410" y="228" width="1.3" height="166.9" fill="url(#gd54)"/><rect x="411" y="228" width="1.3" height="166.9" fill="url(#gd55)"/><rect x="412" y="228" width="1.3" height="166.9" fill="url(#gd56)"/><rect x="413" y="228" width="1.3" height="166.9" fill="url(#gd57)"/><rect x="414" y="228" width="1.3" height="166.9" fill="url(#gd58)"/><rect x="415" y="228" width="1.3" height="166.9" fill="url(#gd59)"/><rect x="416" y="228" width="1.3" height="166.9" fill="url(#gd60)"/><rect x="417" y="228" width="1.3" height="166.9" fill="url(#gd61)"/><rect x="418" y="228" width="1.3" height="166.9" fill="url(#gd62)"/><rect x="419" y="228" width="1.3" height="166.9" fill="url(#gd63)"/><rect x="420" y="228" width="1.3" height="166.9" fill="url(#gd64)"/><rect x="421" y="228" width="1.3" height="166.9" fill="url(#gd65)"/><rect x="422" y="228" width="1.3" height="166.9" fill="url(#gd66)"/><rect x="423" y="228" width="1.3" height="166.9" fill="url(#gd67)"/><rect x="424" y="228" width="1.3" height="166.9" fill="url(#gd68)"/><rect x="425" y="228" width="1.3" height="166.9" fill="url(#gd69)"/><rect x="426" y="228" width="1.3" height="166.9" fill="url(#gd70)"/><rect x="427" y="228" width="1.3" height="166.9" fill="#ff7912"/><rect x="428" y="228" width="1.3" height="166.9" fill="#ff6915"/><rect x="429" y="228" width="1.3" height="166.9" fill="#ff5917"/><rect x="430" y="228" width="1.3" height="166.9" fill="#ff5117"/><rect x="431" y="228" width="1.3" height="166.9" fill="url(#gd71)"/><rect x="432" y="228" width="2.3" height="166.9" fill="url(#gd72)"/><rect x="434" y="228" width="1.3" height="166.9" fill="url(#gd73)"/><rect x="435" y="228" width="6.3" height="166.9" fill="#fe2914"/><rect x="441" y="228" width="3.3" height="166.9" fill="url(#gd74)"/><rect x="444" y="228" width="2.3" height="166.9" fill="url(#gd75)"/><rect x="446" y="228" width="2.3" height="166.9" fill="url(#gd76)"/><rect x="448" y="228" width="1.3" height="166.9" fill="url(#gd77)"/><rect x="449" y="228" width="1.3" height="166.9" fill="url(#gd78)"/><rect x="450" y="228" width="1.3" height="166.9" fill="url(#gd79)"/><rect x="451" y="228" width="1.3" height="166.9" fill="url(#gd80)"/><rect x="452" y="228" width="1.3" height="166.9" fill="url(#gd81)"/><rect x="453" y="228" width="1.3" height="166.9" fill="url(#gd82)"/><rect x="454" y="228" width="1.3" height="166.9" fill="url(#gd83)"/><rect x="455" y="228" width="1.3" height="166.9" fill="url(#gd84)"/><rect x="456" y="228" width="1.3" height="166.9" fill="url(#gd85)"/><rect x="457" y="228" width="1.3" height="166.9" fill="url(#gd86)"/><rect x="458" y="228" width="1.3" height="166.9" fill="url(#gd87)"/><rect x="459" y="228" width="1.3" height="166.9" fill="url(#gd88)"/><rect x="460" y="228" width="1.3" height="166.9" fill="url(#gd89)"/><rect x="461" y="228" width="1.3" height="166.9" fill="url(#gd90)"/><rect x="462" y="228" width="1.3" height="166.9" fill="url(#gd91)"/><rect x="463" y="228" width="1.3" height="166.9" fill="url(#gd92)"/><rect x="464" y="228" width="1.3" height="166.9" fill="url(#gd93)"/><rect x="465" y="228" width="1.3" height="166.9" fill="url(#gd94)"/><rect x="466" y="228" width="1.3" height="166.9" fill="url(#gd95)"/><rect x="467" y="228" width="1.3" height="166.9" fill="url(#gd96)"/><rect x="468" y="228" width="1.3" height="166.9" fill="url(#gd97)"/><rect x="469" y="228" width="1.3" height="166.9" fill="url(#gd98)"/><rect x="470" y="228" width="1.3" height="166.9" fill="url(#gd99)"/><rect x="471" y="228" width="1.3" height="166.9" fill="url(#gd100)"/><rect x="472" y="228" width="1.3" height="166.9" fill="url(#gd101)"/><rect x="473" y="228" width="1.3" height="166.9" fill="#ffb70a"/><rect x="474" y="228" width="1.3" height="166.9" fill="#ff950c"/><rect x="475" y="228" width="1.3" height="166.9" fill="#ff7313"/><rect x="476" y="228" width="9.3" height="166.9" fill="#ff6116"/><rect x="485" y="228" width="1.3" height="166.9" fill="url(#gd102)"/><rect x="486" y="228" width="2.3" height="166.9" fill="#ff6116"/><rect x="488" y="228" width="2.3" height="166.9" fill="url(#gd103)"/><rect x="490" y="228" width="3.3" height="166.9" fill="url(#gd104)"/><rect x="493" y="228" width="2.3" height="166.9" fill="url(#gd105)"/><rect x="495" y="228" width="2.3" height="166.9" fill="url(#gd106)"/><rect x="497" y="228" width="1.3" height="166.9" fill="url(#gd107)"/><rect x="498" y="228" width="1.3" height="166.9" fill="url(#gd108)"/><rect x="499" y="228" width="1.3" height="166.9" fill="url(#gd109)"/><rect x="500" y="228" width="1.3" height="166.9" fill="url(#gd110)"/><rect x="501" y="228" width="1.3" height="166.9" fill="url(#gd111)"/><rect x="502" y="228" width="1.3" height="166.9" fill="url(#gd112)"/><rect x="503" y="228" width="1.3" height="166.9" fill="url(#gd113)"/><rect x="504" y="228" width="1.3" height="166.9" fill="url(#gd114)"/><rect x="505" y="228" width="1.3" height="166.9" fill="url(#gd115)"/><rect x="506" y="228" width="1.3" height="166.9" fill="url(#gd116)"/><rect x="507" y="228" width="1.3" height="166.9" fill="url(#gd117)"/><rect x="508" y="228" width="1.3" height="166.9" fill="url(#gd118)"/><rect x="509" y="228" width="1.3" height="166.9" fill="url(#gd119)"/><rect x="510" y="228" width="1.3" height="166.9" fill="url(#gd120)"/><rect x="511" y="228" width="1.3" height="166.9" fill="url(#gd121)"/><rect x="512" y="228" width="1.3" height="166.9" fill="url(#gd122)"/><rect x="513" y="228" width="1.3" height="166.9" fill="url(#gd123)"/><rect x="514" y="228" width="1.3" height="166.9" fill="url(#gd124)"/><rect x="515" y="228" width="1.3" height="166.9" fill="url(#gd125)"/><rect x="516" y="228" width="1.3" height="166.9" fill="url(#gd126)"/><rect x="517" y="228" width="1.3" height="166.9" fill="url(#gd127)"/><rect x="518" y="228" width="1.3" height="166.9" fill="url(#gd128)"/><rect x="519" y="228" width="1.3" height="166.9" fill="url(#gd129)"/><rect x="520" y="228" width="1.3" height="166.9" fill="url(#gd130)"/><rect x="521" y="228" width="1.3" height="166.9" fill="url(#gd131)"/><rect x="522" y="228" width="1.3" height="166.9" fill="url(#gd132)"/><rect x="523" y="228" width="1.3" height="166.9" fill="url(#gd133)"/><rect x="524" y="228" width="1.3" height="166.9" fill="url(#gd134)"/><rect x="525" y="228" width="1.3" height="166.9" fill="#ffb40a"/><rect x="526" y="228" width="1.3" height="166.9" fill="#ff8d0e"/><rect x="527" y="228" width="1.3" height="166.9" fill="#ff6516"/><rect x="528" y="228" width="5.3" height="166.9" fill="#ff5117"/><rect x="533" y="228" width="2.3" height="166.9" fill="url(#gd135)"/><rect x="535" y="228" width="3.3" height="166.9" fill="#ff4019"/><rect x="538" y="228" width="1.3" height="166.9" fill="url(#gd136)"/><rect x="539" y="228" width="6.3" height="166.9" fill="url(#gd137)"/><rect x="545" y="228" width="2.3" height="166.9" fill="url(#gd138)"/><rect x="547" y="228" width="2.3" height="166.9" fill="url(#gd139)"/><rect x="549" y="228" width="1.3" height="166.9" fill="url(#gd140)"/><rect x="550" y="228" width="1.3" height="166.9" fill="url(#gd141)"/><rect x="551" y="228" width="1.3" height="166.9" fill="url(#gd142)"/><rect x="552" y="228" width="1.3" height="166.9" fill="url(#gd143)"/><rect x="553" y="228" width="1.3" height="166.9" fill="url(#gd144)"/><rect x="554" y="228" width="1.3" height="166.9" fill="url(#gd145)"/><rect x="555" y="228" width="1.3" height="166.9" fill="url(#gd146)"/><rect x="556" y="228" width="1.3" height="166.9" fill="url(#gd147)"/><rect x="557" y="228" width="1.3" height="166.9" fill="url(#gd148)"/><rect x="558" y="228" width="1.3" height="166.9" fill="url(#gd149)"/><rect x="559" y="228" width="1.3" height="166.9" fill="url(#gd150)"/><rect x="560" y="228" width="1.3" height="166.9" fill="url(#gd151)"/><rect x="561" y="228" width="1.3" height="166.9" fill="url(#gd152)"/><rect x="562" y="228" width="1.3" height="166.9" fill="url(#gd153)"/><rect x="563" y="228" width="1.3" height="166.9" fill="url(#gd154)"/><rect x="564" y="228" width="1.3" height="166.9" fill="url(#gd155)"/><rect x="565" y="228" width="1.3" height="166.9" fill="url(#gd156)"/><rect x="566" y="228" width="1.3" height="166.9" fill="url(#gd157)"/><rect x="567" y="228" width="1.3" height="166.9" fill="url(#gd158)"/><rect x="568" y="228" width="1.3" height="166.9" fill="url(#gd159)"/><rect x="569" y="228" width="1.3" height="166.9" fill="url(#gd160)"/><rect x="570" y="228" width="1.3" height="166.9" fill="url(#gd161)"/><rect x="571" y="228" width="1.3" height="166.9" fill="url(#gd162)"/><rect x="572" y="228" width="1.3" height="166.9" fill="url(#gd163)"/><rect x="573" y="228" width="1.3" height="166.9" fill="url(#gd164)"/><rect x="574" y="228" width="1.3" height="166.9" fill="url(#gd165)"/><rect x="575" y="228" width="1.3" height="166.9" fill="url(#gd166)"/><rect x="576" y="228" width="1.3" height="166.9" fill="url(#gd167)"/><rect x="577" y="228" width="1.3" height="166.9" fill="url(#gd168)"/><rect x="578" y="228" width="1.3" height="166.9" fill="url(#gd169)"/><rect x="579" y="228" width="5.05" height="166.9" fill="#ff5117"/><polygon points="344.9,244.0 346.4,244.0 349.0,270.0 346.8,272.0" fill="#fe3116" filter="url(#b1)"/><ellipse cx="349.5" cy="277.0" rx="3.4" ry="11.0" fill="#ff5917" transform="rotate(-16.0 349.5 277.0)" filter="url(#b1)"/><ellipse cx="353.8" cy="288.0" rx="2.2" ry="6.0" fill="#ff8110" transform="rotate(-16.0 353.8 288.0)" filter="url(#b1)"/><ellipse cx="349.0" cy="276.0" rx="1.7" ry="6.5" fill="#ed0205" transform="rotate(-16.0 349.0 276.0)" filter="url(#b05)"/><ellipse cx="353.5" cy="287.0" rx="1.0" ry="3.0" fill="#fd2113" transform="rotate(-16.0 353.5 287.0)" filter="url(#b05)"/><polygon points="397.2,247.0 398.7,247.0 401.0,267.0 398.8,269.0" fill="#fe3116" filter="url(#b1)"/><ellipse cx="401.5" cy="274.0" rx="3.4" ry="11.0" fill="#ff5917" transform="rotate(-16.0 401.5 274.0)" filter="url(#b1)"/><ellipse cx="405.0" cy="288.0" rx="2.2" ry="6.0" fill="#ff8110" transform="rotate(-16.0 405.0 288.0)" filter="url(#b1)"/><ellipse cx="401.0" cy="273.0" rx="1.7" ry="6.5" fill="#ed0205" transform="rotate(-16.0 401.0 273.0)" filter="url(#b05)"/><ellipse cx="404.7" cy="287.0" rx="1.0" ry="3.0" fill="#fd2113" transform="rotate(-16.0 404.7 287.0)" filter="url(#b05)"/><polygon points="447.9,243.0 449.4,243.0 453.0,263.0 450.8,265.0" fill="#fe3116" filter="url(#b1)"/><ellipse cx="453.5" cy="270.0" rx="3.4" ry="11.0" fill="#ff5917" transform="rotate(-16.0 453.5 270.0)" filter="url(#b1)"/><ellipse cx="457.0" cy="284.0" rx="2.2" ry="6.0" fill="#ff8110" transform="rotate(-16.0 457.0 284.0)" filter="url(#b1)"/><ellipse cx="453.0" cy="269.0" rx="1.7" ry="6.5" fill="#ed0205" transform="rotate(-16.0 453.0 269.0)" filter="url(#b05)"/><ellipse cx="456.7" cy="283.0" rx="1.0" ry="3.0" fill="#fd2113" transform="rotate(-16.0 456.7 283.0)" filter="url(#b05)"/><polygon points="498.7,247.0 500.2,247.0 503.5,264.0 501.3,266.0" fill="#fe3116" filter="url(#b1)"/><ellipse cx="504.0" cy="271.0" rx="3.4" ry="11.0" fill="#ff5917" transform="rotate(-16.0 504.0 271.0)" filter="url(#b1)"/><ellipse cx="507.8" cy="284.0" rx="2.2" ry="6.0" fill="#ff8110" transform="rotate(-16.0 507.8 284.0)" filter="url(#b1)"/><ellipse cx="503.5" cy="270.0" rx="1.7" ry="6.5" fill="#ed0205" transform="rotate(-16.0 503.5 270.0)" filter="url(#b05)"/><ellipse cx="507.5" cy="283.0" rx="1.0" ry="3.0" fill="#fd2113" transform="rotate(-16.0 507.5 283.0)" filter="url(#b05)"/><polygon points="549.6,246.0 551.1,246.0 554.0,263.0 551.8,265.0" fill="#fe3116" filter="url(#b1)"/><ellipse cx="554.5" cy="270.0" rx="3.4" ry="11.0" fill="#ff5917" transform="rotate(-16.0 554.5 270.0)" filter="url(#b1)"/><ellipse cx="557.0" cy="284.0" rx="2.2" ry="6.0" fill="#ff8110" transform="rotate(-16.0 557.0 284.0)" filter="url(#b1)"/><ellipse cx="554.0" cy="269.0" rx="1.7" ry="6.5" fill="#ed0205" transform="rotate(-16.0 554.0 269.0)" filter="url(#b05)"/><ellipse cx="556.7" cy="283.0" rx="1.0" ry="3.0" fill="#fd2113" transform="rotate(-16.0 556.7 283.0)" filter="url(#b05)"/><polygon points="336.6,400.0 336.4,391.0 331.4,358.0 331.0,346.0 332.5,337.6 335.6,329.4 339.9,323.0 344.2,318.7 348.5,312.2 350.7,308.0 372.8,319.4 373.9,391.0 373.9,400.0" fill="#cbf424" filter="url(#b2)"/><polygon points="338.3,400.0 338.2,391.0 334.9,355.2 335.2,342.7 337.1,333.9 340.6,325.4 344.9,319.0 349.2,314.7 353.5,308.2 355.7,304.0 372.4,317.4 373.5,391.0 373.5,400.0" fill="#86f54c" filter="url(#b2)"/><polygon points="340.1,400.0 340.0,391.0 338.4,355.9 339.4,343.5 341.8,334.8 345.6,326.4 349.9,320.0 354.2,315.7 358.5,309.2 360.7,305.0 371.9,317.9 373.0,391.0 373.0,400.0" fill="#5cf0bd" filter="url(#b1)"/><polygon points="341.7,400.0 341.6,391.0 341.5,360.8 343.2,349.4 346.0,341.4 350.1,333.4 354.4,327.0 358.7,322.7 363.0,316.2 365.2,312.0 371.4,321.4 372.5,391.0 372.5,400.0" fill="#337bfc" filter="url(#b05)"/><polygon points="342.9,400.0 342.9,391.0 344.0,365.0 346.1,354.4 349.3,347.0 353.6,339.4 357.9,333.0 362.2,328.7 366.5,322.2 368.7,318.0 370.8,324.4 371.9,391.0 371.9,400.0" fill="#1633f7" filter="url(#b05)"/><polygon points="344.5,400.0 344.5,391.0 347.2,368.2 349.9,358.2 353.5,351.2 358.1,343.9 362.4,337.5 366.7,333.2 369.2,326.7 367.3,322.5 370.2,326.6 371.3,391.0 371.3,400.0" fill="#0a1ff1" filter="url(#b1)"/><polygon points="380.6,400.0 380.4,391.0 375.3,363.1 374.9,355.7 376.1,346.0 377.8,338.8 380.7,331.6 385.0,325.1 389.3,318.7 394.7,310.0 398.0,303.6 400.0,298.3 422.2,305.4 424.4,328.0 426.5,338.7 427.6,391.0 427.6,400.0" fill="#cbf424" filter="url(#b2)"/><polygon points="382.3,400.0 382.2,391.0 378.5,360.5 378.5,352.8 380.3,342.7 382.4,335.1 385.7,327.6 390.0,321.1 394.3,314.7 399.7,306.0 403.0,299.6 405.0,294.3 421.8,303.4 424.0,326.0 426.1,336.7 427.2,391.0 427.2,400.0" fill="#86f54c" filter="url(#b2)"/><polygon points="384.1,400.0 384.0,391.0 381.8,361.1 382.2,353.5 384.5,343.5 387.0,336.0 390.7,328.6 395.0,322.1 399.3,315.7 404.7,307.0 408.0,300.6 410.0,295.3 421.3,303.9 423.5,326.5 425.6,337.2 426.7,391.0 426.7,400.0" fill="#5cf0bd" filter="url(#b1)"/><polygon points="385.7,400.0 385.6,391.0 384.7,365.6 385.5,358.6 388.3,349.4 391.2,342.5 395.2,335.6 399.5,329.1 403.8,322.7 409.2,314.0 412.5,307.6 414.5,302.3 420.8,307.4 423.0,330.0 425.1,340.7 426.2,391.0 426.2,400.0" fill="#337bfc" filter="url(#b05)"/><polygon points="386.9,400.0 386.9,391.0 386.9,369.5 388.0,363.0 391.2,354.4 394.4,348.0 398.7,341.6 403.0,335.1 407.3,328.7 412.7,320.0 416.0,313.6 418.0,308.3 420.2,310.4 422.4,333.0 424.5,343.7 425.6,391.0 425.6,400.0" fill="#1633f7" filter="url(#b05)"/><polygon points="388.5,400.0 388.5,391.0 389.8,372.4 391.3,366.3 395.0,358.2 398.5,352.1 403.2,346.1 407.5,339.6 411.8,333.2 417.2,324.5 418.6,318.1 416.6,312.8 419.6,312.6 421.8,335.2 423.9,345.9 425.0,391.0 425.0,400.0" fill="#0a1ff1" filter="url(#b1)"/><polygon points="436.9,400.0 436.7,391.0 434.3,370.4 433.3,355.7 434.6,346.0 436.3,338.8 437.4,333.9 439.2,329.4 442.4,325.1 445.6,319.7 448.9,314.4 452.1,306.5 452.8,304.0 475.3,317.2 476.4,343.0 477.4,391.0 477.4,400.0" fill="#cbf424" filter="url(#b2)"/><polygon points="438.6,400.0 438.5,391.0 437.0,368.2 436.9,352.8 438.8,342.7 440.9,335.1 442.3,330.0 444.2,325.4 447.4,321.1 450.6,315.7 453.9,310.4 457.1,302.5 457.8,300.0 474.9,315.2 476.0,341.0 477.0,391.0 477.0,400.0" fill="#86f54c" filter="url(#b2)"/><polygon points="440.4,400.0 440.3,391.0 439.8,368.7 440.6,353.5 443.0,343.5 445.5,336.0 447.2,331.0 449.2,326.4 452.4,322.1 455.6,316.7 458.9,311.4 462.1,303.5 462.8,301.0 474.4,315.7 475.5,341.5 476.5,391.0 476.5,400.0" fill="#5cf0bd" filter="url(#b1)"/><polygon points="442.0,400.0 441.9,391.0 442.3,372.7 443.9,358.6 446.8,349.4 449.7,342.5 451.6,337.8 453.7,333.4 456.9,329.1 460.1,323.7 463.4,318.4 466.6,310.5 467.3,308.0 473.9,319.2 475.0,345.0 476.0,391.0 476.0,400.0" fill="#337bfc" filter="url(#b05)"/><polygon points="443.2,400.0 443.2,391.0 444.3,376.0 446.4,363.0 449.7,354.4 452.9,348.0 455.0,343.7 457.2,339.4 460.4,335.1 463.6,329.7 466.9,324.4 470.1,316.5 470.8,314.0 473.3,322.2 474.4,348.0 475.4,391.0 475.4,400.0" fill="#1633f7" filter="url(#b05)"/><polygon points="444.8,400.0 444.8,391.0 446.8,378.5 449.7,366.3 453.5,358.2 457.0,352.1 459.4,348.1 461.7,343.9 464.9,339.6 468.1,334.2 471.4,328.9 471.7,321.0 469.4,318.5 472.7,324.4 473.8,350.2 474.8,391.0 474.8,400.0" fill="#0a1ff1" filter="url(#b1)"/><polygon points="487.4,400.0 487.2,391.0 484.8,370.4 483.8,355.7 485.1,346.0 486.8,338.8 487.6,332.7 490.7,327.3 495.0,323.0 498.3,319.7 500.4,314.4 502.6,308.0 524.7,315.0 526.9,328.0 527.9,334.4 529.0,391.0 529.0,400.0" fill="#cbf424" filter="url(#b2)"/><polygon points="489.1,400.0 489.0,391.0 487.5,368.2 487.4,352.8 489.3,342.7 491.4,335.1 492.6,328.7 495.7,323.3 500.0,319.0 503.3,315.7 505.4,310.4 507.6,304.0 524.3,313.0 526.5,326.0 527.5,332.4 528.6,391.0 528.6,400.0" fill="#86f54c" filter="url(#b2)"/><polygon points="490.9,400.0 490.8,391.0 490.3,368.7 491.1,353.5 493.5,343.5 496.0,336.0 497.6,329.7 500.7,324.3 505.0,320.0 508.3,316.7 510.4,311.4 512.6,305.0 523.8,313.5 526.0,326.5 527.0,332.9 528.1,391.0 528.1,400.0" fill="#5cf0bd" filter="url(#b1)"/><polygon points="492.5,400.0 492.4,391.0 492.8,372.7 494.4,358.6 497.3,349.4 500.2,342.5 502.0,336.6 505.2,331.3 509.5,327.0 512.8,323.7 514.9,318.4 517.1,312.0 523.3,317.0 525.5,330.0 526.5,336.4 527.6,391.0 527.6,400.0" fill="#337bfc" filter="url(#b05)"/><polygon points="493.7,400.0 493.7,391.0 494.8,376.0 496.9,363.0 500.2,354.4 503.4,348.0 505.5,342.6 508.7,337.3 513.0,333.0 516.3,329.7 518.4,324.4 520.6,318.0 522.7,320.0 524.9,333.0 525.9,339.4 527.0,391.0 527.0,400.0" fill="#1633f7" filter="url(#b05)"/><polygon points="495.3,400.0 495.3,391.0 497.3,378.5 500.2,366.3 504.0,358.2 507.5,352.1 510.0,347.1 513.2,341.8 517.5,337.5 520.8,334.2 521.1,328.9 519.2,322.5 522.1,322.2 524.3,335.2 525.3,341.6 526.4,391.0 526.4,400.0" fill="#0a1ff1" filter="url(#b1)"/><polygon points="533.4,400.0 533.2,391.0 530.6,370.2 530.8,360.5 531.4,353.2 533.2,345.9 535.1,339.9 536.0,333.8 538.8,331.5 542.0,327.2 546.3,321.8 550.6,316.5 553.8,307.9 556.0,299.3 578.1,306.4 578.8,338.6 579.2,391.0 579.2,400.0" fill="#cbf424" filter="url(#b2)"/><polygon points="535.2,400.0 535.0,391.0 533.4,368.0 534.2,357.8 535.2,350.2 537.4,342.5 539.7,336.3 540.9,329.9 543.8,327.5 547.0,323.2 551.3,317.8 555.6,312.5 558.8,303.9 561.0,295.3 577.7,304.4 578.4,336.6 578.8,391.0 578.8,400.0" fill="#86f54c" filter="url(#b2)"/><polygon points="536.9,400.0 536.8,391.0 536.2,368.5 537.5,358.5 539.0,351.0 541.6,343.4 544.2,337.2 545.8,330.9 548.8,328.5 552.0,324.2 556.3,318.8 560.6,313.5 563.8,304.9 566.0,296.3 577.2,304.9 577.9,337.1 578.3,391.0 578.3,400.0" fill="#5cf0bd" filter="url(#b1)"/><polygon points="538.5,400.0 538.4,391.0 538.7,372.4 540.5,363.2 542.4,356.3 545.4,349.3 548.3,343.5 550.2,337.7 553.3,335.5 556.5,331.2 560.8,325.8 565.1,320.5 568.3,311.9 570.5,303.3 576.7,308.4 577.4,340.6 577.8,391.0 577.8,400.0" fill="#337bfc" filter="url(#b05)"/><polygon points="539.7,400.0 539.7,391.0 540.7,375.8 542.9,367.2 545.0,360.8 548.3,354.3 551.5,349.0 553.6,343.6 556.8,341.5 560.0,337.2 564.3,331.8 568.6,326.5 571.8,317.9 574.0,309.3 576.1,311.4 576.8,343.6 577.2,391.0 577.2,400.0" fill="#1633f7" filter="url(#b05)"/><polygon points="541.3,400.0 541.3,391.0 543.2,378.3 545.9,370.2 548.4,364.2 552.1,358.1 555.6,353.1 558.0,348.0 561.3,346.0 564.5,341.7 568.8,336.3 573.1,331.0 574.5,322.4 572.6,313.8 575.5,313.6 576.2,345.9 576.6,391.0 576.6,400.0" fill="#0a1ff1" filter="url(#b1)"/><polygon points="338.3,400.0 338.3,380.0 339.2,376.0 340.2,380.0 340.2,400.0" fill="#1633f7" filter="url(#b05)"/></g>
<path d="M24.50 18.00V187.70H285.50" fill="none" stroke="#1a1a1a" stroke-width="1.1"/>
<path d="M18.50 187.50H24.50" stroke="#1a1a1a" stroke-width="1"/>
<text transform="translate(11.50 188.30) rotate(-90)" text-anchor="middle" font-size="15" fill="#111" stroke="#111" stroke-width="0.25">0</text>
<path d="M18.50 162.50H24.50" stroke="#1a1a1a" stroke-width="1"/>
<path d="M18.50 136.50H24.50" stroke="#1a1a1a" stroke-width="1"/>
<text transform="translate(11.50 137.90) rotate(-90)" text-anchor="middle" font-size="15" fill="#111" stroke="#111" stroke-width="0.25">10</text>
<path d="M18.50 111.50H24.50" stroke="#1a1a1a" stroke-width="1"/>
<path d="M18.50 86.50H24.50" stroke="#1a1a1a" stroke-width="1"/>
<text transform="translate(11.50 87.50) rotate(-90)" text-anchor="middle" font-size="15" fill="#111" stroke="#111" stroke-width="0.25">20</text>
<path d="M18.50 61.50H24.50" stroke="#1a1a1a" stroke-width="1"/>
<path d="M18.50 36.50H24.50" stroke="#1a1a1a" stroke-width="1"/>
<text transform="translate(11.50 37.10) rotate(-90)" text-anchor="middle" font-size="15" fill="#111" stroke="#111" stroke-width="0.25">30</text>
<path d="M74.50 187.70v5" stroke="#1a1a1a" stroke-width="1"/>
<path d="M127.50 187.70v5" stroke="#1a1a1a" stroke-width="1"/>
<path d="M180.50 187.70v5" stroke="#1a1a1a" stroke-width="1"/>
<path d="M232.50 187.70v5" stroke="#1a1a1a" stroke-width="1"/>
<text x="45.00" y="201.50" text-anchor="middle" font-size="14.6" fill="#111" stroke="#111" stroke-width="0.25">1989</text>
<text x="100.00" y="201.50" text-anchor="middle" font-size="14.6" fill="#111" stroke="#111" stroke-width="0.25">1990</text>
<text x="150.60" y="201.50" text-anchor="middle" font-size="14.6" fill="#111" stroke="#111" stroke-width="0.25">1991</text>
<text x="202.00" y="201.50" text-anchor="middle" font-size="14.6" fill="#111" stroke="#111" stroke-width="0.25">1992</text>
<text x="253.10" y="201.50" text-anchor="middle" font-size="14.6" fill="#111" stroke="#111" stroke-width="0.25">1993</text>
<text x="1.50" y="12.50" font-size="16.2" font-weight="bold" fill="#111">(a)</text>
<path d="M328.50 18.00V185.30H585.00" fill="none" stroke="#1a1a1a" stroke-width="1.1"/>
<path d="M322.50 184.50H328.50" stroke="#1a1a1a" stroke-width="1"/>
<text transform="translate(315.50 185.30) rotate(-90)" text-anchor="middle" font-size="15" fill="#111" stroke="#111" stroke-width="0.25">0</text>
<path d="M322.50 159.50H328.50" stroke="#1a1a1a" stroke-width="1"/>
<path d="M322.50 134.50H328.50" stroke="#1a1a1a" stroke-width="1"/>
<text transform="translate(315.50 135.63) rotate(-90)" text-anchor="middle" font-size="15" fill="#111" stroke="#111" stroke-width="0.25">10</text>
<path d="M322.50 109.50H328.50" stroke="#1a1a1a" stroke-width="1"/>
<path d="M322.50 84.50H328.50" stroke="#1a1a1a" stroke-width="1"/>
<text transform="translate(315.50 85.96) rotate(-90)" text-anchor="middle" font-size="15" fill="#111" stroke="#111" stroke-width="0.25">20</text>
<path d="M322.50 60.50H328.50" stroke="#1a1a1a" stroke-width="1"/>
<path d="M322.50 35.50H328.50" stroke="#1a1a1a" stroke-width="1"/>
<text transform="translate(315.50 36.29) rotate(-90)" text-anchor="middle" font-size="15" fill="#111" stroke="#111" stroke-width="0.25">30</text>
<path d="M377.50 185.30v5" stroke="#1a1a1a" stroke-width="1"/>
<path d="M430.50 185.30v5" stroke="#1a1a1a" stroke-width="1"/>
<path d="M481.50 185.30v5" stroke="#1a1a1a" stroke-width="1"/>
<path d="M532.50 185.30v5" stroke="#1a1a1a" stroke-width="1"/>
<text x="348.50" y="201.30" text-anchor="middle" font-size="14.6" fill="#111" stroke="#111" stroke-width="0.25">1989</text>
<text x="403.50" y="201.30" text-anchor="middle" font-size="14.6" fill="#111" stroke="#111" stroke-width="0.25">1990</text>
<text x="454.70" y="201.30" text-anchor="middle" font-size="14.6" fill="#111" stroke="#111" stroke-width="0.25">1991</text>
<text x="506.00" y="201.30" text-anchor="middle" font-size="14.6" fill="#111" stroke="#111" stroke-width="0.25">1992</text>
<text x="557.10" y="201.30" text-anchor="middle" font-size="14.6" fill="#111" stroke="#111" stroke-width="0.25">1993</text>
<text x="304.80" y="12.50" font-size="16.2" font-weight="bold" fill="#111">(c)</text>
<path d="M25.50 225.00V393.90H286.00" fill="none" stroke="#1a1a1a" stroke-width="1.1"/>
<path d="M19.50 393.50H25.50" stroke="#1a1a1a" stroke-width="1"/>
<text transform="translate(12.50 394.40) rotate(-90)" text-anchor="middle" font-size="15" fill="#111" stroke="#111" stroke-width="0.25">0</text>
<path d="M19.50 369.50H25.50" stroke="#1a1a1a" stroke-width="1"/>
<path d="M19.50 344.50H25.50" stroke="#1a1a1a" stroke-width="1"/>
<text transform="translate(12.50 345.60) rotate(-90)" text-anchor="middle" font-size="15" fill="#111" stroke="#111" stroke-width="0.25">10</text>
<path d="M19.50 320.50H25.50" stroke="#1a1a1a" stroke-width="1"/>
<path d="M19.50 295.50H25.50" stroke="#1a1a1a" stroke-width="1"/>
<text transform="translate(12.50 296.80) rotate(-90)" text-anchor="middle" font-size="15" fill="#111" stroke="#111" stroke-width="0.25">20</text>
<path d="M19.50 271.50H25.50" stroke="#1a1a1a" stroke-width="1"/>
<path d="M19.50 246.50H25.50" stroke="#1a1a1a" stroke-width="1"/>
<text transform="translate(12.50 248.00) rotate(-90)" text-anchor="middle" font-size="15" fill="#111" stroke="#111" stroke-width="0.25">30</text>
<path d="M75.50 393.90v5" stroke="#1a1a1a" stroke-width="1"/>
<path d="M127.50 393.90v5" stroke="#1a1a1a" stroke-width="1"/>
<path d="M180.50 393.90v5" stroke="#1a1a1a" stroke-width="1"/>
<path d="M232.50 393.90v5" stroke="#1a1a1a" stroke-width="1"/>
<path d="M285.50 393.90v5" stroke="#1a1a1a" stroke-width="1"/>
<text x="45.00" y="411.80" text-anchor="middle" font-size="14.6" fill="#111" stroke="#111" stroke-width="0.25">2094</text>
<text x="100.00" y="411.80" text-anchor="middle" font-size="14.6" fill="#111" stroke="#111" stroke-width="0.25">2095</text>
<text x="150.80" y="411.80" text-anchor="middle" font-size="14.6" fill="#111" stroke="#111" stroke-width="0.25">2096</text>
<text x="202.10" y="411.80" text-anchor="middle" font-size="14.6" fill="#111" stroke="#111" stroke-width="0.25">2097</text>
<text x="253.50" y="411.80" text-anchor="middle" font-size="14.6" fill="#111" stroke="#111" stroke-width="0.25">2098</text>
<text x="1.50" y="225.80" font-size="16.2" font-weight="bold" fill="#111">(b)</text>
<path d="M328.50 228.70V394.20H584.25" fill="none" stroke="#1a1a1a" stroke-width="1.1"/>
<path d="M322.50 393.50H328.50" stroke="#1a1a1a" stroke-width="1"/>
<text transform="translate(315.50 394.80) rotate(-90)" text-anchor="middle" font-size="15" fill="#111" stroke="#111" stroke-width="0.25">0</text>
<path d="M322.50 369.50H328.50" stroke="#1a1a1a" stroke-width="1"/>
<path d="M322.50 346.50H328.50" stroke="#1a1a1a" stroke-width="1"/>
<text transform="translate(315.50 347.00) rotate(-90)" text-anchor="middle" font-size="15" fill="#111" stroke="#111" stroke-width="0.25">10</text>
<path d="M322.50 322.50H328.50" stroke="#1a1a1a" stroke-width="1"/>
<path d="M322.50 298.50H328.50" stroke="#1a1a1a" stroke-width="1"/>
<text transform="translate(315.50 299.20) rotate(-90)" text-anchor="middle" font-size="15" fill="#111" stroke="#111" stroke-width="0.25">20</text>
<path d="M322.50 274.50H328.50" stroke="#1a1a1a" stroke-width="1"/>
<path d="M322.50 250.50H328.50" stroke="#1a1a1a" stroke-width="1"/>
<text transform="translate(315.50 251.40) rotate(-90)" text-anchor="middle" font-size="15" fill="#111" stroke="#111" stroke-width="0.25">30</text>
<path d="M377.50 394.20v5" stroke="#1a1a1a" stroke-width="1"/>
<path d="M429.50 394.20v5" stroke="#1a1a1a" stroke-width="1"/>
<path d="M480.50 394.20v5" stroke="#1a1a1a" stroke-width="1"/>
<path d="M531.50 394.20v5" stroke="#1a1a1a" stroke-width="1"/>
<text x="348.80" y="411.80" text-anchor="middle" font-size="14.6" fill="#111" stroke="#111" stroke-width="0.25">2094</text>
<text x="403.50" y="411.80" text-anchor="middle" font-size="14.6" fill="#111" stroke="#111" stroke-width="0.25">2095</text>
<text x="454.90" y="411.80" text-anchor="middle" font-size="14.6" fill="#111" stroke="#111" stroke-width="0.25">2096</text>
<text x="506.00" y="411.80" text-anchor="middle" font-size="14.6" fill="#111" stroke="#111" stroke-width="0.25">2097</text>
<text x="557.10" y="411.80" text-anchor="middle" font-size="14.6" fill="#111" stroke="#111" stroke-width="0.25">2098</text>
<text x="305.00" y="225.80" font-size="16.2" font-weight="bold" fill="#111">(d)</text>
<rect x="24.80" y="416.70" width="257.70" height="10.50" fill="url(#cm)"/>
<path d="M24.80 427.40H282.50" stroke="#1a1a1a" stroke-width="0.8"/>
<path d="M24.50 427.20v5" stroke="#1a1a1a" stroke-width="1"/>
<path d="M49.50 427.20v5" stroke="#1a1a1a" stroke-width="1"/>
<path d="M73.50 427.20v5" stroke="#1a1a1a" stroke-width="1"/>
<path d="M98.50 427.20v5" stroke="#1a1a1a" stroke-width="1"/>
<path d="M122.50 427.20v5" stroke="#1a1a1a" stroke-width="1"/>
<path d="M147.50 427.20v5" stroke="#1a1a1a" stroke-width="1"/>
<path d="M171.50 427.20v5" stroke="#1a1a1a" stroke-width="1"/>
<path d="M196.50 427.20v5" stroke="#1a1a1a" stroke-width="1"/>
<path d="M220.50 427.20v5" stroke="#1a1a1a" stroke-width="1"/>
<path d="M245.50 427.20v5" stroke="#1a1a1a" stroke-width="1"/>
<path d="M269.50 427.20v5" stroke="#1a1a1a" stroke-width="1"/>
<text x="27.00" y="452.20" text-anchor="middle" font-size="14.6" fill="#111" stroke="#111" stroke-width="0.25">4.0</text>
<text x="72.70" y="452.20" text-anchor="middle" font-size="14.6" fill="#111" stroke="#111" stroke-width="0.25">8.0</text>
<text x="123.20" y="452.20" text-anchor="middle" font-size="14.6" fill="#111" stroke="#111" stroke-width="0.25">12.0</text>
<text x="173.75" y="452.20" text-anchor="middle" font-size="14.6" fill="#111" stroke="#111" stroke-width="0.25">16.0</text>
<text x="221.00" y="452.20" text-anchor="middle" font-size="14.6" fill="#111" stroke="#111" stroke-width="0.25">20.0</text>
<text x="267.90" y="452.20" text-anchor="middle" font-size="14.6" fill="#111" stroke="#111" stroke-width="0.25">24.0</text>
<rect x="327.00" y="417.10" width="256.25" height="10.50" fill="url(#cm)"/>
<path d="M327.00 427.80H583.25" stroke="#1a1a1a" stroke-width="0.8"/>
<path d="M327.50 427.60v5" stroke="#1a1a1a" stroke-width="1"/>
<path d="M345.50 427.60v5" stroke="#1a1a1a" stroke-width="1"/>
<path d="M363.50 427.60v5" stroke="#1a1a1a" stroke-width="1"/>
<path d="M381.50 427.60v5" stroke="#1a1a1a" stroke-width="1"/>
<path d="M400.50 427.60v5" stroke="#1a1a1a" stroke-width="1"/>
<path d="M418.50 427.60v5" stroke="#1a1a1a" stroke-width="1"/>
<path d="M436.50 427.60v5" stroke="#1a1a1a" stroke-width="1"/>
<path d="M455.50 427.60v5" stroke="#1a1a1a" stroke-width="1"/>
<path d="M473.50 427.60v5" stroke="#1a1a1a" stroke-width="1"/>
<path d="M491.50 427.60v5" stroke="#1a1a1a" stroke-width="1"/>
<path d="M510.50 427.60v5" stroke="#1a1a1a" stroke-width="1"/>
<path d="M528.50 427.60v5" stroke="#1a1a1a" stroke-width="1"/>
<path d="M546.50 427.60v5" stroke="#1a1a1a" stroke-width="1"/>
<path d="M564.50 427.60v5" stroke="#1a1a1a" stroke-width="1"/>
<path d="M583.50 427.60v5" stroke="#1a1a1a" stroke-width="1"/>
<text x="326.60" y="455.20" text-anchor="middle" font-size="14.6" fill="#111" stroke="#111" stroke-width="0.25">1.0</text>
<text x="361.25" y="455.20" text-anchor="middle" font-size="14.6" fill="#111" stroke="#111" stroke-width="0.25">3.0</text>
<text x="400.50" y="455.20" text-anchor="middle" font-size="14.6" fill="#111" stroke="#111" stroke-width="0.25">5.0</text>
<text x="435.90" y="455.20" text-anchor="middle" font-size="14.6" fill="#111" stroke="#111" stroke-width="0.25">7.0</text>
<text x="471.25" y="455.20" text-anchor="middle" font-size="14.6" fill="#111" stroke="#111" stroke-width="0.25">9.0</text>
<text x="510.40" y="455.20" text-anchor="middle" font-size="14.6" fill="#111" stroke="#111" stroke-width="0.25">11.0</text>
<text x="550.00" y="455.20" text-anchor="middle" font-size="14.6" fill="#111" stroke="#111" stroke-width="0.25">13.0</text>
<text x="586.00" y="455.20" text-anchor="middle" font-size="14.6" fill="#111" stroke="#111" stroke-width="0.25">15.0</text>
<text x="94.3" y="480" font-size="16.6" fill="#111" stroke="#111" stroke-width="0.2" textLength="125" lengthAdjust="spacingAndGlyphs">Temperature (°C)</text>
<text x="384.3" y="483.2" font-size="16.4" fill="#111" stroke="#111" stroke-width="0.2">Oxygen (mg O<tspan font-size="11" dy="3.8">2</tspan><tspan dy="-3.8">/L)</tspan></text>
</svg></body></html>
